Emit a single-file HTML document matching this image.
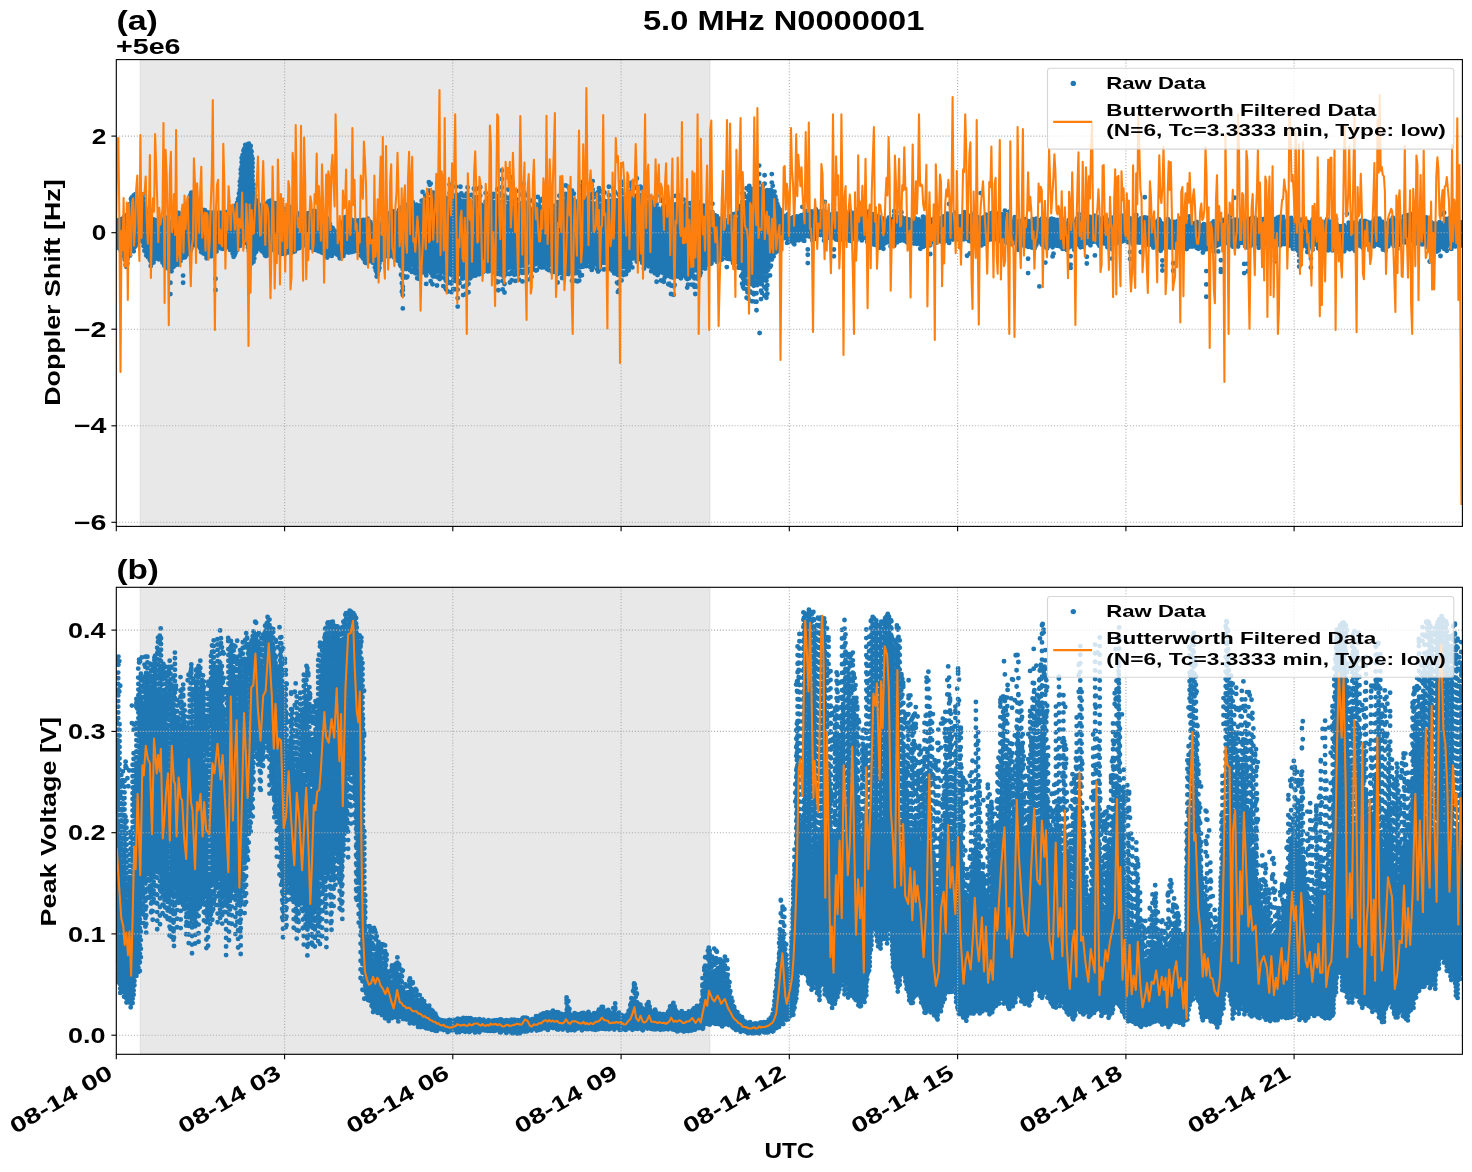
<!DOCTYPE html><html><head><meta charset="utf-8"><title>5.0 MHz N0000001</title><style>html,body{margin:0;padding:0;background:#fff}html,body{overflow:hidden}svg{display:block;will-change:transform}</style></head><body><svg width="1472" height="1172" viewBox="0 0 1472 1172" font-family="'Liberation Sans', sans-serif" font-weight="bold" fill="#000"><rect width="1472" height="1172" fill="#fff"/><clipPath id="c1"><rect x="116.3" y="59.6" width="1346.1" height="466.8"/></clipPath><clipPath id="c2"><rect x="116.3" y="587.3" width="1346.1" height="467"/></clipPath><rect x="140.3" y="59.6" width="569.5" height="466.8" fill="#e8e8e8" stroke="#dcdcdc" stroke-width="1"/><g clip-path="url(#c1)"><path d="M401 266.2V277.6M401.9 266.2V297M402.8 269.6V295.5M403.7 267.5V283.7M406.4 269V280.4M407.3 268.2V280.6M409.1 268.1V272.9M410 270.2V272.9M410.9 269.9V272.5M411.8 271.9V278.7M412.7 270.4V274.4M415.4 273.2V275.3M416.3 269V276.1M417.2 269.8V279.1M418.1 273.7V280.2M419 270.4V283M419.9 269.6V274.5M420.8 272.7V275.5M421.7 200.8V204.1M422.6 192V203.6M422.6 271.7V275.9M425.3 195.6V202M426.2 196.8V201.4M426.2 275.4V284.8M428 192.7V200.4M428.9 182.3V199.8M429.8 184.8V199.3M430.7 183.6V198.7M430.7 272.7V288.9M431.6 192.7V199.1M432.5 275.8V284.9M433.4 192.7V199.8M433.4 276.5V283.4M435.2 197.8V200.5M437 277V289.1M437.9 186.5V201.6M437.9 276.4V281.3M438.8 201V202M439.7 279V281.7M443.3 277.6V289.9M444.2 196V202.8M445.1 278.8V289.5M446 280.8V295.2M446.9 200.7V202.8M446.9 278.8V285.2M447.8 283V295M448.7 197.9V202.8M449.6 184.6V202.8M449.6 282.1V288.2M450.5 186.9V202.8M451.4 283.6V296.6M453.2 280.7V290.5M455 280.7V296M455.9 186.7V202.8M455.9 281.1V284.8M456.8 194.6V202.8M457.7 196.4V202.8M457.7 281.1V308.3M458.6 281.1V284.5M459.5 199.2V202.8M459.5 283V290.4M460.4 186.7V202.8M461.3 193.5V202.8M463.1 278.1V298.6M464 196V203.1M464.9 277.7V288.7M465.8 277V296.3M466.7 193.8V203.3M466.7 276.7V290.9M467.6 187.4V203.4M468.5 275.2V292.4M470.3 278.3V279.1M471.2 194.9V203.8M471.2 275.9V278.8M473.9 188.7V204.1M473.9 275.1V281M475.7 189.3V204.2M476.6 188.8V204.3M476.6 271.7V278.7M479.3 274.3V276.5M480.2 187.2V204.7M482.9 272V278.5M484.7 270.9V274.7M485.6 193.1V204.5M487.4 199.1V204.3M489.2 197.6V204.1M490.1 195.8V204M492.8 197.2V203.8M493.7 193.9V203.7M496.4 201.7V203.4M496.4 272.7V282.1M497.3 189.2V203.3M497.3 273.7V282.5M498.2 196.2V203.2M498.2 273.3V291.1M500 193.9V203.1M500.9 193.7V203M501.8 170.4V202.9M502.7 196.3V202.9M502.7 272.4V290.4M503.6 195.7V203.1M503.6 276.3V282.1M504.5 201.4V203.2M504.5 275.5V294.5M505.4 196.5V203.4M508.1 189.5V204M508.1 273.7V281M509.9 274V286.7M510.8 196.7V204.5M511.7 177.5V204.7M511.7 271.8V280.4M512.6 182.9V204.9M512.6 273.6V275.2M514.4 274.8V279M515.3 272.4V281.2M516.2 190.9V205.6M517.1 205.5V205.8M517.1 271.1V278.6M518 274.4V280.8M518.9 271.1V280.2M519.8 270.9V277.9M521.6 194.7V206.7M522.5 272.9V281.5M523.4 183.9V207M523.4 270.9V278.4M524.3 193V207.1M524.3 272.6V276.9M526.1 195.3V207.2M526.1 272.6V279.7M527 272.9V274.3M527.9 271.1V280.6M528.8 269.1V274.8M529.7 201.2V207.6M529.7 268.7V275.5M530.6 270.8V275.8M531.5 200.6V207.8M531.5 268.2V276.8M533.3 269.3V276.9M536 270.6V272.5M536.9 270.1V271.8M537.8 197V208.4M539.6 266.9V271.8M540.5 200.7V208.7M541.4 200.1V208.8M541.4 267.3V270.9M542.3 198.9V208.9M545 202.2V209.5M545.9 204.7V209.8M546.8 268.8V273.4M547.7 268.8V273.1M548.6 207.2V210.7M548.6 270.1V272.3M549.5 209.2V211M551.3 270.8V275.9M552.2 205.5V211.9M552.2 272V277.7M553.1 271.6V274.4M554 205.9V212.5M554 268.9V277.1M554.9 271.7V279M556.7 273.1V279.1M557.6 202.2V210.6M557.6 274V283.2M558.5 206.4V209.5M559.4 195.7V208.3M561.2 273.1V280M562.1 269.5V279.5M563 195.3V203.8M563 273.6V276.9M564.8 201.4V202.8M564.8 273.9V277.9M565.7 185.5V202.8M565.7 271.6V276.7M567.5 196.9V202.8M568.4 187V202.8M568.4 274.1V278.1M569.3 188.4V202.8M570.2 195.9V202.8M571.1 195.4V202.8M572 190.6V202.8M572 272.3V287.5M572.9 200.3V202.8M572.9 270.8V274.6M573.8 193.7V202.8M574.7 273.4V274.6M575.6 272.2V287M577.4 272.9V285.3M578.3 272.5V272.7M579.2 272.1V283.3M580.1 267.2V278.1M581 186.2V202.7M581.9 266.7V276.7M582.8 181.9V202.4M582.8 266.6V270.6M584.6 263.6V268.4M590 266.7V271.1M590.9 188.4V201M591.8 185.7V200.9M591.8 269.9V272.2M592.7 181.1V200.8M594.5 193.7V201.4M597.2 197.4V202.3M598.1 192.2V202.6M598.1 271.6V277M599 188.2V202.9M600.8 191.3V203.5M602.6 201.4V204.1M603.5 193.6V204.4M603.5 269.4V270.9M604.4 192.5V204.7M604.4 269.3V272.2M608.9 186.8V204.4M610.7 269.3V272M612.5 270.8V274.9M613.4 188.8V203.9M614.3 191.3V203.8M614.3 273.4V276.2M615.2 192.5V203.7M617 274.1V286.1M617.9 274.9V296.3M618.8 194.7V203.3M618.8 273.4V295.6M620.6 272.1V278.2M621.5 181.7V203M621.5 271.9V283.1M622.4 184.7V202.9M622.4 272.8V278.2M623.3 275.1V280.4M624.2 273.6V275.6M625.1 202V202.3M625.1 272.5V277.3M626 274.2V282.7M626.9 271.2V276.4M627.8 194.1V201.5M630.5 185.8V200.7M631.4 182.6V200.5M632.3 187.8V200.2M632.3 267.4V271M633.2 196.9V200M634.1 188.3V199.7M636.8 178.5V198.9M638.6 189.7V199.2M640.4 186.7V200M641.3 187.8V200.4M644 197.7V201.6M644.9 188.9V202M648.5 196.4V203.6M649.4 201.7V204M651.2 271.3V273.5M653 201.3V205.6M654.8 204.8V206.4M655.7 270.4V275.1M656.6 195.8V207.2M656.6 273.3V283.7M657.5 275.1V277.1M658.4 273V275.9M661.1 272V282.8M662 200.8V209.3M662.9 199.5V209.7M663.8 205.8V210M663.8 273.2V283.5M664.7 277.6V283M665.6 274.4V282.4M668.3 275.7V290M669.2 275.3V290.9M671 277V294.6M671.9 205V210.4M672.8 277.2V294.2M673.7 277.8V301.2M674.6 208.7V210.2M674.6 276.4V293.3M675.5 195.9V210.1M677.3 209.5V209.9M677.3 276.2V284.5M678.2 195.5V209.8M678.2 275.5V281.5M679.1 200.1V209.7M681.8 206.9V209.4M683.6 199.6V209.3M686.3 203.7V209M686.3 277.9V282.6M687.2 279.1V288.8M688.1 276.1V289.7M689 278.3V284.8M689.9 203.3V208.5M691.7 276.1V287.3M693.5 276.1V287.8M694.4 278.3V291.2M695.3 277V294.4M696.2 278.2V287.8M697.1 276.8V281.5M698 278.9V283M698.9 202.6V207.1M699.8 275.6V280.3M705.2 206.4V210.3M711.5 263.3V266.1M712.4 203.7V214.7M715.1 259.5V265.5M716.9 261.8V269M721.4 259.8V264.5M722.3 259.3V267.8M723.2 214.5V219.5M726.8 258.6V268.9M728.6 258.9V265.5M729.5 216.5V220.3M731.3 259.5V265.7M733.1 214.1V220.7M733.1 263V263.8M734 215V220.9M734.9 260.2V264.7M736.7 212.8V221.2M737.6 262V265.9M738.5 212.1V217.7M738.5 267.8V275.7M739.4 206V215.5M740.3 208.9V213.2M741.2 276.1V281.4M742.1 193.2V209.6M742.1 275.2V289M743 278.3V294.1M743.9 193.6V206.7M743.9 280.1V295.8M744.8 196.5V205.2M745.7 283.1V290.8M746.6 188.3V202.4M746.6 280.7V299M747.5 283.8V298.3M748.4 190.1V199.5M748.4 281.7V306.2M749.3 186V198M750.2 190.2V196.6M750.2 283V293.2M751.1 189V195.2M752 284.2V309.5M752.9 282V289.3M753.8 285.8V298.6M754.7 284.6V304.9M755.6 190V193M755.6 282.8V290.1M756.5 192.4V192.6M756.5 284.7V318.7M757.4 186.3V192.2M759.2 165.6V191.5M759.2 283.4V291.9M761 188.9V190.8M761 282.1V304.9M761.9 284.3V293.1M762.8 186V190.8M764.6 175.2V191.1M764.6 278.8V301.9M766.4 272.3V300.1M767.3 268.2V295M768.2 269.7V271.7M769.1 267.4V272.9M770 266.9V278.5M770.9 265.8V268.7M771.8 174.1V192.6M772.7 185.8V193.4" stroke="#1f77b4" stroke-width="4.9" stroke-linecap="round" stroke-dasharray="0 8.5" fill="none"/><path d="M116.6 222.1V248.6M117.5 220.8V247.6M118.4 220.2V249.2M119.3 220.8V249.3M120.2 219.5V249.7M121.1 221.2V250M122 218.9V250.5M122.9 219.6V253.6M123.8 217.5V257.7M124.7 220.9V262.6M125.6 217.6V266.6M126.5 215.3V269.3M127.4 216.1V266.6M128.3 213.3V259.4M129.2 208.5V259M130.1 203.9V257.9M131 199V254.6M131.9 197.5V252.3M132.8 198.3V252.4M133.7 195.4V252.5M134.6 195.5V249.2M135.5 194.3V250M136.4 200.3V247M137.3 199.9V246.8M138.2 202.8V243.3M139.1 203.3V237.7M140 201.3V241.2M140.9 199V239.1M141.8 199.7V242.3M142.7 194.5V242.3M143.6 198.7V248.6M144.5 203.5V251.2M145.4 208.4V254.4M146.3 212.5V257M147.2 213V255.4M148.1 214.3V261M149 217.6V257.9M149.9 217.1V262.2M150.8 218.6V267.1M151.7 219.7V266.3M152.6 219.2V264.9M153.5 219.5V263.9M154.4 219.7V261.7M155.3 220V261.5M156.2 221.2V259.5M157.1 221.3V256.9M158 225.7V258.2M158.9 220.7V260.9M159.8 223.2V257.9M160.7 219.8V260.4M161.6 219.6V261.1M162.5 219.6V263.6M163.4 219.9V265.9M164.3 218.5V267.2M165.2 217.8V268.3M166.1 217.7V266.3M167 220.6V269.6M167.9 220.9V271M168.8 221.5V272.5M169.7 222.4V272.9M170.6 222.4V271.4M171.5 224V271.7M172.4 222.9V269.7M173.3 219.8V267.2M174.2 218.4V269.2M175.1 217.9V267.9M176 216.7V268.2M176.9 216.1V264.3M177.8 212.7V264.6M178.7 212.9V264.8M179.6 214.2V263.1M180.5 218V262.4M181.4 218.3V261.2M182.3 215.8V258.8M183.2 214.5V259M184.1 214.2V259M185 214.2V258.9M185.9 212.5V257.8M186.8 211.5V254.7M187.7 211.4V253.5M188.6 207V253.7M189.5 200.7V250.2M190.4 195.1V251.3M191.3 192.7V249.7M192.2 192.7V243.4M193.1 192.8V247.2M194 193.5V248.4M194.9 204V245.6M195.8 211V248.5M196.7 212.7V246.9M197.6 211.5V243M198.5 210.9V248.8M199.4 212.3V250.2M200.3 209.8V249.8M201.2 209.1V252.3M202.1 209.6V253.3M203 210V254.8M203.9 210.6V254.9M204.8 210.3V257M205.7 211.7V255.4M206.6 215.2V258.2M207.5 213V256.7M208.4 212.6V256.2M209.3 212.7V257M210.2 214.9V256.6M211.1 213.3V257.1M212 212.6V256.3M212.9 213.7V255.8M213.8 212.6V255.7M214.7 212.6V253.3M215.6 212.6V254.4M216.5 212.8V253.3M217.4 213.1V248M218.3 212.6V248.7M219.2 217.4V250.2M220.1 212.7V249.6M221 214V250.4M221.9 213.1V243.1M222.8 214.5V249.3M223.7 215.2V249.1M224.6 212.6V247.9M225.5 213.7V245.4M226.4 212.8V247.7M227.3 211.9V247.2M228.2 211.8V246.5M229.1 211.8V247.4M230 211.2V250M230.9 211.3V251.8M231.8 211.6V251.9M232.7 210.6V257.6M233.6 209.4V259.5M234.5 207.9V258.4M235.4 205.7V253.2M236.3 205.6V252M237.2 202.8V250.1M238.1 199.1V250.7M239 193.4V247.8M239.9 181.4V246M240.8 169.5V245.9M241.7 157.9V243.4M242.6 155.1V243.8M243.5 150.8V242.6M244.4 148.8V241M245.3 145V240M246.2 147.4V243.3M247.1 144.7V246.5M248 144.2V251.2M248.9 143.7V254.1M249.8 146V258.8M250.7 145.9V262.6M251.6 151.6V266.2M252.5 158.7V264.4M253.4 184.3V261.7M254.3 194V260.9M255.2 195.7V254.7M256.1 200.2V252M257 201.2V250.1M257.9 203.2V248.8M258.8 204.8V245.3M259.7 205.9V250.8M260.6 210.6V251.1M261.5 212V252.1M262.4 208.6V253.6M263.3 208.8V254M264.2 205.9V254.9M265.1 208.1V257.1M266 204.5V256.1M266.9 203.9V257.3M267.8 202.4V256.3M268.7 201.4V255.9M269.6 201.8V254.3M270.5 200.7V246.9M271.4 201.3V250.9M272.3 202.4V250.4M273.2 203.3V249.5M274.1 206.4V248.8M275 203.1V248.6M275.9 203.4V247.9M276.8 203.4V252.1M277.7 203.9V253.1M278.6 205.1V253.3M279.5 204.2V254.3M280.4 205.1V254.7M281.3 206.5V254.7M282.2 207.8V249.7M283.1 207.6V250.5M284 208.6V252.7M284.9 211.3V254.7M285.8 210.2V253.1M286.7 212.9V254.5M287.6 209.3V252.6M288.5 209.4V252.9M289.4 207.9V254.2M290.3 207.2V252.3M291.2 209.9V254M292.1 211.7V251.1M293 213.1V253.7M293.9 214.8V253M294.8 212.7V251.5M295.7 214V251M296.6 213.3V251.8M297.5 214.1V251.2M298.4 216.6V248M299.3 213.6V250.4M300.2 216.4V249.9M301.1 214.8V247.4M302 214.5V248.5M302.9 214.5V247.5M303.8 215V248.3M304.7 214.9V248.4M305.6 214.5V248.3M306.5 215.5V249.3M307.4 214V248.4M308.3 213.3V248.7M309.2 213.2V249.6M310.1 212.7V249.7M311 213V249.4M311.9 213V248.2M312.8 211.4V244M313.7 210.9V250.5M314.6 210.9V249.9M315.5 212.9V248.9M316.4 211.4V251.4M317.3 213.5V252.1M318.2 212.4V252.9M319.1 212.4V253.6M320 212.8V251.7M320.9 213V251.1M321.8 213.8V255.6M322.7 214V254.6M323.6 214.7V252.9M324.5 214.8V255.9M325.4 215.5V257.7M326.3 216.9V254.5M327.2 218.8V257.6M328.1 220.8V257.2M329 224.3V256.8M329.9 224V254.7M330.8 227V256.5M331.7 230.1V256.8M332.6 227.9V256.5M333.5 229.8V252.9M334.4 231.5V255.2M335.3 231.7V256.7M336.2 235.9V255.6M337.1 232.9V257.9M338 233.4V257M338.9 230V258.4M339.8 228.2V259.5M340.7 225.5V259.5M341.6 223.4V256.5M342.5 223.6V257.5M343.4 221.7V256.7M344.3 218.6V255.9M345.2 217.1V253M346.1 217V254M347 217.3V250.6M347.9 217.9V252.7M348.8 218.1V252.6M349.7 220.5V252.3M350.6 218.9V251.8M351.5 221.9V252.5M352.4 221.6V252.4M353.3 220.7V252.7M354.2 221.1V252.1M355.1 220.5V251.6M356 222.8V251.1M356.9 220.7V252.1M357.8 222.9V249.6M358.7 222.6V252.1M359.6 220.1V252.7M360.5 221V256.6M361.4 221.7V255.8M362.3 222.6V258.1M363.2 219.9V260.5M364.1 220.5V261.8M365 223.5V262.3M365.9 219.9V264M366.8 219.9V265.6M367.7 218.8V264M368.6 220.6V257.9M369.5 224V260.3M370.4 222.3V261.1M371.3 225.7V260M372.2 225.1V256.9M373.1 228.3V262.7M374 231.8V265.8M374.9 233.2V269.5M375.8 236.2V273.1M376.7 237.8V276.7M377.6 235.8V277.8M378.5 236.3V272.4M379.4 229.2V270M380.3 229.1V261.1M381.2 225.5V263.5M382.1 223.3V259.8M383 221.3V258.7M383.9 220.2V258.3M384.8 221.9V257.3M385.7 215.7V254.2M386.6 215.1V253.6M387.5 217.6V256.8M388.4 215.3V257M389.3 213.4V257M390.2 213.1V253.8M391.1 211.7V255.2M392 212.5V255.8M392.9 211.2V252.3M393.8 214.2V258.2M394.7 215.3V256.3M395.6 218.8V256.6M396.5 218.6V261.3M397.4 217.5V262M398.3 212.3V260.8M399.2 209.9V263.5M400.1 213V267.6M401 207.8V263.2M401.9 209.1V263.4M402.8 207.2V263.6M403.7 211.7V263.8M404.6 212.8V268.4M405.5 211.3V267.7M406.4 206.8V264.3M407.3 209.5V264.5M408.2 204.4V266.9M409.1 204.3V264.8M410 204.3V265M410.9 208.8V265.2M411.8 207.4V265.4M412.7 202.1V265.5M413.6 210V268.5M414.5 205.6V271.9M415.4 208.5V266.1M416.3 204.7V266.3M417.2 206.3V266.4M418.1 208.3V266.6M419 207.1V266.8M419.9 205.4V267M420.8 208.6V267.2M421.7 206.6V264.5M422.6 206V267.6M423.5 201.9V273.4M424.4 207.7V272.5M425.3 204.4V275M426.2 203.9V268.5M427.1 201.1V267.8M428 202.8V270.8M428.9 202.3V274.2M429.8 201.7V272.1M430.7 201.2V269.6M431.6 201.5V271.3M432.5 197V270.1M433.4 202.2V270.3M434.3 204.1V274.3M435.2 203V273.1M436.1 198.8V274.4M437 199V271.2M437.9 204V271.6M438.8 204.4V271M439.7 202.8V272.4M440.6 199.8V279.7M441.5 201.9V273.1M442.4 203.7V271.6M443.3 205.1V273.9M444.2 205.3V273.3M445.1 204.8V274.7M446 199.3V275.1M446.9 205.3V275.5M447.8 201.7V275.9M448.7 205.3V276.2M449.6 205.3V276.6M450.5 205.3V277.2M451.4 200.5V277.3M452.3 206.6V277.4M453.2 205.4V276.9M454.1 201.3V281.4M455 199.4V276.6M455.9 205.3V276.4M456.8 205.3V279.2M457.7 205.3V276M458.6 200.1V275.8M459.5 205.3V275.7M460.4 205.3V275.6M461.3 205.3V275.7M462.2 201.1V280.1M463.1 201V274.6M464 205.5V277M464.9 203.9V273.9M465.8 200.9V273.5M466.7 205.8V273.2M467.6 205.9V279.2M468.5 199.5V272.5M469.4 202.2V277.6M470.3 202V271.7M471.2 206.2V271.4M472.1 206.9V269.8M473 207.3V277.1M473.9 206.5V270.3M474.8 200.7V272.8M475.7 206.7V276M476.6 206.8V269.2M477.5 207V275.6M478.4 200.4V267.1M479.3 207.6V268.1M480.2 207.1V267.9M481.1 204.9V270.2M482 208V273M482.9 209.6V267.2M483.8 205.8V270.5M484.7 207.3V267.4M485.6 206.9V267.4M486.5 204.3V266.5M487.4 206.8V273.9M488.3 200.9V272.7M489.2 206.6V273.7M490.1 206.5V269.4M491 200.5V268.6M491.9 205.5V270.5M492.8 206.2V267.2M493.7 206.1V271.9M494.6 202.7V273.3M495.5 204.2V273.8M496.4 205.9V268.5M497.3 205.8V268.6M498.2 205.7V268.7M499.1 207V271.5M500 205.5V274.6M500.9 205.4V275.8M501.8 205.3V270M502.7 205.3V269.1M503.6 205.5V269M504.5 205.7V268.9M505.4 205.9V271.5M506.3 208.7V273M507.2 208.4V269.5M508.1 206.4V268.6M509 202.7V268.4M509.9 202.9V268.4M510.8 206.9V267.5M511.7 207.1V268.2M512.6 207.3V268.1M513.5 207.9V269.3M514.4 207.8V267.9M515.3 202.5V267.8M516.2 208V268.3M517.1 208.2V267.7M518 204.8V267.6M518.9 205V267.5M519.8 208V267.4M520.7 206.1V267.6M521.6 209.1V268.2M522.5 207.6V267.1M523.4 209.4V267M524.3 209.5V266.7M525.2 206.1V267M526.1 209.7V266.3M527 207.5V266.1M527.9 210.7V265.8M528.8 206.2V265.6M529.7 210V265.4M530.6 210.5V265.2M531.5 210.2V264.9M532.4 210.1V270.1M533.3 208.6V264.5M534.2 211.7V263.6M535.1 204.2V266.8M536 207.9V263.8M536.9 207.3V263.6M537.8 210.9V265.9M538.7 204.7V264.8M539.6 207.2V263.1M540.5 211.1V262.9M541.4 211.2V263.4M542.3 211.3V267.3M543.2 211.5V264.9M544.1 211.2V267.7M545 212V265.1M545.9 212.3V265.6M546.8 207V264.5M547.7 211.2V264.7M548.6 213.2V264.9M549.5 213.5V266.5M550.4 212.9V264.7M551.3 213.3V265.4M552.2 214.4V265.6M553.1 213.7V265.8M554 215V265.9M554.9 210.4V266.1M555.8 208.8V272.1M556.7 213.6V266.5M557.6 213V266.7M558.5 211.9V266.2M559.4 210.8V271.6M560.3 210.7V272.9M561.2 207V267.1M562.1 209V267.1M563 206.3V267.1M563.9 201.1V266.1M564.8 205.3V267.1M565.7 205.3V267.1M566.6 198.6V273.4M567.5 205.3V271.6M568.4 205.3V267.1M569.3 205.3V271.5M570.2 205.3V270.3M571.1 205.3V274M572 205.3V267.1M572.9 205.3V267.1M573.8 205.3V271M574.7 201.6V267.1M575.6 205.6V267.1M576.5 205.2V273.1M577.4 201.5V266.1M578.3 205.4V265.4M579.2 201.6V264.8M580.1 204.6V264.1M581 205.1V265.4M581.9 202.2V262.7M582.8 204.8V262.1M583.7 206V267.8M584.6 204V261.1M585.5 199.9V264M586.4 201.5V268.1M587.3 197.6V264.8M588.2 199.7V263.5M589.1 199.7V264M590 204.1V263.4M590.9 203.5V266.9M591.8 203.3V264.2M592.7 203.3V269.5M593.6 203.4V262.4M594.5 203.9V265.7M595.4 203.9V264.2M596.3 204.4V267.7M597.2 204.8V270M598.1 205.1V266.9M599 205.4V273.3M599.9 205.8V269.7M600.8 206V266.1M601.7 205.3V263.4M602.6 206.6V264.4M603.5 206.9V263.4M604.4 207.2V262.8M605.3 206.9V264.1M606.2 204.7V261.6M607.1 201.5V262.4M608 204.4V265.4M608.9 206.9V265.7M609.8 203.9V269M610.7 201V264.8M611.6 202.7V267.8M612.5 202.9V266.6M613.4 206.4V267.9M614.3 206.3V268.4M615.2 206.2V267.3M616.1 205.6V274.4M617 200.5V271.1M617.9 205.9V270.8M618.8 205.8V270.3M619.7 202.2V275M620.6 202.4V269.4M621.5 205.5V269M622.4 205.4V268.5M623.3 202.5V268.1M624.2 198.3V267.6M625.1 204.7V267.2M626 200.1V266.7M626.9 204.2V266.3M627.8 204V268.7M628.7 201.5V271.9M629.6 196.6V268.5M630.5 203.2V264.7M631.4 202.9V262.9M632.3 202.7V262.1M633.2 202.4V260.3M634.1 202.2V261.1M635 196.4V260M635.9 196.8V260.4M636.8 201.4V262.1M637.7 199.5V262.8M638.6 201.6V261.6M639.5 198.7V262.4M640.4 202.4V261.8M641.3 202.8V262.8M642.2 202.5V264.9M643.1 202.4V265M644 204V268.8M644.9 204.4V264.1M645.8 204.6V265.3M646.7 202.6V264.1M647.6 205.7V264.7M648.5 206V266.8M649.4 206.4V266.1M650.3 206.2V268.6M651.2 208.6V265.9M652.1 204.3V270M653 208V268M653.9 202.7V271.4M654.8 208.8V273.6M655.7 203.9V267.7M656.6 209.6V268M657.5 210.8V268.3M658.4 208.7V268.6M659.3 210.7V274M660.2 211.9V270.4M661.1 211.6V269.5M662 211.8V270.8M662.9 212.1V276.3M663.8 212.5V270.4M664.7 206.1V270.7M665.6 213.3V271M666.5 214V269.9M667.4 212.9V277.3M668.3 208.1V271.4M669.2 206.2V271.5M670.1 211.4V274.1M671 209.1V271.7M671.9 212.9V274.9M672.8 209.2V271.8M673.7 209.3V271.9M674.6 212.6V272M675.5 212.5V272.7M676.4 213.8V275M677.3 212.3V272.3M678.2 212.3V272.4M679.1 212.2V278.8M680 207.4V271.6M680.9 205.1V278.5M681.8 211.9V276.3M682.7 213.1V275.4M683.6 211.7V276.1M684.5 211.2V279.8M685.4 205.1V270.6M686.3 211.4V273.2M687.2 207.6V273.2M688.1 209.8V273M689 209.1V272.9M689.9 210.9V275M690.8 210.4V278.5M691.7 204.4V272.5M692.6 211.6V273.9M693.5 210.6V272.2M694.4 208.9V272M695.3 207.7V271.9M696.2 204.3V271.8M697.1 210.4V271.6M698 205.2V271.5M698.9 209.5V275.9M699.8 210.6V271.2M700.7 208.3V273.8M701.6 207.9V271M702.5 206.4V269.4M703.4 205.8V266.7M704.3 212.3V269M705.2 212.7V268.7M706.1 212.1V264.5M707 213.2V268.1M707.9 214.6V262.3M708.8 213.8V258.5M709.7 215.4V264.3M710.6 216.5V265.4M711.5 211.9V258.2M712.4 217.1V257.1M713.3 218.5V261.1M714.2 216.8V261.1M715.1 215.5V256.8M716 219.1V256M716.9 216.3V256.2M717.8 218.2V257.8M718.7 220.1V258.8M719.6 221V260.5M720.5 222.1V260M721.4 218.6V254.9M722.3 222V255M723.2 222V256.2M724.1 215.9V258.6M725 219.9V257.3M725.9 221.1V255.9M726.8 221.7V255.6M727.7 221.5V257.2M728.6 221.5V255.8M729.5 222.7V260.8M730.4 223.2V261.4M731.3 217.2V256.1M732.2 223.2V260.1M733.1 223.2V256.3M734 223.3V259.5M734.9 219.1V256.6M735.8 225.3V261.6M736.7 223.6V261.4M737.6 222.7V258.4M738.5 220.2V261.1M739.4 217.9V267.2M740.3 215.7V269.7M741.2 212.2V269.2M742.1 212V271.9M743 213V274.6M743.9 209.1V275.6M744.8 207.7V276.8M745.7 205.4V276.5M746.6 204.8V277M747.5 201.7V277.4M748.4 201.9V277.9M749.3 200.5V277.2M750.2 199V278.8M751.1 197.6V284.2M752 196.2V279.4M752.9 192.7V279.4M753.8 194.4V279.4M754.7 195V279.4M755.6 195.4V279.4M756.5 195V279.4M757.4 194.7V286.4M758.3 189.6V280M759.2 194V279.4M760.1 191.7V285.6M761 193.2V279.4M761.9 192.8V278.8M762.8 193.2V279.9M763.7 194.3V280.6M764.6 193.6V271.6M765.5 190.9V268.4M766.4 195.3V266.8M767.3 190.2V264.4M768.2 193.6V262.6M769.1 190.9V261.7M770 193.8V260.8M770.9 189.9V259.9M771.8 195V260.4M772.7 195.8V256.6M773.6 196.4V256.9M774.5 191.7V255.4M775.4 196.7V253.6M776.3 200.1V254M777.2 203.6V252.6M778.1 206.5V251.1M779 208.8V246.6M779.9 210V245.1M780.8 211.9V242.6M781.7 216.6V241.5M782.6 216.8V239M783.5 218.3V239.8M784.4 220.8V239M785.3 216V240.1M786.2 220.2V240.9M787.1 217.1V247.1M788 214.3V242.1M788.9 220.2V244.3M789.8 218.3V242.3M790.7 219.3V240M791.6 218.9V244.3M792.5 219.6V244.9M793.4 217.2V246.4M794.3 218.5V246.2M795.2 219.3V244.7M796.1 218.1V239.3M797 216.5V241.4M797.9 219V239.2M798.8 218.7V243.3M799.7 216.5V239.4M800.6 215.6V240.5M801.5 215.3V238.1M802.4 216.7V238.4M803.3 214.8V242.5M804.2 215.1V241.6M805.1 215.3V236.2M806 214.8V237M806.9 211.2V236.5M807.8 212.4V237.2M808.7 214.1V237.6M809.6 215V237.6M810.5 212.2V236.5M811.4 211.5V236.4M812.3 214.5V240.6M813.2 214.7V237.8M814.1 213.2V235.7M815 213.1V242.3M815.9 209.4V238.6M816.8 213.6V238.2M817.7 213.9V235.1M818.6 211.9V235.7M819.5 211.8V235.4M820.4 213.5V236M821.3 215.8V236.7M822.2 213.1V235.2M823.1 211V236.1M824 214.7V240.6M824.9 214.8V239.5M825.8 212.1V236.3M826.7 213.1V237.2M827.6 216.9V236.3M828.5 215.5V240.6M829.4 216.4V241.2M830.3 215.3V239.4M831.2 214.5V238.1M832.1 215.9V237.9M833 214.3V237.4M833.9 205V239.2M834.8 215.4V238.2M835.7 213.4V240.6M836.6 215V239.3M837.5 213.9V242M838.4 216.5V238.4M839.3 216.4V238.4M840.2 218.2V242M841.1 216.6V238.6M842 212.6V242.3M842.9 217.6V241M843.8 216.2V238.3M844.7 216.8V237.7M845.6 214.7V239.1M846.5 217.3V241.4M847.4 213.4V241.2M848.3 214.3V238.3M849.2 216.6V240.4M850.1 210.8V242.9M851 215.4V239.4M851.9 213.1V238.1M852.8 214.6V238.7M853.7 213.3V238.8M854.6 213.2V239.8M855.5 215.5V240.1M856.4 210.1V240.4M857.3 214.4V240.1M858.2 214.7V237.7M859.1 215.7V236.8M860 214.9V238.4M860.9 217.1V241.1M861.8 214.6V241.9M862.7 217V237.5M863.6 216.6V240.8M864.5 217.3V238.2M865.4 215.5V240.6M866.3 216.2V237.8M867.2 211.7V244M868.1 217.9V240.7M869 217.7V238.6M869.9 214.8V242.9M870.8 215.3V240.3M871.7 218.7V242.8M872.6 217.9V241.8M873.5 214.3V246.6M874.4 217.9V244.4M875.3 214.8V245M876.2 217.3V244.5M877.1 220.9V241.8M878 220.5V243.6M878.9 216.6V242.7M879.8 221.9V249.5M880.7 222V243M881.6 220.2V246.7M882.5 220.9V243.2M883.4 218.7V250.4M884.3 221.9V243.5M885.2 222.8V243.9M886.1 222.5V242.9M887 220.8V244.4M887.9 223.2V244.6M888.8 217.7V243.4M889.7 220.3V242.6M890.6 220.4V247.8M891.5 219.1V242.1M892.4 220.4V245.7M893.3 221.9V242.6M894.2 211.3V246.2M895.1 220.4V243.4M896 218.2V242.7M896.9 216.6V242.7M897.8 217.3V241.7M898.7 221.5V242.7M899.6 219.3V244.8M900.5 219.1V241.3M901.4 212.3V241.5M902.3 217.8V243M903.2 220.7V241.9M904.1 219V241.5M905 218.7V242.9M905.9 218.5V243M906.8 220.8V243.5M907.7 221V240.6M908.6 219.5V241.6M909.5 220.5V247.2M910.4 220.4V241.1M911.3 220.2V241.7M912.2 220.5V241.3M913.1 221.2V242.2M914 222V244.3M914.9 218.1V242.1M915.8 222V241.6M916.7 222.3V244.2M917.6 220.5V245.1M918.5 219.4V245.1M919.4 220.8V243.3M920.3 222.9V249.3M921.2 221.1V244M922.1 220.6V247.6M923 216.8V250.1M923.9 223.2V244.6M924.8 220V246.9M925.7 217.8V243.3M926.6 220.8V243.8M927.5 218.5V243.4M928.4 223.4V245M929.3 219.7V244.1M930.2 219.4V245.5M931.1 220.3V243M932 220V242.4M932.9 220.3V243.3M933.8 219.7V244.1M934.7 221.1V246.5M935.6 217.1V241.8M936.5 221.1V244.7M937.4 220.4V241.7M938.3 220.7V240.8M939.2 219.9V241.3M940.1 219.7V245.2M941 218.2V240.4M941.9 219.7V242.3M942.8 219.3V244.5M943.7 216.4V244.5M944.6 218.5V239.1M945.5 219.3V243.6M946.4 216.5V242M947.3 213.6V240.4M948.2 216.2V240.7M949.1 217.1V245.2M950 217.9V240.7M950.9 216.6V241.6M951.8 214.6V239M952.7 218V242.2M953.6 215.1V238.3M954.5 216.7V237.7M955.4 212.6V240M956.3 216.5V240.6M957.2 216.6V238.4M958.1 218.1V243.5M959 216.4V239.8M959.9 217.8V242.3M960.8 217.2V238.8M961.7 216.3V241.2M962.6 216.4V239.6M963.5 217.9V242.7M964.4 212.1V240.6M965.3 215.2V240.7M966.2 217.1V239.6M967.1 218.2V239.4M968 215.7V241.3M968.9 219.3V240.9M969.8 216V239.7M970.7 219.4V239.8M971.6 216.1V243.1M972.5 217.5V242.3M973.4 217.7V240.7M974.3 213.5V241.5M975.2 217.5V241.9M976.1 218.7V242M977 217V243.4M977.9 218.3V242.7M978.8 220.1V241.4M979.7 218.7V239.6M980.6 218.1V242.1M981.5 219.6V245.7M982.4 218.9V239.6M983.3 217.5V240.4M984.2 217.7V239.7M985.1 218.1V245.2M986 214.8V242.7M986.9 216.3V242.7M987.8 216.4V241.4M988.7 217.6V242.1M989.6 217.8V241.7M990.5 213.5V242.9M991.4 217.6V238.3M992.3 217.8V241.6M993.2 212.3V238.5M994.1 218V240.5M995 216.6V238.5M995.9 218.3V238.3M996.8 213.8V239.5M997.7 216.8V238.8M998.6 218.2V238.5M999.5 216.6V239.4M1000.4 219.2V244M1001.3 214.3V242.8M1002.2 217.1V239.4M1003.1 219.3V242.2M1004 220.3V241.3M1004.9 210.7V240.7M1005.8 220.4V242.8M1006.7 216.8V245.8M1007.6 221.2V246.6M1008.5 221.7V242.5M1009.4 211.8V242.4M1010.3 219.4V242.7M1011.2 222.4V245.1M1012.1 221.4V246.4M1013 222V245.1M1013.9 222.4V242.7M1014.8 217.2V244.8M1015.7 221.7V246.1M1016.6 223.7V244.8M1017.5 221.1V247.1M1018.4 224V251.2M1019.3 224V246.7M1020.2 222.8V244.5M1021.1 220.9V244.8M1022 224.9V245.4M1022.9 221.5V246.6M1023.8 219.7V248.3M1024.7 220.3V246.5M1025.6 219.2V247.7M1026.5 224.2V244.7M1027.4 223.7V245.6M1028.3 221.1V248.5M1029.2 223.9V247.8M1030.1 224.5V244.6M1031 223V245.5M1031.9 221.7V248.8M1032.8 219.3V247.9M1033.7 220.6V244.3M1034.6 222.5V251.5M1035.5 220.3V246.5M1036.4 218.6V244.8M1037.3 223.2V244.2M1038.2 220.1V243.5M1039.1 223.7V244.2M1040 223V243.9M1040.9 220.8V244.5M1041.8 218.8V244.7M1042.7 221.2V245.6M1043.6 221.2V245.2M1044.5 223.8V244.4M1045.4 219.3V248.9M1046.3 221.6V249.8M1047.2 222.4V248.9M1048.1 221.5V244.2M1049 224.3V248.3M1049.9 221.1V245.7M1050.8 219.1V244.6M1051.7 218.6V244.1M1052.6 221.5V247.3M1053.5 219.2V246.6M1054.4 219.7V249.4M1055.3 221.8V246.7M1056.2 221.8V247.1M1057.1 219.9V248.3M1058 225.3V246.4M1058.9 224.2V247.5M1059.8 224.7V248.1M1060.7 225.9V247.2M1061.6 219.2V247.3M1062.5 223V250.6M1063.4 225.6V247M1064.3 222.7V248.5M1065.2 225.1V248.2M1066.1 223.8V247.6M1067 224.2V251M1067.9 225.1V247.4M1068.8 220.1V247.7M1069.7 225.6V249.7M1070.6 224.3V246.9M1071.5 224.2V249.7M1072.4 221.7V245M1073.3 224V245M1074.2 223.9V251.1M1075.1 222.3V244M1076 221.7V246.4M1076.9 218.7V246.5M1077.8 220.5V243.2M1078.7 214.3V244.8M1079.6 217.9V244.4M1080.5 221.5V247.7M1081.4 223V245M1082.3 222.7V248M1083.2 220.9V250.1M1084.1 221.2V242.5M1085 212.4V242M1085.9 221.3V242.2M1086.8 221.6V243.5M1087.7 220.3V244.6M1088.6 218.5V241.8M1089.5 216.6V240.9M1090.4 219.4V245.3M1091.3 220.7V242.2M1092.2 220.4V242.2M1093.1 218.8V240.8M1094 215.8V243.1M1094.9 215.9V241.4M1095.8 216.9V242.5M1096.7 220.3V244.4M1097.6 217V245.6M1098.5 218.2V245.3M1099.4 219.9V248.2M1100.3 221.1V245M1101.2 219.1V241.6M1102.1 218.9V242.6M1103 219.4V243.1M1103.9 217.6V246M1104.8 221.8V241.9M1105.7 220.3V242.9M1106.6 222.9V244.7M1107.5 221.4V248.7M1108.4 220.1V243.1M1109.3 221.5V245.5M1110.2 222.5V244.3M1111.1 222.2V244.2M1112 223.2V249M1112.9 217.7V243.6M1113.8 221.6V243.6M1114.7 222V247M1115.6 222V244.2M1116.5 221.7V244.8M1117.4 220.4V245.3M1118.3 220.3V244.6M1119.2 222.4V242.1M1120.1 222.4V242.3M1121 222.2V242.2M1121.9 215.8V242.2M1122.8 221.2V241.5M1123.7 216.5V242.1M1124.6 217.9V243.3M1125.5 214.9V240.9M1126.4 219.3V241.5M1127.3 218.9V241.8M1128.2 220.7V245.2M1129.1 219.8V243.3M1130 218.5V242.6M1130.9 219.4V240M1131.8 219.3V241.2M1132.7 218.7V244.7M1133.6 219.2V240M1134.5 215.4V240.3M1135.4 217.5V241.6M1136.3 215V240.6M1137.2 220.7V242.7M1138.1 220.7V243.1M1139 219.4V241.7M1139.9 221V242.7M1140.8 218.4V243.9M1141.7 218.9V242.2M1142.6 220.1V241.7M1143.5 220.4V244.5M1144.4 217.5V243M1145.3 217.9V243M1146.2 217.7V244.8M1147.1 218.2V245.3M1148 220.2V243.9M1148.9 223.6V247.5M1149.8 222.1V245M1150.7 222.3V245.1M1151.6 222.9V245.1M1152.5 219V248M1153.4 221.7V248.7M1154.3 223.3V245.6M1155.2 224.2V246.4M1156.1 221.9V246.6M1157 225.7V246.2M1157.9 224.2V245.6M1158.8 219.1V251.5M1159.7 220.4V246.9M1160.6 224.9V250.7M1161.5 223.3V253.1M1162.4 224V247.1M1163.3 224.3V245.9M1164.2 225V249.3M1165.1 223.9V246.3M1166 222.8V251.2M1166.9 225.9V249.4M1167.8 219.2V246.1M1168.7 224.8V248.7M1169.6 221.5V246.4M1170.5 221.8V251.2M1171.4 224.6V245.1M1172.3 221.7V245M1173.2 224.2V248.3M1174.1 224.6V245.8M1175 222V250M1175.9 224.3V245.3M1176.8 225V246.2M1177.7 221.3V246M1178.6 224.4V245.3M1179.5 218.6V244.6M1180.4 224.3V250.5M1181.3 222.6V245M1182.2 220.1V245.7M1183.1 222.5V245.4M1184 225.2V244.9M1184.9 224.1V248.5M1185.8 223.7V245.3M1186.7 223.2V250.4M1187.6 225.1V245.8M1188.5 221.6V247M1189.4 216.5V246.6M1190.3 220.2V245.9M1191.2 224.8V247.7M1192.1 225.1V249.5M1193 224.7V249.5M1193.9 223.7V246.6M1194.8 223.2V248.1M1195.7 227.3V246.9M1196.6 221.9V250.2M1197.5 226.8V247.1M1198.4 222.9V248.7M1199.3 226.7V251.9M1200.2 227.9V248M1201.1 225.8V248.9M1202 226.1V248.1M1202.9 226.7V252.8M1203.8 224.3V250.2M1204.7 224.5V247.6M1205.6 224.6V248M1206.5 227.6V250.5M1207.4 227V251.8M1208.3 227.3V252.8M1209.2 227.5V250.7M1210.1 227.3V247.2M1211 224V247.8M1211.9 223.5V246.9M1212.8 224.9V249M1213.7 221.5V252.5M1214.6 224.2V246M1215.5 224.7V245.6M1216.4 224.4V247M1217.3 222.3V246.9M1218.2 222.1V245.1M1219.1 223.1V244.7M1220 222.4V245.6M1220.9 220.1V245.4M1221.8 221.2V246.1M1222.7 220V243.5M1223.6 223.3V249.5M1224.5 221.7V243M1225.4 222.5V243.4M1226.3 221.3V245.5M1227.2 219.4V244.7M1228.1 219.2V243.7M1229 223V245.6M1229.9 216V244.2M1230.8 221.4V243M1231.7 221.5V246.7M1232.6 220.7V247M1233.5 222.6V243.3M1234.4 221.7V243M1235.3 219.7V246.3M1236.2 222V242.9M1237.1 221.2V245.5M1238 220.8V247.1M1238.9 220.1V244M1239.8 222.5V244M1240.7 221.4V244.2M1241.6 223.9V243.6M1242.5 221.3V244M1243.4 223.6V243.9M1244.3 216.5V243.6M1245.2 220.4V246.6M1246.1 221.3V244.6M1247 223.4V247M1247.9 221.8V249.4M1248.8 219.3V243.8M1249.7 221.5V244.6M1250.6 219.9V247.5M1251.5 218.3V247.6M1252.4 220.7V244.2M1253.3 221.4V243.6M1254.2 223V246.7M1255.1 218V243.6M1256 221.1V244.2M1256.9 222.3V246.5M1257.8 220.3V244.7M1258.7 221.9V248.4M1259.6 219.2V245.1M1260.5 221.9V241.8M1261.4 221.6V242M1262.3 221.9V242.4M1263.2 219.2V242.6M1264.1 219.4V242M1265 220.3V242.3M1265.9 218.1V246.4M1266.8 220.7V244.8M1267.7 217.8V249.1M1268.6 220.5V243.5M1269.5 217V240.3M1270.4 220.1V240.8M1271.3 218.3V243.3M1272.2 220.1V240.3M1273.1 221V242.5M1274 219.5V240.4M1274.9 219.1V242.3M1275.8 221.1V244.6M1276.7 221.4V245.7M1277.6 217.8V242.8M1278.5 220.7V242.3M1279.4 217V242.6M1280.3 219.6V247.2M1281.2 221.4V241.8M1282.1 221.6V244.5M1283 217V242.8M1283.9 222.6V245.3M1284.8 222V245.9M1285.7 222.4V244.5M1286.6 220.6V244.4M1287.5 222.8V243.5M1288.4 221.3V246M1289.3 224.1V246.1M1290.2 223.3V244.2M1291.1 218V247M1292 220.3V250.1M1292.9 222.9V250M1293.8 225.1V245.8M1294.7 223.3V249.9M1295.6 221.6V245.5M1296.5 221.5V250.3M1297.4 225.4V246.9M1298.3 225.1V252.1M1299.2 225.6V247.8M1300.1 221.1V246.3M1301 219.6V250.5M1301.9 225.3V247.2M1302.8 225.6V246.8M1303.7 224V247.5M1304.6 223.2V245.2M1305.5 223.6V246.4M1306.4 224.2V247.2M1307.3 221.9V252.6M1308.2 224.1V249.8M1309.1 222.8V248.1M1310 223.7V245.7M1310.9 222.4V245.2M1311.8 225.2V247.4M1312.7 219.5V250.1M1313.6 220.3V244.6M1314.5 225V245.1M1315.4 221.9V247.3M1316.3 223V245.3M1317.2 222V246.5M1318.1 222.4V248.8M1319 220.2V244.7M1319.9 219.6V244.7M1320.8 221.1V251.7M1321.7 222.5V247.9M1322.6 222.8V249.8M1323.5 225.7V246.1M1324.4 224V247.4M1325.3 224.9V250M1326.2 221.6V247.8M1327.1 219.5V246.8M1328 224.6V253.4M1328.9 222.5V248.4M1329.8 221.9V249M1330.7 225.5V247.8M1331.6 221.5V249.3M1332.5 224.6V251.5M1333.4 225.4V249.1M1334.3 225.1V248.9M1335.2 222.1V251.3M1336.1 219.1V251.9M1337 227.9V249.2M1337.9 228.8V253.3M1338.8 226.3V253.1M1339.7 228V249.4M1340.6 227.7V250.7M1341.5 226.1V250.6M1342.4 227.6V249.1M1343.3 228.8V250.3M1344.2 225.4V251.2M1345.1 227.1V251.2M1346 228.3V249.8M1346.9 227.8V248.9M1347.8 226.6V252.1M1348.7 222.8V250.8M1349.6 227.7V250.6M1350.5 227.6V248.8M1351.4 225.1V249.9M1352.3 223.3V247.4M1353.2 222.7V248.9M1354.1 223V249.5M1355 224.9V251M1355.9 223.2V246.4M1356.8 224.1V249.2M1357.7 224V247.5M1358.6 224.9V245.1M1359.5 224.8V245M1360.4 222.9V245.6M1361.3 220.8V246.9M1362.2 222.6V244.2M1363.1 222.2V249.4M1364 222.8V244.3M1364.9 221V246.1M1365.8 223.4V244.2M1366.7 221.8V243.8M1367.6 223.4V249.1M1368.5 223.1V248.9M1369.4 222.6V248M1370.3 223.6V244.9M1371.2 223.9V246.1M1372.1 223.2V243.9M1373 222.1V245.3M1373.9 220.4V247.8M1374.8 220.3V244.4M1375.7 218V245.2M1376.6 224.5V244.1M1377.5 222.1V245.2M1378.4 223.4V248.9M1379.3 218.6V246.6M1380.2 223.4V246.8M1381.1 224.5V250.1M1382 221.6V245.3M1382.9 223.8V250.5M1383.8 224.5V246.4M1384.7 224.6V246.5M1385.6 224.7V252M1386.5 223.4V247.2M1387.4 223.6V246M1388.3 224.8V249.3M1389.2 222.3V245.1M1390.1 224.6V245.6M1391 220.4V245.9M1391.9 223.7V244.6M1392.8 217.8V244.4M1393.7 220V248.2M1394.6 221.6V244.8M1395.5 223.2V244.8M1396.4 221.7V244.2M1397.3 223.3V249.6M1398.2 219.5V246.4M1399.1 219.9V242.6M1400 222.5V244.9M1400.9 221.8V241.7M1401.8 222V243.2M1402.7 220.6V245.4M1403.6 216.5V241.6M1404.5 217.6V242M1405.4 220.9V242.7M1406.3 217.7V242.6M1407.2 215.2V244.1M1408.1 219.3V243.8M1409 219.9V246.5M1409.9 220.6V241.2M1410.8 214V240.5M1411.7 219.3V240.8M1412.6 219.4V242.2M1413.5 217.6V241.8M1414.4 219.6V243.6M1415.3 218.6V241.1M1416.2 220.1V241.3M1417.1 221V241.5M1418 222V245M1418.9 221V243.3M1419.8 222.4V246.1M1420.7 220V245M1421.6 218.6V243.6M1422.5 222.9V245.8M1423.4 223.1V244.2M1424.3 219.2V244.9M1425.2 223.9V243.4M1426.1 217.4V245.7M1427 223.6V244.4M1427.9 221.4V247.2M1428.8 219.3V248.2M1429.7 223.7V249.5M1430.6 222.7V245.4M1431.5 222.5V245.6M1432.4 225.1V246.8M1433.3 225.2V249.3M1434.2 224.8V250M1435.1 223.7V247.5M1436 223.7V247.7M1436.9 225.7V253.6M1437.8 225.8V245.8M1438.7 224.6V252.9M1439.6 222.3V245.2M1440.5 225.7V248.4M1441.4 223.7V246.3M1442.3 225.2V246.6M1443.2 225.1V245.3M1444.1 222.9V250M1445 224.8V248.3M1445.9 218.9V245.2M1446.8 224.9V251.4M1447.7 221.2V245.8M1448.6 220.5V244.9M1449.5 218.2V245.2M1450.4 222.8V246.8M1451.3 223.1V249.7M1452.2 223V246.1M1453.1 224.2V245.7M1454 222.8V245.1M1454.9 224.8V249M1455.8 224.7V247.6M1456.7 219.2V248.4M1457.6 221.4V245M1458.5 223.4V244.7M1459.4 224V246.1M1460.3 224.3V246.6M1461.2 222.5V245.2M1462.1 223.6V246.4" stroke="#1f77b4" stroke-width="4.9" stroke-linecap="round" stroke-dasharray="0 4.3" fill="none"/><path d="M802.4 206.9h0M807.8 249.4h0M807.8 254.7h0M807.8 263.1h0M824.9 201.9h0M833.9 249.5h0M833.9 256.3h0M900.5 212h0M930.2 254h0M949.1 204h0M967.1 255.8h0M969.8 253.4h0M980.6 193.1h0M1045.4 262.6h0M1052.6 256.4h0M1053.5 253.7h0M1070.6 256.2h0M1070.6 264.6h0M1070.6 267.9h0M1086.8 256.8h0M1086.8 263.5h0M1094.9 255.4h0M1112 258.6h0M1130 252.1h0M1130 259.1h0M1140.8 252h0M1162.4 260.5h0M1162.4 265.6h0M1162.4 270.5h0M1173.2 263.3h0M1173.2 270.8h0M1218.2 251.4h0M1220.9 260.3h0M1220.9 269.2h0M1220.9 271.9h0M1234.4 197.7h0M1247.9 263.7h0M1247.9 271.3h0M1274.9 256.3h0M1274.9 261.4h0M1299.2 255.2h0M1299.2 261.1h0M1299.2 266.6h0M1310.9 258.6h0M1310.9 267.4h0M1346.9 213.8h0M1429.7 261.5h0M1440.5 256h0M1441.4 214.4h0M1444.1 212.8h0M170.4 282.8h0M170.4 294.1h0M215.5 278.7h0M215.5 290h0M402.8 290h0M402.8 308.4h0M183.1 282.8h0M183.1 275.6h0M759.6 333h0M1039.4 286.4h0M1028.1 273.1h0M1028.1 258.8h0M1206.3 271.1h0M1206.3 284.4h0M1206.3 296.7h0M1244.2 263.9h0M1244.2 273.1h0M1144.8 197.3h0M1058.8 211.7h0" stroke="#1f77b4" stroke-width="4.9" stroke-linecap="round" fill="none"/></g><g stroke="#b0b0b0" stroke-width="1.1" stroke-dasharray="1.1 1.83" fill="none"><path d="M284.6 59.6V526.4"/><path d="M452.8 59.6V526.4"/><path d="M621.1 59.6V526.4"/><path d="M789.3 59.6V526.4"/><path d="M957.6 59.6V526.4"/><path d="M1125.9 59.6V526.4"/><path d="M1294.1 59.6V526.4"/><path d="M116.3 136.1H1462.4"/><path d="M116.3 232.7H1462.4"/><path d="M116.3 329.2H1462.4"/><path d="M116.3 425.8H1462.4"/><path d="M116.3 522.3H1462.4"/></g><polyline clip-path="url(#c1)" points="116.3,218.2 117.3,138.5 118.4,138 119.4,222.6 120.5,372 121.5,230.7 122.6,250.5 123.6,198.1 124.7,266.7 125.7,265.9 126.8,202.5 127.8,300 128.9,203.4 129.9,227.3 131,255.7 132,202.3 133.1,198.4 134.1,245.7 135.2,225.6 136.2,189 137.3,175.6 138.3,220.2 139.4,261 140.4,135 141.5,238.1 142.5,193.3 143.6,194.2 144.6,192.8 145.7,176.6 146.7,218.4 147.8,243.8 148.8,214.9 149.9,155.1 150.9,277.9 152,216.9 153,198.2 154.1,211.8 155.1,134 156.2,167 157.2,200.5 158.3,242.2 159.3,207.8 160.4,224.6 161.4,218.6 162.5,209.1 163.5,123 164.6,303 165.6,149.7 166.7,174.8 167.7,218.2 168.8,325.2 169.8,175.5 170.9,151.7 171.9,232 173,226 174,194 175.1,234.9 176.1,130 177.2,261 178.2,251.5 179.3,216.9 180.3,266.4 181.4,213.5 182.4,204.6 183.5,252.7 184.5,195.6 185.6,229.3 186.6,203.6 187.7,196.3 188.7,238.2 189.8,256.7 190.8,286.2 191.8,247.4 192.9,239 193.9,158.4 195,183.2 196,263 197.1,183.4 198.1,202.1 199.2,232.9 200.2,190.9 201.3,166.8 202.3,237.7 203.4,224.4 204.4,212.6 205.5,250.7 206.5,212.8 207.6,215.2 208.6,259.7 209.7,242.8 210.7,206.1 211.8,175 212.8,100 213.9,240.9 214.9,330 216,208.4 217,184.9 218.1,179.7 219.1,243.3 220.2,229.5 221.2,244.1 222.3,246.4 223.3,143.8 224.4,186.3 225.4,268.8 226.5,213 227.5,229.9 228.6,186.2 229.6,201.7 230.7,230.3 231.7,205.3 232.8,204.6 233.8,212.6 234.9,229.7 235.9,215.3 237,203.4 238,250.4 239.1,218.9 240.1,221.6 241.2,227.9 242.2,192.5 243.3,250.7 244.3,241.1 245.4,241.5 246.4,203.8 247.5,229.6 248.5,346 249.6,204.6 250.6,292.6 251.7,210 252.7,234 253.8,233.2 254.8,212.7 255.9,194.9 256.9,179.5 258,156.5 259,205.3 260.1,235.6 261.1,234.7 262.2,193.9 263.2,161 264.3,204.4 265.3,244.9 266.3,204.4 267.4,206.5 268.4,212.8 269.5,248.3 270.5,298.3 271.6,241.7 272.6,166.5 273.7,220.4 274.7,288.5 275.8,234.7 276.8,263.1 277.9,159.5 278.9,202.7 280,284.5 281,194 282.1,241 283.1,198.6 284.2,218.8 285.2,271.8 286.3,203.8 287.3,248 288.4,181.1 289.4,187.8 290.5,289.4 291.5,277.2 292.6,152.9 293.6,166.2 294.7,251.1 295.7,125 296.8,203.1 297.8,227.3 298.9,218.4 299.9,232.2 301,125.8 302,215.3 303.1,280.8 304.1,137.6 305.2,180.3 306.2,279.3 307.3,233.6 308.3,260.2 309.4,217.8 310.4,196.3 311.5,203.6 312.5,252.6 313.6,244.9 314.6,194 315.7,203.7 316.7,153.5 317.8,230.3 318.8,186 319.9,210.5 320.9,240.7 322,164.4 323,198.9 324.1,282.8 325.1,219.6 326.2,174.6 327.2,248.2 328.3,171.3 329.3,177.4 330.4,230 331.4,167.6 332.5,154.7 333.5,182.3 334.6,206.5 335.6,114.4 336.7,164.9 337.7,243.4 338.8,237.2 339.8,216.1 340.8,244.3 341.9,260.2 342.9,190.5 344,208.4 345,207.3 346.1,169.6 347.1,240.1 348.2,222 349.2,201 350.3,234.9 351.3,214.7 352.4,128 353.4,205.1 354.5,179.8 355.5,229.8 356.6,223.7 357.6,259.1 358.7,232.9 359.7,242.5 360.8,175.6 361.8,186.6 362.9,198.8 363.9,141.6 365,160.3 366,184.2 367.1,241 368.1,267.7 369.2,218.2 370.2,242.8 371.3,243.5 372.3,239.8 373.4,262.3 374.4,175.6 375.5,256.7 376.5,244.4 377.6,199.3 378.6,282.6 379.7,190 380.7,156.5 381.8,235 382.8,137 383.9,263.4 384.9,278.6 386,146 387,205.7 388.1,269.6 389.1,247.5 390.2,181 391.2,164.2 392.3,248 393.3,251.8 394.4,266.1 395.4,207.6 396.5,192 397.5,152.7 398.6,195.5 399.6,246.5 400.7,230.1 401.7,188.4 402.8,297.6 403.8,201.9 404.9,185.4 405.9,242.5 407,252.7 408,179 409.1,151.9 410.1,234.3 411.2,179.4 412.2,156.7 413.3,241.4 414.3,238.8 415.3,251.6 416.4,233.7 417.4,216.5 418.5,230.9 419.5,248.5 420.6,310.8 421.6,267.3 422.7,246.6 423.7,197.3 424.8,231.5 425.8,249.2 426.9,188.5 427.9,193.5 429,242.3 430,240.4 431.1,188.7 432.1,199.6 433.2,239.6 434.2,216.5 435.3,205.5 436.3,173.9 437.4,242.2 438.4,165.8 439.5,90 440.5,255.1 441.6,171.4 442.6,178.6 443.7,250.5 444.7,118.1 445.8,244.6 446.8,293.6 447.9,221.7 448.9,177.9 450,195.8 451,215.4 452.1,163.4 453.1,198.3 454.2,169.2 455.2,114.4 456.3,213.4 457.3,303.3 458.4,239.8 459.4,247.3 460.5,217.2 461.5,210.6 462.6,257.9 463.6,261.6 464.7,217.7 465.7,245.6 466.8,334 467.8,173.4 468.9,207.1 469.9,219.7 471,199.2 472,261.7 473.1,220.4 474.1,173.8 475.2,151.3 476.2,185.2 477.3,242.6 478.3,241.3 479.4,176.9 480.4,183.4 481.5,242.1 482.5,281 483.6,260.9 484.6,272 485.7,183.9 486.7,198.7 487.8,262.1 488.8,221.6 489.9,125.6 490.9,145.5 491.9,285.4 493,232.1 494,256.7 495.1,306.1 496.1,205.9 497.2,114.4 498.2,116.5 499.3,214.2 500.3,239.3 501.4,201.7 502.4,167.8 503.5,276.9 504.5,283.1 505.6,161.8 506.6,178.4 507.7,167.8 508.7,187 509.8,161.7 510.8,227.4 511.9,206.4 512.9,152.9 514,185.4 515,231.9 516.1,188.4 517.1,238.8 518.2,281.7 519.2,200.1 520.3,116.1 521.3,174.7 522.4,254.7 523.4,190.2 524.5,162.6 525.5,271.3 526.6,319.9 527.6,188.6 528.7,174 529.7,201.2 530.8,293.6 531.8,287.3 532.9,181 533.9,159.7 535,200.9 536,219.1 537.1,208.1 538.1,228.8 539.2,241.4 540.2,241.2 541.3,210.2 542.3,228.7 543.4,178.4 544.4,188.1 545.5,233.6 546.5,115.8 547.6,244 548.6,216.6 549.7,159.3 550.7,186.7 551.8,278.8 552.8,184.5 553.9,147.5 554.9,113 556,296.9 557,273.1 558.1,222.7 559.1,226.9 560.2,176.3 561.2,232.1 562.3,175.7 563.3,190.7 564.4,290.2 565.4,272.7 566.4,245.9 567.5,208 568.5,185.9 569.6,215.5 570.6,176.7 571.7,297.9 572.7,334 573.8,231.1 574.8,197.1 575.9,230.8 576.9,255.7 578,196.8 579,130.6 580.1,210.5 581.1,262.4 582.2,247.4 583.2,144.3 584.3,198.8 585.3,196.4 586.4,88 587.4,177.3 588.5,245.3 589.5,184.3 590.6,170.2 591.6,191.3 592.7,182.9 593.7,231.9 594.8,230.5 595.8,224.3 596.9,193.2 597.9,229.3 599,210 600,268.5 601.1,227.5 602.1,225.9 603.2,115 604.2,215.2 605.3,213.3 606.3,242.6 607.4,328.5 608.4,191.1 609.5,224.1 610.5,246.3 611.6,236.4 612.6,172.5 613.7,238.6 614.7,206.9 615.8,138.1 616.8,162.2 617.9,156.1 618.9,189.7 620,363 621,162.9 622.1,166.6 623.1,162.3 624.2,181.4 625.2,213.9 626.3,235.8 627.3,172.4 628.4,176.1 629.4,249.2 630.5,191.8 631.5,195.7 632.6,179.6 633.6,197 634.7,181.1 635.7,144.1 636.8,178.9 637.8,272.7 638.9,186.3 639.9,214.4 640.9,253.4 642,190.5 643,278.7 644.1,178.3 645.1,114.4 646.2,228.1 647.2,177.5 648.3,164.5 649.3,204.4 650.4,252.1 651.4,194.5 652.5,198.8 653.5,196.5 654.6,206.1 655.6,159.3 656.7,202.5 657.7,186.4 658.8,164.6 659.8,202.1 660.9,183.8 661.9,187.5 663,202.6 664,230 665.1,182.4 666.1,163.3 667.2,216.9 668.2,185.5 669.3,200.1 670.3,255.2 671.4,198 672.4,158.6 673.5,240.2 674.5,295.6 675.6,221 676.6,223.6 677.7,157.6 678.7,193 679.8,225.7 680.8,236 681.9,122 682.9,243 684,243.2 685,228.4 686.1,242.5 687.1,179.1 688.2,275.6 689.2,219.8 690.3,246.2 691.3,267.2 692.4,171.4 693.4,266.7 694.5,173.3 695.5,257.5 696.6,215 697.6,114.4 698.7,334 699.7,274.5 700.8,138.9 701.8,205.3 702.9,234.5 703.9,216.5 705,250.8 706,207.3 707.1,165.5 708.1,222.1 709.2,330 710.2,130.6 711.3,120.5 712.3,226.4 713.4,211.6 714.4,229.1 715.4,242.3 716.5,227.4 717.5,245.3 718.6,326.1 719.6,284.6 720.7,245.4 721.7,200.5 722.8,171 723.8,230.2 724.9,227.3 725.9,190.1 727,120 728,223.7 729.1,204.1 730.1,123.6 731.2,212.6 732.2,253.8 733.3,269.2 734.3,215.6 735.4,297 736.4,149.8 737.5,210.1 738.5,197 739.6,155.6 740.6,118 741.7,262.1 742.7,172.1 743.8,199.5 744.8,224.7 745.9,229.4 746.9,229.4 748,240.7 749,313.8 750.1,203.1 751.1,204.9 752.2,273.9 753.2,213 754.3,117.4 755.3,202.9 756.4,225.2 757.4,108 758.5,237.9 759.5,228.6 760.6,229.8 761.6,230 762.7,183.2 763.7,188.4 764.8,239.2 765.8,220.7 766.9,211.8 767.9,233.5 769,216.5 770,252.5 771.1,246.8 772.1,218.7 773.2,252.8 774.2,199 775.3,219.7 776.3,249.5 777.4,236.8 778.4,232.4 779.5,224.8 780.5,360 781.6,236.1 782.6,250.4 783.7,167.3 784.7,166 785.8,209.6 786.8,183.7 787.9,192.9 788.9,236.3 789.9,199.9 791,128 792,169.7 793.1,184.8 794.1,225.6 795.2,191.9 796.2,134.2 797.3,196.2 798.3,154.8 799.4,171.6 800.4,186.2 801.5,167.3 802.5,192.9 803.6,209.6 804.6,223.5 805.7,132 806.7,197.3 807.8,211.7 808.8,122.5 809.9,228.9 810.9,228.3 812,247.9 813,332 814.1,224.1 815.1,199.3 816.2,216 817.2,249 818.3,223.6 819.3,224.7 820.4,228.4 821.4,164.1 822.5,173.7 823.5,220.1 824.6,259.3 825.6,201.6 826.7,250.6 827.7,215.6 828.8,204.4 829.8,240.2 830.9,273.3 831.9,232.5 833,114.4 834,218.9 835.1,228.5 836.1,156.2 837.2,195 838.2,175.2 839.3,268.4 840.3,244.7 841.4,114.4 842.4,191 843.5,355 844.5,197.3 845.6,186 846.6,247.1 847.7,213 848.7,208.9 849.8,194.5 850.8,208.1 851.9,238.9 852.9,272.2 854,334 855,192.4 856.1,260.6 857.1,237.3 858.2,155.2 859.2,221.7 860.3,201.7 861.3,215.6 862.4,185.7 863.4,213.4 864.4,234.9 865.5,158.7 866.5,220.5 867.6,308.2 868.6,220.3 869.7,204.5 870.7,268.2 871.8,190.3 872.8,159.2 873.9,127.1 874.9,221.6 876,207.4 877,268.8 878.1,240.4 879.1,204.4 880.2,205 881.2,212.3 882.3,220.6 883.3,235.5 884.4,231.5 885.4,199 886.5,177.7 887.5,195.5 888.6,137 889.6,175.7 890.7,290.7 891.7,243.8 892.8,220.2 893.8,247.7 894.9,155.6 895.9,181.8 897,222.7 898,199.3 899.1,158.8 900.1,226.4 901.2,225.1 902.2,185.3 903.3,190.4 904.3,147.2 905.4,189.7 906.4,187.8 907.5,250.7 908.5,246.8 909.6,231.1 910.6,297.5 911.7,211 912.7,144.5 913.8,220 914.8,217.2 915.9,181.4 916.9,213.7 918,179.6 919,114.4 920.1,186.1 921.1,184.2 922.2,185.5 923.2,204.2 924.3,210.3 925.3,200.7 926.4,164.9 927.4,306.4 928.5,227.4 929.5,192.4 930.6,245.7 931.6,225.1 932.7,240.5 933.7,204.2 934.8,340 935.8,164.2 936.9,199.7 937.9,243.8 938.9,215.6 940,174.6 941,181.6 942.1,286.3 943.1,228 944.2,263.4 945.2,204 946.3,189.6 947.3,196.5 948.4,179.9 949.4,197.2 950.5,238 951.5,197.1 952.6,97 953.6,210.4 954.7,224.7 955.7,253.1 956.8,171.1 957.8,228.3 958.9,248.2 959.9,228.2 961,264.6 962,222 963.1,169.5 964.1,172.2 965.2,114.4 966.2,149.3 967.3,239.1 968.3,198.4 969.4,153.3 970.4,142.4 971.5,275.7 972.5,309 973.6,191.6 974.6,235.6 975.7,258 976.7,120 977.8,251.5 978.8,324.6 979.9,220.8 980.9,203.7 982,192.6 983,181.2 984.1,204.3 985.1,223 986.2,239.3 987.2,273.7 988.3,228.9 989.3,182.1 990.4,187.3 991.4,146.6 992.5,219.2 993.5,277.5 994.6,184 995.6,177.9 996.7,256.2 997.7,273.7 998.8,200.7 999.8,140 1000.9,279.5 1001.9,242.1 1003,239 1004,266.1 1005.1,261.5 1006.1,221.3 1007.2,213.4 1008.2,257.7 1009.3,334 1010.3,141.3 1011.4,235.4 1012.4,246.3 1013.4,241.6 1014.5,337 1015.5,255.1 1016.6,231.8 1017.6,127 1018.7,196.5 1019.7,243.1 1020.8,268.1 1021.8,206.8 1022.9,129 1023.9,255.6 1025,220.8 1026,227 1027.1,211.8 1028.1,172.4 1029.2,210.8 1030.2,196.9 1031.3,210.7 1032.3,238.6 1033.4,231.4 1034.4,268.7 1035.5,240.7 1036.5,238.4 1037.6,228.6 1038.6,183.6 1039.7,201.9 1040.7,186.7 1041.8,190.2 1042.8,287.2 1043.9,215.7 1044.9,200.9 1046,242.6 1047,257.2 1048.1,197.7 1049.1,148.9 1050.2,182.2 1051.2,213.4 1052.3,196.2 1053.3,179.5 1054.4,154.3 1055.4,171.6 1056.5,210.4 1057.5,214.4 1058.6,206 1059.6,212.4 1060.7,239 1061.7,191.2 1062.8,238.8 1063.8,248.8 1064.9,207.4 1065.9,234 1067,236.9 1068,278.2 1069.1,191.8 1070.1,204.9 1071.2,230.3 1072.2,172.4 1073.3,218.6 1074.3,229.5 1075.4,325 1076.4,229.5 1077.5,184.4 1078.5,152.4 1079.6,235.9 1080.6,222.5 1081.7,239.2 1082.7,161.7 1083.8,225.2 1084.8,256.4 1085.9,167.2 1086.9,187.2 1087.9,238.3 1089,176.2 1090,198.5 1091.1,148 1092.1,122.6 1093.2,240.5 1094.2,236.7 1095.3,241.5 1096.3,216.3 1097.4,209 1098.4,189.3 1099.5,209.3 1100.5,272 1101.6,264.6 1102.6,165.9 1103.7,165 1104.7,220.1 1105.8,235 1106.8,213.5 1107.9,233.8 1108.9,269.9 1110,196.9 1111,222.9 1112.1,229.6 1113.1,297.1 1114.2,199.3 1115.2,169.3 1116.3,294.5 1117.3,177.1 1118.4,175.8 1119.4,254.5 1120.5,286.3 1121.5,171.2 1122.6,200.1 1123.6,188.3 1124.7,231.4 1125.7,236.3 1126.8,193.2 1127.8,238.9 1128.9,200.5 1129.9,269.6 1131,291.4 1132,274.1 1133.1,165.3 1134.1,268.2 1135.2,288 1136.2,173.2 1137.3,204.2 1138.3,114.4 1139.4,151.8 1140.4,189.6 1141.5,197.4 1142.5,272.3 1143.6,254.9 1144.6,221 1145.7,240.1 1146.7,263.7 1147.8,293 1148.8,242.4 1149.9,181.2 1150.9,196.1 1152,232.5 1153,222.9 1154.1,211.3 1155.1,235 1156.2,247.1 1157.2,282.4 1158.3,198.2 1159.3,155.3 1160.4,197 1161.4,203 1162.5,187 1163.5,146.5 1164.5,196.5 1165.6,294.2 1166.6,275.7 1167.7,192.8 1168.7,161.2 1169.8,190 1170.8,162.1 1171.9,215 1172.9,290.2 1174,282.3 1175,276.8 1176.1,242.7 1177.1,267.2 1178.2,214.1 1179.2,223.3 1180.3,322.5 1181.3,191.5 1182.4,187.1 1183.4,296.3 1184.5,211 1185.5,193.3 1186.6,222.9 1187.6,183.3 1188.7,202.7 1189.7,172.8 1190.8,205.6 1191.8,224.1 1192.9,196.9 1193.9,189.2 1195,205.6 1196,235.4 1197.1,243.5 1198.1,243.9 1199.2,235.1 1200.2,211 1201.3,203.6 1202.3,219.9 1203.4,217.9 1204.4,209.5 1205.5,147.2 1206.5,175.9 1207.6,245.1 1208.6,207.2 1209.7,348 1210.7,223.3 1211.8,227.9 1212.8,243.2 1213.9,290.7 1214.9,303.3 1216,199.5 1217,175.3 1218.1,240.4 1219.1,206 1220.2,221.1 1221.2,212.7 1222.3,251.7 1223.3,223.8 1224.4,382 1225.4,135 1226.5,208.4 1227.5,228.8 1228.6,334 1229.6,202.5 1230.7,209.8 1231.7,215.1 1232.8,189.9 1233.8,242.5 1234.9,254.6 1235.9,238.2 1237,231.1 1238,114.4 1239,149.3 1240.1,239.9 1241.1,240.1 1242.2,193 1243.2,195 1244.3,245.6 1245.3,249.2 1246.4,151 1247.4,161.3 1248.5,273.9 1249.5,328.8 1250.6,246.3 1251.6,207.7 1252.7,194.1 1253.7,239.4 1254.8,275.1 1255.8,213.4 1256.9,191.6 1257.9,150 1259,233.2 1260,182.5 1261.1,227.6 1262.1,267.3 1263.2,222.6 1264.2,280.5 1265.3,176.6 1266.3,181.8 1267.4,317 1268.4,204.2 1269.5,176.6 1270.5,295.3 1271.6,220.2 1272.6,166.3 1273.7,297 1274.7,240 1275.8,260.7 1276.8,233.3 1277.9,334 1278.9,310.1 1280,232.9 1281,213 1282.1,199.9 1283.1,199.2 1284.2,179.5 1285.2,188.4 1286.3,193 1287.3,268.6 1288.4,222.6 1289.4,114.4 1290.5,128.6 1291.5,181.2 1292.6,175 1293.6,190.5 1294.7,222.4 1295.7,131.9 1296.8,232.7 1297.8,212.1 1298.9,144.4 1299.9,274.1 1301,223.6 1302,265.4 1303.1,142 1304.1,219.2 1305.2,228.6 1306.2,217.2 1307.3,242.5 1308.3,234.2 1309.4,256.2 1310.4,255.3 1311.5,285.6 1312.5,206.1 1313.5,249.7 1314.6,203.8 1315.6,229.3 1316.7,241.7 1317.7,157.3 1318.8,225 1319.8,316.2 1320.9,217.6 1321.9,305.1 1323,220.4 1324,236.2 1325.1,281.4 1326.1,225.5 1327.2,214.2 1328.2,159.7 1329.3,218.4 1330.3,158.2 1331.4,157.5 1332.4,250.8 1333.5,240.9 1334.5,150 1335.6,330 1336.6,214.5 1337.7,225.7 1338.7,261.4 1339.8,232.8 1340.8,260.2 1341.9,277.4 1342.9,236.1 1344,149.3 1345,124.8 1346.1,216.5 1347.1,215.5 1348.2,193.8 1349.2,146.2 1350.3,203.4 1351.3,235.1 1352.4,232.7 1353.4,171.2 1354.5,114.4 1355.5,243.2 1356.6,332.2 1357.6,187 1358.7,216.3 1359.7,212.7 1360.8,173.7 1361.8,208.8 1362.9,273.3 1363.9,279.3 1365,231.1 1366,245.9 1367.1,221.8 1368.1,250.9 1369.2,243 1370.2,264 1371.3,256.9 1372.3,228.4 1373.4,198.6 1374.4,163.1 1375.5,230 1376.5,241.2 1377.6,119.8 1378.6,172.8 1379.7,95 1380.7,170.7 1381.8,166.9 1382.8,175.1 1383.9,176.2 1384.9,191.8 1386,273.9 1387,243.8 1388,219.1 1389.1,214.4 1390.1,212.1 1391.2,208.8 1392.2,211.1 1393.3,246.6 1394.3,277 1395.4,312 1396.4,195.5 1397.5,272.9 1398.5,201.6 1399.6,190.3 1400.6,224.5 1401.7,276.3 1402.7,276.9 1403.8,227.1 1404.8,145.8 1405.9,237.9 1406.9,238.5 1408,277.6 1409,238.6 1410.1,190.4 1411.1,303.1 1412.2,334 1413.2,188.7 1414.3,210.1 1415.3,266.3 1416.4,155.5 1417.4,165 1418.5,300.2 1419.5,226.3 1420.6,175 1421.6,241.6 1422.7,230.8 1423.7,150.5 1424.8,231.6 1425.8,258.1 1426.9,252.8 1427.9,252.2 1429,216.3 1430,262.1 1431.1,201.6 1432.1,289.6 1433.2,232.9 1434.2,289.5 1435.3,234.4 1436.3,176.7 1437.4,157.3 1438.4,169.3 1439.5,215.1 1440.5,219.1 1441.6,199 1442.6,190.1 1443.7,222.5 1444.7,186.5 1445.8,185.6 1446.8,177.1 1447.9,189 1448.9,200.2 1450,235.4 1451,249.2 1452.1,145 1453.1,241.5 1454.2,199.6 1455.2,206.1 1456.3,243.2 1457.3,118.2 1458.4,300 1459.4,165 1460.5,335 1461.5,505" fill="none" stroke="#ff7f0e" stroke-width="2.08" stroke-linejoin="round"/><rect x="140.3" y="587.3" width="569.5" height="467" fill="#e8e8e8" stroke="#dcdcdc" stroke-width="1"/><g clip-path="url(#c2)"><path d="M116.5 740.4V795.7M116.5 802.4V894.7M117.7 744.2V807.7M117.7 815.1V877M118.2 672.6V816.4M118.2 824V907.9M119.5 724.2V832.6M119.5 837V876.4M120.2 844.2V878.2M121.3 774.9V858.6M121.3 862.5V890.1M122 827.1V870M122 877.4V914.2M123.2 798.7V879.6M124.5 781V900.7M124.5 903.9V916.6M125.5 816.8V898.3M126.5 827.7V903.3M127.3 904.2V913.4M128.4 877.9V915.2M129.5 854.4V910.9M130.1 879.5V899.5M130.7 831.6V889M131.6 860.2V873.7M131.6 880.3V896.3M132.6 764.8V858.9M132.6 861.1V927.1M133.6 753.3V838.6M133.6 843.9V902.3M134.4 790.5V814.1M134.4 815.6V896.7M135.3 765.3V797.4M135.3 804V885.7M136.4 723V783.8M136.4 785.2V926.6M137.2 766.7V776M137.2 780.4V881.1M138.4 683.9V766.1M138.4 770.2V883.9M139 701.5V754.7M139 759.9V917.4M139.8 704.5V737M139.8 741.6V874M140.8 699.9V723.7M140.8 728.1V906M141.8 680.2V721.9M141.8 726.7V907.2M142.7 711.2V717.6M142.7 722.7V891.4M143.5 705.3V883.7M144.6 677V690M144.6 697.1V878.1M145.4 675.9V871.3M146.2 672.9V871.3M147.4 656.7V674.8M147.4 679.7V879.6M148.1 673.6V683.7M148.1 690.5V877.1M149.3 691.7V880.1M149.9 675.9V687.7M149.9 692.3V892.1M151.1 665.3V689.7M151.1 696.9V882.9M151.7 670.2V689M151.7 693.1V879.2M152.7 680V696.9M152.7 702.5V874.7M153.6 704V870.1M154.7 671.1V700.3M154.7 704V867.5M155.2 655.7V694.8M155.2 699.2V870.5M156.4 684.3V866.1M157.2 647.7V673.5M157.2 678.3V864.9M158.1 664.4V676.3M158.1 678.4V876.7M159.1 692.8V873.9M160 654.5V700.7M160 705.6V875.8M161 638.3V710.3M161 715.1V887.6M161.7 673.3V715.5M161.7 717.4V882M162.6 698.3V720.4M162.6 727.2V884.8M163.5 690.2V724.8M163.5 728.6V887M164.5 692.1V724.3M164.5 729.1V900.4M165.2 666.8V735.1M165.2 738.3V874.9M166.3 735.9V890.6M166.7 713.2V734.2M166.7 736.1V876.8M167.7 675.5V720.6M167.7 726.6V897.1M168.8 708.4V894.5M169.6 683.1V703.8M169.6 708.3V880.1M170.5 668V697.9M170.5 702.5V875.2M171.4 704.1V892.1M172.6 709.7V880.5M173.5 703.9V713.9M173.5 721.8V884.3M174 688.2V709M174 713.7V889.4M174.9 652.6V703.6M174.9 711.1V887M175.8 711.8V899.5M177.1 699.9V714.9M177.1 720.2V882.5M177.9 717.4V876.7M178.5 721.1V888M179.9 729V902.6M180.7 713.3V727.8M180.7 732.4V897.3M181.4 690.3V731M181.4 736.6V902.2M182.2 745.6V882.2M183.1 714.8V753.3M183.1 759.3V893.4M184.1 755.8V882.2M184.7 710.5V753M184.7 756.1V909.1M186.1 750.1V895.7M186.6 728.8V745.8M186.6 748.1V891M187.6 726.7V746.2M187.6 753.3V895.4M188.7 717V738.2M188.7 740.5V896.7M189.7 688.7V734.1M189.7 737.8V888.7M190.7 671.5V728.9M190.7 733.7V899.6M191.2 677.6V737.2M191.2 739V903.1M192 730.2V739.1M192 739.9V903.3M192.9 704.7V747.2M192.9 753.6V902.8M194 730.5V748M194 751.6V912.5M195.2 700.1V752.6M195.2 755V912.8M196 670.4V756.1M196 761.7V887.8M196.4 684.8V753.5M196.4 759.9V914M197.6 696.7V755.2M197.6 762V891.2M198.6 666V752.9M198.6 758.9V902.5M199.7 745.8V906.7M200.5 688.5V745.7M200.5 750.3V898M201.4 684.3V743.6M201.4 747.2V903.4M201.8 729.1V749.4M201.8 757.6V901.9M203.2 690.4V752.8M203.2 756.1V905.5M203.9 681.6V757.9M203.9 765.3V894.7M205 766.7V895.4M205.8 767.8V879.8M206.4 719.8V759.7M206.4 766V901.5M207.4 704.6V752.2M207.4 754.1V904M208.1 693.1V741.4M208.1 749.1V878.7M209.4 731.9V875.3M210.2 693.9V726.3M210.2 731.6V893.1M211 655.8V721.4M211 726.1V895.8M212.3 677.1V713.3M212.3 719.3V888.8M213.2 645.9V703.4M213.2 707.3V881.4M213.7 640.4V691.8M213.7 693.2V873.6M214.4 666.7V680.2M214.4 682.1V868.5M215.8 672.3V868.2M216.2 672.8V679.5M216.2 687.1V869.2M217.6 649.9V674.7M217.6 679.5V870.6M218 668.3V871.2M219 661.8V675.2M219 679.8V871.7M220.1 662.7V673.4M220.1 678V873.2M220.7 669.6V677.1M220.7 680.8V875.8M222.2 683.1V691.9M222.2 695V879.7M223 692.5V703.2M223 708.7V890.5M223.5 711.8V889.2M224.3 714.7V732.8M224.3 736.7V894.5M225.4 725.5V737.4M225.4 740.4V891.3M226.1 735.2V898.7M227.1 692.1V724.3M227.1 729.8V878.7M228.4 649.3V720.8M228.4 728.2V898.1M229 717.6V900.2M229.9 648.5V721.2M229.9 724.6V885M230.9 641V713.3M230.9 715.6V894.8M231.8 644.4V700.8M231.8 707.2V887.7M232.9 661.5V674.4M232.9 679.9V878.7M233.7 650.5V671.7M233.7 676.1V873.1M234.7 671V679.6M234.7 682.7V872.4M235.4 707.1V878.3M236 681.3V721.6M236 724.4V899.8M237.3 670.9V726.2M237.3 729.6V892.4M238.1 712.7V721M238.1 725.4V895.9M239.1 687.8V722.2M239.1 726.6V878.5M240.1 650.1V711.6M240.1 714.7V881.7M240.7 669.9V713.6M240.7 718.8V887.9M241.5 687.5V715.5M241.5 720.3V895.7M242.8 642.3V708.7M242.8 714.7V892.3M243.4 686.3V702.6M243.4 709.4V888.2M244.6 658.9V688.5M244.6 691.8V873.7M245 662.2V684.5M245 690.7V863.7M246.1 675.2V854M247 663.8V669.5M247 674.5V844.6M248 653.3V663.8M248 667.9V837.8M248.7 649.2V665.3M248.7 668.4V832M249.8 645.8V659.5M249.8 661.8V827.3M250.7 643.2V813.5M251.7 640.4V808.8M252.7 636.3V779.5M253.5 631.5V758.8M254.5 634.1V745.9M255 638.4V746.7M256.3 648.8V746.2M257.1 642.8V654.7M257.1 657.4V755.2M258 651.1V658.4M258 662V765.9M258.5 641.6V663M258.5 667.1V762.8M259.9 667.4V672.3M259.9 676.8V760M260.8 664.4V675.9M260.8 681.3V762.2M261.4 637.8V671.7M261.4 674V766M262.6 638.5V673.6M262.6 679.6V769.4M263.2 643.9V667.9M263.2 671.4V752.8M264.4 656.4V753.3M265.3 636V645M265.3 649.7V744.4M265.8 631V743.4M266.8 623.2V738.2M267.6 617V749.8M268.7 619.8V751M269.5 619.6V754.8M270.7 628.8V761.9M271.4 628.4V768.7M272 632.4V777.5M273.1 645.7V794.6M274.3 649.1V798.9M275.1 658.5V812.7M275.6 663V820.4M276.8 666.5V673.9M276.8 679V813.5M277.9 674.4V817.1M278.5 674.4V829.1M279.5 686.8V828.3M280.2 637.6V699.7M280.2 706.4V846.2M281.1 651.6V701.7M281.1 702.8V864.7M282.2 664.2V699.6M282.2 704.7V882.8M283 688.9V706.1M283 714V889.9M283.9 699V711.1M283.9 712.8V896.4M285.1 688.2V718.6M285.1 722.6V897M285.8 683.4V730.4M285.8 735.8V883.2M286.5 729.4V882.1M287.6 745.7V879.9M288.5 746.6V876.8M289.7 740.7V752.8M289.7 755.9V879.9M290.2 752V883.6M291.1 709.3V765M291.1 771.7V874.4M292.3 712.9V766.6M292.3 773V899.4M292.9 741.7V767.6M292.9 769.5V896.9M293.7 754.3V770.6M293.7 775.2V896.8M294.6 730.7V769.2M294.6 772.7V900.6M295.8 748.6V772.9M295.8 777.5V894.8M296.7 696.5V770.6M296.7 777.5V875.4M297.6 767.9V889.8M298.6 772.3V899.3M299.4 726.3V773.7M299.4 776.5V901.8M300.2 692.7V777.1M300.2 780.7V873.7M301 774.5V890.1M301.8 759.4V780.5M301.8 783.5V909.9M302.8 712.5V777.1M302.8 778.7V902M303.8 674.8V770.9M303.8 778.2V904.7M304.9 749.8V771.8M304.9 775.3V909.5M305.6 684.4V773.8M305.6 781.6V911.3M306.5 707V779.5M306.5 788.3V896.6M307.4 699.5V781.6M307.4 786.1V914.3M308.4 736.8V782.1M308.4 786.4V918.5M309.4 687.2V787.3M309.4 790.5V887.8M310.3 766V786.7M310.3 792.7V885.3M311.2 758.8V786.1M311.2 792.5V889.1M311.8 772.5V787.7M311.8 791.4V891M312.8 739.4V782.1M312.8 784.9V880.4M314 743.2V775.1M314 777.7V907.5M314.8 732.9V754M314.8 761.2V899.9M315.5 701.1V740M315.5 747V901.3M316.4 730.9V891.8M317.2 716.2V889M318.2 659.9V712.9M318.2 719V886.6M319.4 688.1V699M319.4 701.6V883.6M320 670.7V686.3M320 688.5V879.9M321.1 661.4V672.2M321.1 678.8V882.3M322.1 644.5V660.8M322.1 665.2V873.2M322.6 651.4V871.4M323.7 643.6V869.9M324.5 637.4V868.9M325.2 628.7V868.3M326.4 627.7V868M327.5 623.3V875.6M328.1 622.4V876.9M329.1 625.2V874.9M329.8 623.4V630.4M329.8 637.2V864M330.8 622.1V632.8M330.8 637.6V861.2M331.5 625.2V857.6M332.8 621.8V853.2M333.6 625.3V848.8M334.3 628.5V850.8M335.4 626.1V844.6M336.2 628.6V851.7M337.4 626.5V857.5M337.8 627.4V865.9M339.1 628.7V874.9M339.7 628.7V880.8M340.9 628.9V883M341.6 642.6V873.9M342.3 627.3V638M342.3 644.4V862.8M343.4 627.8V857.5M344.3 623.1V839.4M345.3 614.7V831.8M346.1 613.1V819.4M347 614V799M348.1 613.4V783.2M349 614.1V777.9M349.7 610.6V765M350.9 611.6V761.5M351.5 612.7V759.7M352.4 615.7V769.9M353.4 613.2V783M354.5 615.3V796.3M355.2 617.1V809.6M356.1 618.1V824.4M356.7 627.5V847.3M358.1 636.2V884.6M358.7 637.5V887.5M359.8 651.5V676.3M359.8 677.5V904.8M360.6 659.7V712.1M360.6 718.3V892.3M361.4 658.7V751.8M361.4 756.2V884.6M362.5 663.1V796.5M362.5 803.8V929M363 718.6V834.8M363 843.6V911.3M364.3 831.3V885.3M364.3 888.7V907.6M365.2 895.2V922.7M366.1 933.7V943.4M368 950.1V959.4M368.4 937.7V962.6M369.8 934.5V967.5M370.4 930.9V964.1M371.6 937.2V965.2M372.1 931.7V970.1M374.6 949.1V968M377.6 945.3V964.9M378.5 942V971M379.3 955.1V971.6M381.8 952.5V974.4M383.2 952.2V977.2M385.1 945.4V975.7M385.9 953.9V976.1M389.5 971.5V984.7M391.2 970.9V987.9M392.1 976V988.6M394.8 967.4V987.4M396.7 964.1V992.9M397.4 962.6V989.9M399.5 976.2V989.8M400.2 975.2V993M401.2 969.8V993.6M402 970.7V994.4M403.1 988.6V996.1M409.3 980.7V1000.1M409.8 994.9V1002.5M410.8 998.2V1002.5M412 991.4V1007.1M412.6 994.2V1004.9M416.5 990.4V1007.7M418.1 994.6V1007.1M419.7 995.1V1008.2" stroke="#1f77b4" stroke-width="4.9" stroke-linecap="round" stroke-dasharray="0 5.7" fill="none"/><path d="M794.5 849.6V865.2M796.3 769.9V860M796.9 723.7V834.8M797.6 691.9V825.5M798.7 662.6V813.6M799.4 633.9V813.1M803.4 612.4V816.1M804 617.6V870.5M805.1 616.6V838.1M805.8 613.7V830.5M807 615.2V838.1M808 616.4V860.1M808.9 609.7V847.5M809.4 611.1V817.6M810.3 613.6V845.6M811.5 614.4V853.9M812.2 613.6V870.2M813.4 611.9V867.2M814.1 620V855.5M815.1 630.4V834.9M815.6 630.8V850.1M817 624.9V853.7M817.9 617.8V843.9M818.7 618.7V868.7M820.6 619.4V841.4M821.2 617.5V835.2M822.2 619V822.7M824.1 618.5V866.6M824.7 622.2V854.4M827 639.4V837.4M828.6 741.9V823.6M829.4 765.6V833.8M830.5 790V814M831 822.6V850M832.1 834.4V868.7M833 837.3V841.6M834 857V860.4M835.4 824.7V829.8M838.3 793.5V820.6M840.3 746.8V845M841.1 727.5V820.5M842 708.2V862.2M843.2 696.7V835.3M845.5 685.8V830.3M846.8 678.3V816.8M848.1 668.9V849.3M849.3 673.8V822.3M851.2 678.7V813.4M852.8 703.6V826.1M853.9 706.2V846.1M854.3 717V814.1M855.5 737.3V827.8M856.6 762.4V833.1M857.4 790.3V857.2M858.4 806.9V861M859 820.3V832M860.1 818.1V838.1M863.6 772.1V819.6M864.5 758.1V848M865.6 749.1V833.4M867.2 716.3V868.8M869.1 636.7V868M870.8 621V836M871.5 620.2V817.1M872.7 616.9V861.2M874.1 618.5V845.2M875.2 623.7V857.5M876.3 620.5V859.7M877.1 624.4V818.3M878.1 624.6V846.3M880 626.2V868M880.6 624.4V830.4M881.3 621.6V823M883.2 621.8V834.1M884.4 623.2V849.4M885.1 618.2V843.7M886 617.2V852.6M887.1 615.8V837.8M887.8 613.9V863.6M889 616.6V827.3M889.6 619.7V848.5M890.8 620.1V825.9M891.4 621.2V846.2M892.3 638.5V860.6M893 647.9V838.6M894.1 649.2V841.9M895.1 640.8V836.7M896.3 643.6V820.6M897.8 649.8V870.5M898.5 645.9V838.9M899.7 640.4V872.8M901.3 682.8V867.1M902.4 721.3V845.9M903.4 743.9V872.6M904.4 761.8V818.3M905.3 761.6V817.5M905.7 771.1V840.1M906.6 768.6V867.9M907.5 785.5V868.4M909.2 795.1V851.5M911.1 786V863.1M912.3 795V828.9M912.8 788.1V854.9M915.9 800.8V833.1M916.5 794.1V832.9M917.8 800.9V867M918.4 810.2V865.2M919.4 828V850.1M920.5 835.1V855.5M921.2 844V860.6M922 847V863.6M923.7 840.6V865.4M924.5 821.7V824.8M925.6 800V818.1M926.9 773.1V872.7M927.4 752.4V838.7M929.5 748.7V839.5M930.5 756V844.3M933.2 826.1V849.1M942.8 833.7V844.5M944.7 791.4V839.1M945.3 785.1V816M946.4 775.9V845.7M947.3 765.3V821.1M949.1 764.2V870.6M949.8 757.2V834.9M950.8 762.6V847.2M951.8 770.5V863.7M952.9 772.1V854.7M953.7 778.1V859.3M954.4 770.6V816M955.7 774.1V858.8M956.1 774V871.6M958 804.5V829.7M958.9 816.8V864.4M959.8 828.2V860.3M975.2 867.5V869.4M978.2 863.4V870M996 857.3V866.9M997.5 822.8V859M998.5 801.7V826.8M1000.3 770.4V848.5M1001 761.8V837.6M1002.2 750.9V865.3M1003.1 748.4V813.7M1004.8 769.7V866.1M1006 774.4V817.6M1006.9 780.1V842.8M1007.3 804.5V840.5M1011.4 849V853.4M1012.4 838V845.8M1012.8 812.5V862.4M1014.2 794.2V824M1015.4 765.7V865M1016.6 753.3V831.9M1017.3 737.5V867.2M1018.1 733.4V851.7M1019.6 744V822.7M1020 753.9V841M1021.3 775.4V836.2M1022.1 801.5V831.2M1027.4 827.7V843.8M1028.1 826.8V839.7M1029.3 808.4V838.6M1030.4 781.7V851.7M1031.3 756.8V872.5M1031.6 743.4V824.7M1034 723V857.3M1034.4 718.1V850M1035.3 716.8V824.1M1036.7 725.6V827.9M1038.1 730.9V867.6M1039.2 739.3V817.2M1039.8 737.3V866.1M1042 731.6V829.3M1042.5 720.2V848.7M1043.6 715.2V851.1M1044.5 712.2V814.2M1045.2 740.8V819.3M1046.3 759.7V840.1M1047.4 783.8V830.5M1048.1 801.6V850.4M1050.2 840.2V845.2M1050.7 845.2V866.4M1052.4 831.4V834.4M1054.2 830.1V849.4M1055.6 817.8V859.4M1055.9 818.4V853.5M1057.2 807.6V821.1M1057.7 805.6V835.7M1059 819.6V856.7M1060.5 825.9V845.9M1061.4 818.6V869.6M1063.4 819.3V872.7M1064.2 832.4V859.2M1066.8 854.3V856.5M1075.9 812.7V846.8M1076.7 802.1V871.2M1077.7 792.6V843M1078.8 800.6V838.5M1079.7 799.9V815.2M1080.3 794.3V846.9M1082.1 817.7V830.3M1113 826.6V845.6M1113.6 809V814.7M1114.8 793.3V863.2M1115.7 786.5V870.9M1116.5 776.2V826.1M1118.6 778.7V817M1118.9 790.3V846.8M1187.4 824.6V827.3M1188.6 772.5V846.8M1190.6 701.6V831.9M1191.4 656.4V825.2M1192.1 643.1V821.4M1193 635.9V829.3M1193.7 644.9V844.2M1194.5 674.3V835M1195.9 710.7V825.1M1196.9 742.8V867.2M1197.2 779.2V845.5M1198.4 803.3V823M1199.2 831.9V857.9M1200.3 857V864.1M1221.5 814.9V864.4M1222.5 775.9V870.2M1225.7 657V866.1M1226.4 621.2V868.5M1226.9 622.2V866.7M1228.1 641.9V818.2M1228.9 655.9V814.2M1230.9 675.6V871M1231.5 685.4V821.3M1233.6 738.3V825.8M1235.4 777V820.9M1236.3 766.8V865.7M1237.3 756.8V868.2M1237.9 783.3V872M1238.8 790.7V828.8M1239.7 797.1V863.9M1240.6 792.1V872M1241.8 777.4V849.9M1242.7 764.7V838.3M1243.3 751.5V825.4M1244.4 752.5V825.6M1245.4 764.6V824.9M1246.2 765.3V871.3M1246.9 770.8V832.7M1248.5 812.2V862.3M1249.6 816.1V850.1M1250.6 836V860M1252.3 835V848.4M1292.9 819.2V826.2M1293.6 837.9V857.7M1294.6 840.4V855.6M1298 855.1V861.2M1333.5 783V850.5M1334.3 742.3V859.5M1335.2 685.1V841M1336 633.3V823.5M1336.8 629.8V850.9M1337.9 630.6V872.1M1338.9 629.9V819.6M1340 626.1V824.9M1340.5 625.1V833.2M1341.5 626V849.5M1342.2 623.2V844.8M1343.4 622.6V861.2M1343.9 622.7V863.2M1344.9 625.5V866.3M1345.9 664.8V867.5M1346.8 690V839.7M1347.8 737V832M1348.6 774.4V854.7M1349.3 777.8V832.8M1350.7 762V837.8M1352.3 701.2V849.9M1353.2 688.2V871M1354.4 694.9V860.2M1355 701.1V824.2M1356.1 708.4V865.2M1357 717.1V871.7M1357.5 725.5V843.2M1358.7 731.4V824.8M1359.5 743.3V859.6M1360.2 768.7V819.7M1361.4 794V817M1362.3 804.5V850.9M1363.3 798.8V846.1M1364.2 788.9V847.1M1366 789.7V823.4M1367 793.8V834.2M1367.4 817V848.3M1368.5 816.1V829.8M1369.7 810.3V813.5M1370.2 794V827.9M1372.8 792.9V863.5M1374.2 779.2V825.6M1375 790.7V850M1375.7 783.4V858M1376.5 777V836.8M1377.3 782.2V852.8M1379 783.2V872.1M1380.9 817.8V871M1384.8 860.6V868.7M1386.2 824.7V840.5M1387.6 820V859.6M1388.6 803.9V865.5M1389 807.4V829.1M1390.2 807.8V818.8M1392 841.7V856.5M1392.8 859.3V868.1M1403.9 849V868M1409.6 828.7V871.9M1410.7 804.6V830.4M1411.7 788.8V867.6M1412.6 771.2V848.4M1413.5 757.8V833M1414.4 749.5V860.9M1415.4 725.1V858.4M1416.1 716.3V819.8M1417.2 707V867M1417.8 716.9V866.7M1419.1 734.6V863M1419.7 745.4V850.2M1420.7 746.6V813M1421.8 717.3V865.9M1422.5 696.1V836M1423.3 676.3V854.9M1425.4 693.6V842M1426.3 695.4V854.2M1427.6 637.3V818.9M1429 622.6V847.4M1429.9 625.6V868.1M1430.8 627.2V850.4M1431.5 639.3V850.4M1434 634.7V839.5M1435.3 627.9V842.3M1435.8 627.7V828.9M1437.1 625.3V821.9M1437.8 622.1V861.6M1438.9 621.4V853.3M1439.5 619.1V869M1440.6 621.4V830.1M1441.6 616.1V868.6M1442.3 621.7V831M1443 619.3V861.8M1443.9 620.5V827M1446 621.5V845.3M1446.8 624.2V842.5M1447.4 636.3V822.2M1449.4 646.9V864.8M1451.3 671.3V819.7M1452 667.7V826.9M1453.3 655.2V851.5M1453.8 648.2V858.1M1455.2 663.1V853.2M1455.9 670.3V834.1M1456.5 671.3V847.8M1457.6 679.1V824.3M1458.4 693V836.5M1460.1 693.8V836.9M1461.3 713.1V842.8M1461.9 715.1V869.9" stroke="#1f77b4" stroke-width="4.9" stroke-linecap="round" stroke-dasharray="0 7.3" fill="none"/><path d="M139.8 919.3V973.6M140.8 914.3V964.5M142.7 895V916M143.5 888.7V926M145.4 875V929.7M146.2 872.4V935.5M148.1 879.9V900M149.3 880.5V900.9M151.1 886.4V920.7M151.7 885.1V917.2M152.7 876.8V923.4M153.6 873.2V905.9M154.7 868.3V902.6M156.4 868.5V911M157.2 869.1V929.9M160 881.2V927M161.7 882.8V899.2M162.6 887.5V918.6M163.5 887.5V907.6M165.2 898.8V922.9M166.3 899.3V922M166.7 899.3V914.3M167.7 901.9V921.9M168.8 899V914.7M169.6 901V937.4M170.5 894.6V935.4M171.4 893.8V940.2M172.6 893.1V910.9M173.5 896.8V947.3M174 894.4V947.3M174.9 888V919.3M177.1 892.9V935.5M180.7 902.3V934.7M186.1 899.8V939.1M186.6 896.4V923.8M187.6 896V913.3M188.7 900.1V944M189.7 903.4V913.5M190.7 905.6V922.8M191.2 907.9V923.3M192 910.2V959.3M195.2 917.7V948.8M196 913.8V925.9M198.6 907.4V942.1M203.9 894.7V925.8M205 895.9V917.7M205.8 902.5V918.8M206.4 905.1V949.2M207.4 907.9V921.7M208.1 911.3V951.3M210.2 906.9V932.7M211 897V922.2M212.3 893.9V923.1M213.2 883.5V912.7M213.7 875.8V909.7M214.4 873.7V901.5M215.8 870.5V912.4M216.2 872.4V886.2M217.6 870.6V922.3M218 875.5V892.6M219 875.9V901.7M220.1 875V920M220.7 879.1V922.1M222.2 880.6V924.2M223.5 894.4V903.4M224.3 894.7V914.9M226.1 903.5V956.9M227.1 902.6V910.5M228.4 898.4V913.2M229 905.9V945.1M229.9 900.9V913.5M230.9 898.1V912M231.8 889.4V926.6M232.9 879.2V898.2M233.7 878.1V895.2M234.7 876.5V891.8M235.4 882.5V939.4M237.3 895.8V928.3M238.1 895.9V954.8M240.1 905.6V939.8M240.7 902.4V955.2M244.6 878.7V916.9M245 867.9V895.7M246.1 859.1V904.7M247 848.1V856.9M248 842.5V859.7M248.7 833.9V848.8M250.7 814.2V833.3M252.7 782V824.2M253.5 763.2V794.5M256.3 748V762.9M259.9 762.4V793.1M260.8 764.1V790.4M263.2 757.5V767.2M266.8 739.2V756.9M269.5 759.2V794.5M270.7 766.9V778.6M271.4 771.4V786.6M272 782.2V794.1M274.3 800.1V817.4M276.8 813.6V858.9M277.9 821.6V830.3M279.5 831.4V877.5M281.1 867.5V884.8M282.2 883.1V922.6M283 894.3V944.9M283.9 898.5V923.5M285.1 898.5V912.2M285.8 892.9V930.6M286.5 890.8V931.3M287.6 882.8V905M288.5 881.9V894M289.7 880.1V894.9M290.2 884.5V897.3M291.1 890.7V901M293.7 901.9V930.1M295.8 900.3V925.4M296.7 904.2V940.3M297.6 902.5V922.7M298.6 904.9V932M302.8 902.4V932.5M303.8 910.2V944.7M305.6 915.8V927.5M307.4 921V960.4M308.4 926.7V946.4M311.2 926.5V937.4M311.8 925.5V950.3M312.8 919.2V949M314 909.1V929.8M314.8 903.5V949.4M316.4 896.6V913M317.2 891.7V942.3M318.2 889.7V945.2M319.4 887V926.5M320 883.8V946.7M322.1 876.1V937.6M322.6 876.7V916.5M323.7 872V895.4M324.5 871.4V893.3M325.2 872.9V915.6M326.4 869.7V953.8M329.8 868.8V900.2M330.8 862.8V931.5M331.5 861V934.7M332.8 857V875.5M333.6 854.3V909.4M335.4 850.5V889.9M336.2 852V885.4M337.4 861.1V885.4M339.7 882.4V908.8M340.9 883.8V911.7M341.6 877.7V910.4M342.3 867.3V921.1M344.3 840.2V852.9M347 802.5V830M348.1 788.5V859M349.7 769.8V808.5M350.9 763.4V830.8M351.5 762.2V802.9M352.4 772.9V796.1M353.4 788.9V805.6M354.5 796.7V830.8M355.2 815.3V823.1M356.1 829.1V900.9M356.7 848.1V905.1M358.7 888.2V923.6M360.6 917.8V980.8M362.5 946.8V995.1M364.3 972.9V1002.1M371.6 1005.7V1014.2M613.3 1008.2V1014.4M633.1 990.9V1001M634 991V1000.2M634.8 984.6V1006M635.7 988.5V1005.9M649.6 1006.6V1013.3M673.4 1003V1012.6M704.4 983.7V991.3M705.2 957.2V988.5M707.9 966.1V973.8M708.6 959.6V975M711.6 958.4V972.9M712.2 956.7V972M717.9 959.5V978.3M719.8 959.6V976.7M722.2 965.1V979M723.2 968.7V979.8M724.9 956.8V980.3M727.1 960.2V986.3M727.8 980.7V991M730.3 991.2V1000.1M779.1 943V950.6M780.8 913.5V941M782.7 922.5V938.7M784.3 917.1V945M795.3 784.2V803.2M796.3 730.1V762.8M797.6 646.5V687.6M827 628.5V638.7M828.6 646.9V738M830.5 671.3V780.9M831 706.6V813.8M834 841.7V848.3M834.9 710.8V838M835.4 708.1V820.4M836.6 672.4V804.7M837.5 675.1V790.9M838.3 739.4V784.6M839.4 757.6V764.9M840.3 718.4V741M841.1 707.3V722.6M842 629.9V701.9M843.2 682.2V691.9M844 638.3V689.6M844.5 620V695.2M845.5 634.5V682.3M846.8 662.7V674.1M849.3 654.1V665.6M849.9 657.6V667M851.2 654.8V668.8M852.8 672.8V694M853.9 698V703.5M854.3 702.9V711.4M855.5 699.2V730.6M856.6 715.9V758.8M857.4 743.8V786.9M858.4 719.9V798.4M859 801.2V814.5M861 814.3V822M862.1 750.2V806.7M862.8 743.9V788.3M863.6 729.8V770M866.3 629.5V737.7M867.2 657.2V709.2M897.8 629.6V647.1M898.5 628.3V642.8M902.4 694.7V720.9M903.4 703V743.5M904.4 746.8V758.8M907.5 746V778.5M908.5 705.5V791.4M910.3 749.7V789.7M912.3 718.3V785.1M912.8 749V784.1M913.8 715.3V788.8M915 765.2V793.7M915.9 773.3V794.2M916.5 780.8V789.1M917.8 775.7V792.8M918.4 762.5V803.6M919.4 745.9V821.7M920.5 753.4V827.3M921.2 773V839.6M922.8 760.9V844.5M923.7 781.7V839.3M924.5 723V817.2M925.6 785V792.3M926.9 689V769.7M927.4 724.3V748M928.4 671.8V738.8M929.5 698.3V741.5M930.5 720.9V748.4M932.1 722.7V784.2M933.2 766.6V819.3M934 847V859.8M934.5 881.3V891.2M935.8 778.2V909M936.7 865.9V919.2M937.6 880.2V915M938.5 761.1V897.8M939.3 872.8V887.3M940.2 820.3V865.2M940.9 841.6V850.3M941.6 826V840.8M942.8 798.9V826M943.7 786.2V811.8M944.7 769.6V785.7M945.3 711.9V779.5M946.4 732.3V771.1M949.1 677.6V760.2M949.8 733.9V753.7M950.8 713.7V753.8M951.8 728.3V763.5M955.7 726.2V766.8M956.1 742.7V771.1M957.4 738.5V784.9M958 704.4V800.4M958.9 740.4V811.4M959.8 750.1V826.5M960.7 747.2V840.8M961.4 767.6V865.5M962.9 777.9V883.5M963.2 868V903.4M964.6 875.1V909.7M965.3 875.8V912M966.3 897.7V917.2M966.9 869.3V914.2M968.9 890V904.8M969.6 885.7V894.2M971 832.8V880.8M971.7 772.5V871.5M972.7 864V871M975.2 834.9V859.3M975.9 702V863.1M978.2 732.4V859.5M978.8 818.2V867.7M979.8 804.1V873.2M980.6 822V883.2M982.5 864.8V875.6M985.3 880.4V888.8M987.1 882V906.3M987.7 797.6V907.2M988.4 905.2V911.5M989.5 810.3V911.5M990.6 903.7V913.9M991.6 813.1V909.9M992.2 808.4V896.7M993.2 846.7V884.9M994.1 828.2V880.9M994.8 842.5V869.6M996.8 826.1V836.7M997.5 773.6V816.6M998.5 757.8V797.6M999.2 766.9V784.6M1000.3 717.1V770.1M1001 735V753.9M1002.2 741.4V746.3M1003.1 718.9V747.4M1003.7 732.4V755.5M1004.8 722.6V763.5M1006 746.1V772.6M1007.3 697.6V803.8M1009.3 764.4V848.8M1010.1 743.4V855.7M1011.4 761.1V847M1012.4 753.2V830.6M1012.8 775.8V809M1016.6 726.6V747.5M1017.3 702.8V735.1M1019.6 703.8V737.7M1021.3 702.2V773.9M1022.1 787.6V796.7M1022.8 734.3V814.1M1023.8 804.3V825.9M1024.8 803.1V835.2M1025.5 776V843.8M1026.8 832V841.3M1028.1 759.2V820.8M1029.3 762.6V802.6M1030.4 728.8V776.5M1031.3 740.9V755.1M1031.6 714.2V739.4M1032.6 698.4V724.5M1034 683.3V718.3M1034.4 690.1V716.8M1037.2 695V726.6M1038.1 701.8V725M1039.2 680.2V732.4M1039.8 670.5V729.1M1041 679V728M1042 625.2V722.1M1042.5 707.8V713.5M1045.2 660.4V731M1046.3 722.2V752.9M1047.4 755.2V774.5M1048.1 747.4V795.9M1050.2 808.3V833.2M1051.8 828.9V841.7M1053.3 812.8V829.9M1054.2 784.9V826M1055.9 706.6V813.6M1057.2 749.3V805M1059 687V817.2M1059.8 802V827.9M1061.4 799.8V814.8M1063.4 695.2V811.7M1064.2 741.2V823.2M1065.2 767.9V834.8M1066.8 792.5V848.9M1068.1 853.7V860.1M1069.6 825.7V896.6M1070.4 847.9V901M1071.5 833.8V903.4M1072.5 774.3V902.8M1073.3 814.6V894.2M1074.4 800.9V869M1075.3 828.2V835.5M1075.9 758.4V805.1M1076.7 717.5V792.1M1078.8 766.6V794.8M1079.7 697.7V795.3M1080.3 646.1V786.3M1081.6 692V792.8M1082.1 802.9V811.7M1083.4 822.5V845.5M1084 825.5V884.3M1086.1 881.4V905.3M1086.5 859.7V912.5M1087.6 902.3V911.2M1088.9 899.2V914.9M1089.6 895.7V915.8M1090.3 902.1V918.6M1091.2 846.7V913.2M1092.2 814.9V892.5M1093.2 748.4V854.1M1095.1 644.6V831.9M1095.6 813V835.9M1096.8 738.7V841.8M1097.7 803.3V843M1098.6 746.4V842.9M1099.7 637.5V843.3M1101.4 867.6V896.1M1102.3 879.9V917.5M1103.2 908.2V924.1M1104.1 813.8V918M1105 812.5V913.6M1105.6 823.4V907.4M1106.9 876.9V900.7M1107.5 845.7V893.4M1108.6 807.2V887.9M1110 839.5V872.5M1111.1 791V867.6M1112.1 823.1V849.3M1113 723.5V821.8M1113.6 760.9V802.7M1114.8 768.9V789.4M1115.7 767.4V780.7M1116.5 680.8V771.2M1118.6 662.5V772.7M1118.9 657.6V787.9M1119.9 728.7V804.1M1121 788V825.5M1122.6 791.4V870.3M1123.8 769.8V886.8M1125.4 801V916.6M1126.1 889V914.4M1127.4 859.5V914.3M1128.1 799.7V926.1M1129 837.7V931.7M1129.8 879.1V935.5M1130.9 889.2V936M1131.6 904.6V934.4M1132.4 839.2V934.1M1135.5 873.1V928.7M1136.2 865.8V925.4M1137.4 881.2V926.7M1137.9 878.5V934.8M1139.2 921.4V938.9M1140.1 892.7V942M1142 932.7V954.1M1142.7 927.1V959M1143.5 927.5V966M1144.7 929.4V968.3M1145.2 937.8V967.9M1147.1 951.4V966.1M1148.2 942.4V961.9M1149.7 919.4V959.1M1151.8 916.1V952.7M1152.5 894.4V948.6M1153.3 927.5V943.8M1155.4 897.6V940.4M1155.9 893.7V947.1M1157.8 912.2V944.5M1159.8 934.2V946.4M1161.5 922.1V951.8M1162.1 946.9V953.4M1164.2 947.8V954.2M1165.3 932.7V951.7M1166 945.2V953.8M1167.9 928.1V953.4M1168.5 892.8V955.8M1171.1 924.5V945.7M1174.3 916.6V938.6M1175.7 905.6V934.7M1178.5 915.8V935.5M1179.3 921.6V947.6M1181.4 934.2V957.4M1183.2 946.1V966.1M1184.1 937.4V956.3M1186.6 823.9V864M1187.4 760.4V815.7M1188.6 746.3V766.3M1189.6 638.3V724.1M1190.6 685.7V694.8M1195.9 676.2V705.2M1196.9 724.9V741.1M1197.2 760.6V773.9M1198.4 785.8V799.3M1199.2 803.7V829.2M1200.3 845.5V852.4M1201 833.6V865.8M1202.8 878.8V894.5M1203.5 893.7V904.4M1205.4 878.4V919.4M1206.8 910.5V916.4M1207.1 856.2V920.2M1208.3 909V920.1M1209.4 906V924.6M1210.4 862.6V932M1210.8 916.2V933.5M1212.8 930.9V948.7M1214.6 909.9V952.5M1215.7 937.8V956.5M1216.3 949.6V957.1M1218 931.5V943.3M1223.5 698.1V728.6M1225.7 625.9V649.9M1228.1 630.7V636.8M1232.7 683.8V707.9M1234.2 706.7V760.8M1235.4 749.5V774.4M1236.3 735V761.5M1237.9 761.3V776M1239.7 765.6V794.2M1240.6 707.7V784.5M1241.8 690.9V771.9M1242.7 744.8V755.6M1243.3 739.5V747.9M1245.4 722.7V758.8M1246.2 732.3V761.7M1246.9 725.9V767.9M1248.5 707.1V803.8M1250.6 740.8V831.9M1251.6 734.7V839.7M1253.4 728.5V850.2M1254 849.3V856.6M1255.1 831.2V875.1M1256.1 776V882.3M1256.7 822.2V892.6M1257.7 886.2V896M1259 884.5V906M1260.8 880.1V912.3M1261.2 886.1V914.8M1264.3 901.4V909.6M1265.3 864.4V916.1M1265.9 885.4V920.4M1267.1 899.6V927.2M1267.7 901V927M1268.7 889.7V924M1269.5 922.9V932.8M1270.2 904.4V938M1271.1 920.2V943.3M1275.1 882V939.2M1276.9 914.7V943.5M1279.5 918.1V924.2M1281.4 917.4V924.4M1282.2 891.1V919.9M1283.1 902.4V916.2M1283.6 906V916M1285.9 908.6V916.7M1287.7 874.7V898M1288.3 815.3V879.4M1290.1 830V858.6M1293.6 821.9V830.7M1294.6 780V837.3M1295.4 781.5V845.9M1296.3 842.9V854M1297.6 800.4V850.5M1298 802.9V847.5M1299.4 845V849.9M1300.2 806.8V856.2M1301.3 774.9V861.6M1302.1 771.6V859.7M1302.9 814.3V859M1305.5 864.2V883.3M1307.3 886.1V901.2M1308.3 897.3V909.6M1309.3 902.9V915.4M1310.2 803.3V915.1M1312.1 820.9V915.8M1312.4 880.3V914.5M1313.6 890.1V916.9M1314.3 892V916.8M1315.4 893.6V914M1316.4 815.5V912.1M1317.2 837.8V911.3M1318 895.1V908.3M1318.8 899.8V913.2M1320.1 860.6V905.3M1320.8 771.2V898M1321.7 866.1V892.7M1322.6 887.1V901.3M1323.4 886.8V902.2M1325.1 720.7V901.5M1326.4 780.8V903.1M1327.1 869.3V901.9M1328.2 837.7V906.4M1329.2 869.4V915M1329.6 800.7V909.2M1331 884V890.6M1332.7 730.2V830.8M1334.3 697V736.4M1335.2 659.2V679.5M1345.9 625.4V655.9M1346.8 663.8V686.1M1347.8 727V731.9M1348.6 709.2V766.4M1349.3 694V773.1M1350.7 717.4V757.5M1351.3 712.6V724M1352.3 646.6V695.4M1353.2 634.4V684M1354.4 631.3V688.6M1356.1 656.8V702.8M1357 661.2V712.6M1357.5 703.8V718.7M1358.7 709.4V725M1359.5 659.5V738.6M1360.2 734.3V764.7M1361.4 769.1V787.5M1362.3 788.5V801.8M1363.3 758.3V793.2M1364.2 746.6V787.3M1365.1 691.5V779.5M1366 656.9V779.1M1370.9 697.5V805.3M1375 714.8V780.2M1375.7 662.8V773.9M1376.5 705.2V774.1M1377.3 731.5V777.2M1378.6 692.9V790.2M1380.3 654.1V792.6M1380.9 723.5V815.7M1382.1 705V849.7M1384 841.8V864.4M1384.8 690.4V854.9M1385.7 817.1V840.1M1387.6 769.6V813.1M1388.6 746.2V800.6M1389 781.5V799.7M1390.2 741.7V800.7M1392 759.7V837.5M1392.8 785.6V854.9M1394.4 779.5V887.8M1395.8 850.1V899.2M1396.7 763.7V904.6M1397.5 767.6V912.1M1398.5 790.7V911.1M1399.3 867.2V894.2M1400.2 851.7V880.9M1400.7 853.6V863.2M1401.7 796.3V857M1402.9 830.5V851.3M1403.9 778.9V847.7M1404.7 782V839.5M1405.3 781.7V835.7M1406 764.7V838.8M1407.4 828.9V837.5M1407.8 772.8V844.7M1408.8 815.8V841.5M1411.7 772.9V782.7M1412.6 717.9V768.4M1413.5 694.3V756.6M1414.4 701.1V744.1M1417.8 700.8V709.1M1419.1 653.7V724.8M1419.7 704.6V737.7M1420.7 730.6V737.9M1422.5 673.2V685.7M1424.4 636.1V684.3M1425.4 677.4V687.4M1426.3 664V689M1427.6 621.4V635.8M1433.6 632.5V650.1M1448.6 638.9V645.6M1451.3 646.2V663.1M1452 650V660.1M1453.3 639.8V650.2M1455.2 641.4V655.7M1455.9 650.1V663.7M1456.5 646.5V667.9M1459.7 686.1V699.1M1461.3 689.7V708.8M1461.9 681V707.5" stroke="#1f77b4" stroke-width="4.9" stroke-linecap="round" stroke-dasharray="0 8.6" fill="none"/><path d="M116.5 896.9V965.3M117.7 880.3V964M118.2 909.1V985.9M119.5 877.7V970.4M120.2 881.1V993.7M121.3 891.3V993M122 915.9V993M123.2 882.3V986.2M124.1 884.9V998M124.5 920.2V992M125.5 901.1V994.1M126.5 903.6V1003M127.3 916.1V1003.2M128.4 917.3V988.2M129.5 913.6V994.4M130.1 899.6V1004.3M130.7 891.1V1007.7M131.6 896.9V977.7M132.6 930V1004.2M133.6 904.4V998.8M134.4 899.3V987.1M135.3 888.9V952.5M136.4 928.6V976.1M137.2 882.6V961M138.4 886.1V973.7M139 920.5V922.4M139.8 874.8V915.7M140.8 909V910.8M144.6 880.4V881.8M161 891.5V890.1M165.2 876.4V893.1M166.3 893.5V897.2M166.7 879.5V898.2M168.8 896.9V896.2M169.6 880.9V895.4M170.5 877.3V893.5M172.6 883.3V892.6M173.5 888.1V892.2M177.1 884.2V890.4M177.9 879.8V897.1M178.5 889.9V903.6M182.2 883.1V904.2M183.1 896.4V906.9M184.1 883.2V912.3M186.6 892.7V893.9M189.7 889.6V898M192 904.3V906.8M192.9 904.2V918.1M194 915.1V924.8M196 890.8V910.7M197.6 892.1V913.5M199.7 907.2V906.8M205.8 883.6V898.2M208.1 879.1V906.4M209.4 878V912.7M210.2 893.6V902.3M225.4 892.5V907.5M227.1 879.6V897.6M229.9 887.4V900.1M235.4 882.1V879.7M239.1 879.5V903M240.1 885.1V901.8M240.7 888.1V901.8M241.5 897V905.6M285.8 885.9V891.8M286.5 882.7V886.1M291.1 876.5V887.6M295.8 895.3V898.2M296.7 877V898.4M297.6 893.3V898.8M300.2 874.3V903.4M301 891.3V903.6M306.5 898.2V917.6M307.4 917.1V919M308.4 919.9V921.4M309.4 890.1V925.2M310.3 886.9V929.5M311.2 889.9V924.5M311.8 891.6V920.4M312.8 883V914.9M314 907.5V908M327.5 878.2V877.5M360.6 895.7V916.8M361.4 888.4V939.9M362.5 931.3V944.8M363 914.6V962.8M364.3 908.7V970.9M365.2 925.5V986.9M366.1 945.7V994.1M366.7 946.2V998.9M368 961.4V1000.3M368.4 964.9V1002.8M369.8 970.1V1003.3M370.4 966.6V1002.6M371.6 967.2V999.8M372.1 972.2V1005.3M373.1 960.5V1013.1M374.1 965.1V1009.3M374.6 968.1V1011.9M375.5 954.4V1008.1M376.9 960.2V1005.5M377.6 965.6V1015M378.5 974.7V1010.4M379.3 972.8V1013M380.2 965.1V1005.6M381.1 962.5V1009.9M381.8 976.2V1016.5M383.2 979.2V1017M383.8 971.8V1011.8M385.1 979.6V1021M385.9 976.9V1013.7M386.6 972.8V1017.9M387.6 974.8V1017.9M388.7 978V1021.6M389.5 988.3V1018.2M390.3 982.2V1017.7M391.2 989.8V1015M392.1 992.2V1019.4M393 983.1V1020.7M393.8 986.5V1019.2M394.8 990.7V1016.6M395.5 979.5V1015.6M396.7 993.8V1018.6M397.4 992.2V1018.3M398.3 978.4V1024.2M399.5 993.2V1018.5M400.2 993.9V1015.2M401.2 995.5V1018.6M402 995.6V1016.7M403.1 997.5V1022.3M403.5 991.4V1020.9M404.8 995.6V1020.6M405.4 995.5V1018.5M406.5 998.1V1019.9M407.5 996.6V1021.1M408.3 997.3V1021.3M409.3 1000.5V1022M409.8 1006V1023.4M410.8 1005.5V1020.4M412 1009.7V1026.2M412.6 1005.3V1025.6M413.9 1002V1024.9M414.4 1004.9V1025.1M415.2 1001.3V1023.8M416.5 1010.4V1026.9M417.2 1005V1022.3M418.1 1009.7V1027M419.2 1007.2V1026.5M419.7 1010.9V1026.7M420.6 1001.2V1027.1M421.8 998.9V1028M422.9 1004.1V1028.5M423.3 1003.2V1027.8M424.1 1001.3V1028.2M425.1 1005.3V1028.3M426.1 1006.8V1028.8M427.1 1008.8V1028.7M428.2 1007V1028.8M429.2 1005.8V1029.5M429.9 1011.3V1029.8M430.9 1009.6V1030M431.8 1012.7V1030.6M432.4 1010.8V1030.5M433.2 1012V1030.2M434.6 1014.6V1030.9M435.3 1013.6V1030.9M436.2 1016.2V1030.8M437.1 1017.9V1031.6M438 1019.5V1031.6M438.9 1019.5V1031.7M439.5 1020.3V1031.8M440.4 1020.5V1031.8M441.7 1020.2V1032.2M442.7 1020.5V1031.9M443.5 1021.4V1032.1M443.9 1021.3V1032M445 1020.6V1032.5M446.2 1021.4V1032.2M447.2 1021.1V1032.5M447.6 1023.5V1032.2M448.6 1022.9V1032.2M449.3 1020V1032.2M450.4 1024.2V1032.1M451.7 1020.4V1032.2M452.3 1021.7V1032.6M453.2 1020V1032.7M454 1020.8V1032.3M455.2 1021.4V1032.2M455.7 1020.8V1032.7M457 1019.5V1032.8M457.7 1018.8V1032.2M458.9 1020.1V1032.4M459.6 1019.2V1032.6M460.4 1019.9V1032.5M461.4 1020V1032.1M462.3 1019.4V1032.2M463.3 1018V1032.7M463.9 1020.6V1032.5M465.1 1018.9V1032.2M465.8 1020.7V1032.3M466.5 1018.1V1032.3M467.3 1020.5V1032.3M468.3 1018.3V1032.3M469.3 1019.1V1032.8M470.6 1018.1V1032.2M471 1020.4V1032.2M471.8 1021.1V1032.5M472.8 1019.5V1032.1M473.8 1020.8V1032.1M475 1019.6V1032.8M475.4 1019.5V1032.3M476.4 1021.1V1032.4M477.4 1021.4V1032.2M478.4 1021.1V1032.4M479.3 1019.3V1032.8M480.1 1019.7V1032.4M480.9 1020.8V1032.6M482.2 1021.5V1032.9M482.9 1020.4V1032.9M483.5 1019.7V1032.2M484.4 1021.7V1032.3M485.6 1021.7V1032.3M486.6 1021.4V1032.7M487.6 1022.1V1032.4M488.5 1020.1V1032.8M489 1021.3V1032.9M490.2 1022.3V1032.2M491.3 1022V1032.5M492.2 1021.3V1032.7M492.9 1020.8V1032.8M493.7 1022.5V1032.4M494.6 1020.5V1032.5M495.6 1022V1033.2M496.5 1020.3V1032.5M497.3 1021.3V1032.8M498.2 1020.9V1032.6M499.1 1020.7V1033.2M500.1 1019.5V1033M500.9 1019.4V1032.8M501.6 1020.1V1032.8M502.5 1020.8V1032.8M503.9 1020.8V1032.9M504.8 1022.1V1033M505.5 1020.9V1033M506.3 1020.1V1033.3M507.4 1020.5V1033.2M508.4 1022.5V1033.7M508.7 1022.4V1033.6M510.2 1021.9V1033.1M511.1 1021.5V1033.7M511.4 1019.6V1033.3M512.5 1020.5V1033.5M513.8 1022.4V1034.1M514.2 1019.6V1033.6M515.5 1021.7V1033.9M516.4 1021.4V1033.7M517.3 1020.6V1033.7M517.7 1020.2V1033.4M518.8 1021.6V1033.5M520 1020.4V1033.9M520.5 1021.3V1033.5M521.7 1021.1V1033.3M522.6 1018.3V1034M523.5 1017.8V1033.7M524.3 1018.5V1033M525.2 1018.7V1033.4M525.9 1017.8V1032.5M527.2 1018.3V1033M527.7 1019.6V1032.4M528.9 1020V1032.1M530 1020.5V1032.2M530.7 1020.5V1031.7M531.5 1021.9V1031.9M532.3 1019.2V1031.4M533.1 1020.1V1031.1M534.2 1019.4V1030.9M535.2 1020.2V1030.6M536.1 1016.1V1030.4M536.7 1017.6V1030.5M537.8 1017.5V1029.9M538.7 1016.3V1030.1M539.5 1016.8V1029.8M540.7 1014.8V1030.4M541.4 1016.3V1030.3M542.2 1015.4V1029.8M543.3 1013.4V1029.9M544.2 1014V1030.3M545.1 1015.3V1029.7M545.6 1013.2V1030M546.9 1012.5V1029.7M547.9 1012.7V1030.2M548.4 1013.9V1030M549.6 1013.1V1030M550.7 1014.5V1029.6M551.1 1012.5V1029.6M552.4 1013.2V1029.6M553 1010.8V1029.9M554 1013.4V1030.4M554.8 1013.1V1029.9M555.8 1012.4V1029.6M557 1012.1V1029.8M557.7 1013.7V1029.7M558.4 1012.4V1029.8M559.5 1014.1V1029.8M560 1014.3V1029.7M561.3 1013.9V1030.1M562.1 1014.2V1030.5M562.7 1016.6V1029.8M563.6 1015.3V1030.3M564.9 1014.5V1029.8M565.7 1013.9V1029.7M566.8 1009.7V1029.7M567.8 1013.3V1030.5M568.6 1014.4V1029.9M569.4 1009V1029.8M569.9 1015.5V1030.4M571.3 1017.1V1030.3M571.7 1016V1030.2M572.7 1015.3V1029.9M573.5 1016V1029.9M574.6 1013.1V1030.3M575.5 1013.7V1029.9M576.7 1015.5V1029.8M577.4 1015.6V1030.1M578.5 1014.9V1029.8M579.2 1014.1V1030M579.9 1014.8V1029.8M581 1013.7V1029.8M581.9 1013.1V1030.5M583 1014.2V1029.8M583.7 1012.9V1029.9M584.4 1013.9V1030.1M585.4 1015.9V1029.8M586.4 1016.2V1030.4M587.3 1014.8V1030.1M588.4 1011.9V1029.8M589.1 1013.8V1029.9M590.1 1015.4V1030M590.7 1018.7V1030M592.1 1016.3V1029.9M592.5 1014.6V1030M593.5 1015.7V1030.4M594.2 1013.2V1030.1M595.2 1017V1030.5M596.2 1014.4V1030.1M597.5 1014.4V1030.1M598 1012.1V1030.5M598.9 1009.7V1029.8M599.6 1011.5V1030.1M600.8 1009.7V1030.1M601.7 1007V1029.5M602.9 1007V1029.5M603.2 1009V1030.3M604.6 1011.7V1029.5M605.6 1011.9V1030.2M606.3 1011.3V1029.8M606.9 1011.1V1030.2M608.2 1009.9V1029.7M609 1012V1029.8M610 1015.8V1030M610.5 1013.8V1030.1M611.4 1013V1030M612.5 1014.5V1030M613.3 1014.9V1030.1M614.3 1012.4V1030M615.2 1013.7V1030.4M616.2 1014.6V1030.4M617.3 1014.1V1030.1M618 1014V1029.8M619 1012.7V1029.8M619.6 1016.8V1030.5M620.7 1014.8V1030.2M621.4 1016.7V1029.8M622.7 1015.7V1029.9M623.5 1015.9V1029.9M624.3 1017.6V1030.1M624.9 1017.3V1029.9M625.7 1017V1030.4M626.6 1015.5V1030.3M627.5 1014.4V1030M628.7 1011V1029.7M629.5 1010.9V1029.7M630.3 1004.9V1029.7M631.4 998.3V1029.3M632.4 999.6V1029.9M633.1 1001.8V1029.5M634 1002.5V1029.9M634.8 1008.2V1029.5M635.7 1007V1029.2M636.8 1002.1V1029.7M637.6 1003.1V1029.7M638.7 1006.8V1030.1M639.8 1010.3V1030.3M640.2 1009.7V1029.8M641.2 1009.7V1030M642.1 1008.1V1029.8M642.8 1008.8V1030.5M644 1010.6V1030.3M644.7 1009.8V1030.4M646 1010.1V1030.2M646.8 1004.7V1029.8M647.4 1007.1V1030.5M648.7 1009.8V1030.3M649.6 1017.2V1030.1M650.2 1010V1030M651.3 1011.7V1030.3M652.2 1011.7V1030.7M652.9 1013.4V1030.3M654.1 1012.2V1030.2M655.1 1009.6V1030.5M655.8 1012V1030.4M656.4 1014.7V1031.1M657.7 1015.8V1030.7M658.2 1015V1030.4M659.5 1013.7V1030.5M660.4 1016.8V1030.5M661 1014.7V1030.8M662.2 1015.1V1030.6M663.2 1014.2V1030.9M663.7 1016.5V1030.6M664.6 1015V1031M665.8 1015.6V1031.2M666.6 1014.2V1030.6M667.3 1014.3V1031.1M668.1 1012V1031M669.4 1010.2V1030.8M670.1 1006.4V1030.7M670.9 1006.2V1030.8M671.8 1011V1030.6M672.6 1012.2V1031M673.4 1015.3V1030.7M674.3 1012.6V1030.7M675.6 1010.1V1031.1M676.5 1011.6V1031.2M677.3 1014.2V1031.5M677.9 1012.7V1031.7M679 1013.3V1031M679.8 1013.2V1031.7M680.7 1014.6V1031M681.7 1011.3V1031.6M682.7 1013.5V1031.3M683.8 1014.4V1031.8M684.7 1013.5V1031.2M685.4 1013.5V1031.5M686.4 1014.4V1031.3M687.1 1013.3V1030.8M688.3 1013.9V1031.3M688.9 1011.4V1030.9M690.1 1013.1V1030.4M691 1011.9V1030.3M691.5 1013.4V1031.1M692.9 1009.8V1030.5M693.6 1010.9V1030.4M694.3 1008.1V1030.4M695.2 1012.3V1030M696.2 1008.6V1029.9M697 1005.9V1029.8M698 1009.5V1029.8M698.8 1006.6V1029.4M699.6 1009.1V1029.8M701 1004.8V1029.8M701.5 1000.5V1029.7M702.7 994.4V1028.9M703.1 993.6V1028.2M704.4 993V1026.2M705.2 989.6V1026M705.8 975.9V1024.8M707.1 975.5V1026.1M707.9 974.1V1025.7M708.6 977V1024.9M709.9 972.9V1026.1M710.5 967.8V1024.2M711.6 975.4V1025.2M712.2 974.4V1025.7M713.3 972.7V1024.1M714.3 971.3V1026.1M715.4 972.3V1026.1M716.2 976.1V1024.9M716.6 970.3V1024.1M717.9 980.7V1024.1M718.6 969.5V1024.1M719.8 976.9V1024.7M720.7 970.7V1024.2M721.2 966.1V1024M722.2 979.1V1026.4M723.2 982.4V1024.5M723.8 976.9V1026.4M724.9 981.4V1025.7M725.9 982.9V1025.7M727.1 988.5V1026.4M727.8 993.7V1025.3M728.8 986.4V1027.1M729.6 993.4V1026.7M730.3 1003.1V1026.3M731.4 997.8V1026.5M732.4 1001.3V1028.2M733 1006V1028.2M734.2 1006.9V1029.1M734.8 1010.5V1028.9M736 1012.8V1030.3M736.6 1012.1V1030.3M737.4 1012.2V1030.6M738.6 1016V1031.2M739.4 1015.8V1032.2M740.6 1018.8V1031.8M741.3 1020.2V1032M742 1017.2V1032.3M742.8 1020.3V1032.6M744.1 1022.4V1033.3M744.7 1021.4V1033.6M745.9 1023.2V1033.3M746.6 1022.8V1033.6M747.8 1024.7V1033.7M748.6 1024.2V1034M749 1024.5V1033.9M750 1022.1V1033.8M751 1024.1V1033.9M752.2 1025.7V1034M752.6 1024.9V1034.3M753.7 1024V1034.3M754.8 1024.4V1034M755.6 1023.4V1034.1M756.4 1025.6V1034.2M757.7 1024.1V1034.3M758.2 1025.7V1034M759 1025V1033.8M760.2 1022.6V1034M761.2 1022.7V1033.9M761.8 1022.5V1033.9M762.7 1022.7V1034.1M764 1023.6V1034.2M764.3 1022.3V1034.3M765.8 1023.6V1033.8M766.7 1022.3V1033.3M767 1023.8V1033.4M768 1023.8V1032.9M768.8 1019.7V1032.4M770.2 1019.9V1032.1M770.8 1017.7V1031.8M771.6 1017.1V1031.5M772.6 1014.3V1031.6M773.4 1009.4V1031.2M774.4 1001V1030M775.2 991.9V1029.3M776.4 980.8V1028.4M777.1 970.6V1029M778 964.2V1026.4M779.1 953.7V1028.3M779.8 934.3V1025.7M780.8 942.1V1024.5M781.5 934.8V1025M782.7 941.9V1021M783.3 938.1V1024.2M784.3 948.3V1021.3M785.2 949.3V1021.5M786.4 955.3V1021.3M787.2 974.1V1020M788.1 976.2V1021.5M788.8 973.8V1019M789.7 969.2V1018.4M791 950V1017.3M791.4 933.3V1018.6M792.6 909.9V1015.2M793.3 881.4V1017M794.5 865.9V1009.7M795.3 868.2V1004M796.3 861V1002.3M796.9 836.5V991.8M797.6 826.1V985.9M798.7 815.2V968.7M799.4 815.2V971.1M800.7 825V962.6M801.6 861.2V974.7M802.2 850.7V957.9M803.4 817.2V976.3M804 871.6V957.7M805.1 842.1V965.7M805.8 832.1V975.6M807 838.6V962.3M808 860.9V985.6M808.9 850.2V985.9M809.4 820V979.3M810.3 845.8V972M811.5 856.5V992.4M812.2 871.3V977M813.4 867.7V990.2M814.1 858.7V976.8M815.1 838.2V981.1M815.6 852.7V984.4M817 855.5V995.6M817.9 845V990.4M818.7 872.2V978.6M819.5 832.3V1000.4M820.6 842V981.4M821.2 838.2V986M822.2 823.5V986.2M823.1 846.6V977.2M824.1 868.5V979.9M824.7 856.6V996.4M826 829.2V988.4M827 838.3V989.8M827.5 846.1V1000.6M828.6 826.7V1002.9M829.4 833.9V1002.8M830.5 817.2V1002.5M831 850.6V1002.8M832.1 870.3V1008.4M833 845.3V1002.7M834 863.2V1000.1M834.9 840.3V1003.8M835.4 832.4V1001.8M836.6 842.1V995M837.5 867.9V1000.1M838.3 820.7V993.3M839.4 869.2V990.4M840.3 846.4V985.1M841.1 822V986.4M842 862.4V980.8M843.2 838V980.7M844 852.6V981.6M844.5 848.1V995.4M845.5 833.7V987.1M846.8 818.6V984.4M847.6 869.6V984.2M848.1 851.3V999.2M849.3 822.3V987.4M849.9 849.3V998.6M851.2 815.5V986.9M851.8 858.9V993.1M852.8 828.3V996.4M853.9 849V990.6M854.3 817.4V998.1M855.5 827.8V1003.7M856.6 836.8V1001M857.4 857.9V1002.4M858.4 863.4V1006M859 832.3V1005.3M860.1 838.7V1009M861 850.9V1006.2M862.1 844.7V1003M862.8 861.1V1000M863.6 819.6V1003.3M864.5 851.6V1002.3M865.6 833.6V990.4M866.3 866.3V995.6M867.2 871.9V981.5M868 817.6V976M869.1 871.7V973.4M869.7 815.7V967.1M870.8 837.9V952.2M871.5 820.4V945.9M872.7 863.3V929.7M873.3 818.4V924.9M874.1 845.4V927.3M875.2 859.9V928.8M876.3 861.8V936M877.1 820.6V942M878.1 847.3V947.6M879.2 859.7V935.3M880 868.5V935.4M880.6 832.4V951.6M881.3 827V934.9M882.7 823V940.7M883.2 835V926.9M884.4 852.2V932.5M885.1 843.9V941.4M886 856.5V925.6M887.1 840.2V944.1M887.8 867.4V925M889 828.9V924.9M889.6 851.1V930.4M890.8 826.4V927.8M891.4 848.7V941.1M892.3 864.2V957.7M893 842.3V970.4M894.1 844.9V971.5M895.1 838.5V976.6M896.3 823.6V982.9M896.9 818.1V982.5M897.8 871.2V994.4M898.5 839.7V982.2M899.7 873V986.7M900.6 865.5V976.2M901.3 871.1V975.6M902.4 846.4V973.9M903.4 873V973.2M904.4 819.3V977.7M905.3 818.1V982.7M905.7 843.2V983.4M906.6 868.6V990.8M907.5 871.6V991M908.5 828.7V992.8M909.2 854V1000.8M910.3 843V1000.1M911.1 865.5V1006.3M912.3 830.6V1003M912.8 856.6V1005M913.8 829.4V1000.7M915 818.1V995M915.9 836.1V999.3M916.5 836.5V991.3M917.8 869.3V992.7M918.4 868.3V994.2M919.4 850.2V996.3M920.5 858.9V998.5M921.2 860.6V1002.9M922 864.9V1005.2M922.8 844.7V1005.9M923.7 868.6V1008.5M924.5 827.6V1013.6M925.6 819.2V1014.8M926.9 875.7V1013.2M927.4 842.2V1003.5M928.4 842V1009.9M929.5 842.9V1003.3M930.5 844.5V1013.5M931.1 870.3V1005.8M932.1 855.6V1007.6M933.2 852.6V1011.2M934 860.3V1017.7M934.5 891.8V1015.9M935.8 911.4V1017.7M936.7 923.2V1019.6M937.6 916.3V1020.8M938.5 899.2V1013.5M939.3 890.8V1012M940.2 867.1V1010.2M940.9 852.1V1012.1M941.6 842.7V1009.9M942.8 847.6V1005.7M943.7 857.9V1000M944.7 840V1001.8M945.3 816.4V993.2M946.4 849.3V991.1M947.3 824.1V991.9M948 818.9V989.9M949.1 871.6V994.6M949.8 835V988.6M950.8 849.5V987.3M951.8 867.1V992.6M952.9 858.5V986.2M953.7 862.5V984.2M954.4 816.4V987M955.7 860.2V993.4M956.1 873V1002.5M957.4 852.6V1007.9M958 833.1V1010.4M958.9 867.9V1017M959.8 861.5V1016.2M960.7 842.2V1014.1M961.4 866.7V1015.8M962.9 886.9V1019.2M963.2 905.7V1018.9M964.6 913.4V1018M965.3 914V1019.4M966.3 917.5V1020.8M966.9 917.3V1018.1M968.2 904.2V1015.8M968.9 905.8V1014.8M969.6 897.7V1013.8M971 884.3V1013.5M971.7 872V1013.3M972.7 874.9V1012.5M973.6 858.8V1015M974.5 858.1V1011.1M975.2 872.2V1012.1M975.9 865V1012.3M977.2 858.5V1010.5M978.2 872.2V1012.2M978.8 868.8V1010.7M979.8 875.8V1016.5M980.6 884.9V1011.9M981.4 881V1011.7M982.5 878V1014.1M983.1 876.5V1012.2M984 876.2V1012.9M985.3 892.3V1011.7M986 891.7V1011.5M987.1 907V1013.3M987.7 910.2V1011.4M988.4 914.8V1012.1M989.5 915.4V1015.3M990.6 916.5V1011.6M991.6 911.5V1010.1M992.2 900.5V1014.1M993.2 888.2V1011.4M994.1 883.9V1007.6M994.8 872.7V1006.9M996 868.1V1009.4M996.8 838.2V1004.3M997.5 862.5V1003M998.5 828.4V1001.3M999.2 853.1V1005.2M1000.3 852.5V1000.1M1001 838.2V997.9M1002.2 867.6V999.3M1003.1 815.4V1000.1M1003.7 853V1004.3M1004.8 867.4V1004.9M1006 818.4V1004.4M1006.9 843.4V1006.7M1007.3 843.6V1006.4M1008.3 822.2V1010.1M1009.3 849.8V1012M1010.1 858.8V1007.6M1011.4 856.2V1006.1M1012.4 846.6V1003.6M1012.8 864.3V1008.2M1014.2 824.5V998.4M1014.9 822.1V998.4M1015.4 868.9V1003.6M1016.6 833.9V994.6M1017.3 869V994M1018.1 853.4V992.3M1019.6 825.4V995.7M1020 845V997.2M1021.3 838V1003.3M1022.1 834.7V997.4M1022.8 828.4V997.5M1023.8 829.7V998.4M1024.8 836.2V1005.9M1025.5 845.9V1004.4M1026.8 841.8V1002.2M1027.4 847.3V1002.3M1028.1 843.2V1002.2M1029.3 842V1006.4M1030.4 854.8V1002.9M1031.3 876V999M1031.6 827V1001.6M1032.6 843.3V989.1M1034 858.5V988.1M1034.4 852.1V991.3M1035.3 825.3V985.5M1036.7 828.6V985.4M1037.2 823.8V990.2M1038.1 869.7V988M1039.2 818.4V993.4M1039.8 866.9V998.4M1041 829V991.8M1042 830V998.6M1042.5 849.7V998.3M1043.6 854.5V989.8M1044.5 816.4V991.6M1045.2 819.5V993M1046.3 842.2V993.8M1047.4 834.2V1001.8M1048.1 851.7V997.9M1048.7 834V999.6M1050.2 849V1001.2M1050.7 868.8V1002.9M1051.8 844.6V1007.9M1052.4 837.5V1004.9M1053.3 830.2V1008.6M1054.2 849.7V1005.5M1055.6 860.8V1005.1M1055.9 857.1V1009.3M1057.2 824.5V1002.7M1057.7 835.8V1003.4M1059 858.5V1004.6M1059.8 829.8V1009.4M1060.5 849.8V1004.1M1061.4 871.6V1003.9M1062.3 860.2V1003.7M1063.4 873V1004.8M1064.2 861.6V1009.5M1065.2 860.3V1008.6M1065.8 837.3V1013M1066.8 857.5V1013.6M1068.1 863.3V1009.1M1068.6 872.6V1015.3M1069.6 898.6V1012.5M1070.4 901.7V1013.5M1071.5 906.1V1017.7M1072.5 906V1019.5M1073.3 894.5V1020.6M1074.4 870V1016.6M1075.3 838.7V1019.2M1075.9 849.9V1009.3M1076.7 871.4V1012M1077.7 843V1009.1M1078.8 841.9V1009.6M1079.7 816.2V1008.1M1080.3 848.7V1013.5M1081.6 833.4V1006.4M1082.1 831.8V1012M1083.4 846.7V1017M1084 885.7V1014.2M1084.7 901.2V1016M1086.1 908.4V1015.4M1086.5 915.6V1014.4M1087.6 912.2V1013.4M1088.9 917.9V1017.3M1089.6 919.1V1014.9M1090.3 920.6V1016.3M1091.2 915V1016M1092.2 893.1V1012.1M1093.2 854.7V1011.1M1094 828V1016.2M1095.1 834.2V1011.4M1095.6 838.1V1009M1096.8 869.7V1010.5M1097.7 845.6V1011.3M1098.6 846.9V1009.1M1099.7 844.3V1009.6M1100.5 866.9V1010.9M1101.4 899.7V1016.9M1102.3 920.9V1013.5M1103.2 926.9V1013.7M1104.1 918.1V1013.3M1105 913.7V1013.1M1105.6 907.8V1013.5M1106.9 902.3V1012.6M1107.5 894.2V1013.1M1108.6 888.7V1018M1109.3 878V1017.3M1110 873.5V1010.6M1111.1 868.6V1013.9M1112.1 849.7V1014.2M1113 846.1V1011M1113.6 817.5V1003.3M1114.8 866.7V1002.2M1115.7 873.1V1001.1M1116.5 828.7V1001.6M1117.4 826.9V1007.4M1118.6 818.1V1000.9M1118.9 849.6V1006.2M1119.9 816.9V1008.9M1121 827V1010.7M1122.1 869.4V1014.8M1122.6 874.1V1014.9M1123.8 887V1015.6M1124.6 903.3V1016.6M1125.4 918.5V1019.5M1126.1 916.9V1017M1127.4 917V1017M1128.1 926.7V1021.5M1129 933.9V1018.1M1129.8 936V1020.2M1130.9 939.8V1019.1M1131.6 935.1V1021.8M1132.4 935.5V1022.5M1133.3 935V1021.1M1134.7 929.2V1023.7M1135.5 929.2V1025.9M1136.2 926.5V1024M1137.4 929.3V1027.2M1137.9 937.9V1027.3M1139.2 939.7V1025.6M1140.1 944.1V1028M1141.1 940.8V1027.3M1142 956.2V1025.4M1142.7 959.4V1025.2M1143.5 967.4V1025.1M1144.7 971.9V1025.1M1145.2 971.3V1026.7M1146.1 969.1V1027M1147.1 967V1024.4M1148.2 963.9V1023.9M1149 958.2V1026.4M1149.7 959.6V1024.8M1150.7 953V1024.8M1151.8 954.4V1023M1152.5 949.2V1025.7M1153.3 947.6V1022.3M1154.3 942.7V1023M1155.4 944V1022.6M1155.9 949.7V1022.7M1157.3 946.9V1023.2M1157.8 946V1023.1M1158.7 941.8V1022.4M1159.8 948.5V1023.3M1160.6 939.7V1024.9M1161.5 953.8V1023.3M1162.1 955.7V1025.8M1163.2 951.1V1024.1M1164.2 954.4V1025.2M1165.3 954.5V1026.7M1166 957.5V1024.6M1167.1 950.2V1024.7M1167.9 955.5V1027.3M1168.5 958.3V1027.5M1169.9 947.5V1024.3M1170.3 942.9V1025.3M1171.1 949.3V1023.2M1172.2 935.5V1025.7M1173.2 930.3V1022.1M1174.3 939.4V1022.6M1175.1 926V1022.3M1175.7 935.8V1024.3M1176.6 928.5V1020.8M1178 934.4V1020.2M1178.5 938.8V1020.7M1179.3 949.7V1025M1180.2 949.5V1023.1M1181.4 958.4V1022M1182.1 955.8V1022.4M1183.2 968.8V1025M1184.1 956.4V1024.9M1185.1 938.8V1021.8M1185.7 933V1021.7M1186.6 866.9V1018.6M1187.4 830.4V1022.1M1188.6 850.6V1011.6M1189.6 815.7V1006.5M1190.6 833.6V1003.6M1191.4 826.6V1001.8M1192.1 824.1V995.1M1193 831.7V1002M1193.7 847.7V993.8M1194.5 835.4V993.4M1195.9 826.2V995M1196.9 867.7V990.7M1197.2 847.5V1001.4M1198.4 824.5V1005M1199.2 858.7V1004.1M1200.3 866.1V1009.3M1201 867.1V1016.3M1202 879.6V1017.4M1202.8 895.5V1020.5M1203.5 907.9V1017.9M1204.7 900.8V1020.6M1205.4 921.2V1018.7M1206.8 919.8V1017.9M1207.1 922V1017.8M1208.3 920.6V1018.7M1209.4 926.3V1019.3M1210.4 932.8V1019.9M1210.8 935.2V1023.3M1211.7 934.9V1023.7M1212.8 952.2V1021.6M1214 948.9V1022.3M1214.6 954.6V1023M1215.7 960.5V1024.9M1216.3 959.5V1024.7M1217.3 950V1028.2M1218 944.9V1025M1219.4 920.1V1023.3M1219.9 909.3V1023.4M1220.7 877.7V1014.6M1221.5 867.9V1017.6M1222.5 873.6V1008.6M1223.5 849.3V1009.6M1224.3 826.8V996.3M1225.7 868.2V991.3M1226.4 871.2V986M1226.9 869.8V985.4M1228.1 818.3V993.9M1228.9 817.3V993.5M1229.7 845.4V999.8M1230.9 871.5V1004.3M1231.5 823.4V1005M1232.7 868.1V1019.3M1233.6 828.3V1008.2M1234.2 866.7V1013.4M1235.4 821.5V1007.7M1236.3 869.6V1006.9M1237.3 868.2V1006.6M1237.9 873.2V1010M1238.8 828.9V1015.2M1239.7 866V1006.3M1240.6 875.7V1009.3M1241.8 853.3V1006.4M1242.7 842V1003.8M1243.3 827.8V1006M1244.4 829.4V1014.4M1245.4 827.6V1008.5M1246.2 873.3V1010.9M1246.9 836.6V1009.5M1248 823.4V1007.9M1248.5 866.3V1008.1M1249.6 851.2V1017.4M1250.6 861.9V1011.8M1251.6 853V1019.2M1252.3 851.2V1012.7M1253.4 852.4V1012.9M1254 858.2V1014.8M1255.1 877.4V1019.2M1256.1 885.2V1016M1256.7 894.3V1016.2M1257.7 896.8V1021.2M1259 909.5V1017.5M1259.6 902V1020M1260.8 915.5V1017.3M1261.2 915.1V1018.2M1262.3 915.2V1018.3M1262.9 910V1017.1M1264.3 909.8V1017.7M1265.3 916.6V1018.2M1265.9 920.9V1020M1267.1 929.2V1019.1M1267.7 928.4V1020M1268.7 926.8V1019.6M1269.5 936.2V1021.5M1270.2 939.3V1021.8M1271.1 944.2V1021.3M1272.1 937.2V1021.8M1273.2 935.4V1021.4M1274 936.3V1021.2M1275.1 942.8V1020.5M1275.7 940.1V1020.4M1276.9 944.6V1019.8M1277.6 934.1V1021M1278.2 922.4V1018.2M1279.5 926.2V1017.9M1280.2 923.9V1018.1M1281.4 927V1017.9M1282.2 922.4V1018.5M1283.1 919.5V1016.7M1283.6 919.7V1017M1285 913.1V1017.8M1285.9 919.1V1019M1286.6 911.6V1017.1M1287.7 902V1017.3M1288.3 880.2V1021.3M1289.4 868.5V1017.4M1290.1 860.5V1014.2M1291.1 840.9V1019.7M1292 842.2V1015M1292.9 828V1014.9M1293.6 861.5V1019.9M1294.6 856V1011.3M1295.4 846.6V1017.1M1296.3 854.8V1011.5M1297.6 851V1011.3M1298 864.5V1011.9M1299.4 852.2V1020.1M1300.2 857.1V1018.1M1301.3 862.1V1013.3M1302.1 862.9V1020.8M1302.9 862.1V1018.4M1303.5 858.3V1015.2M1304.3 870.1V1015.7M1305.5 887.3V1021.5M1306.4 888.1V1017.1M1307.3 902V1021.4M1308.3 910V1017.7M1309.3 918.4V1015.7M1310.2 915.1V1016.9M1310.7 906.6V1014.1M1312.1 917.2V1014.5M1312.4 916.8V1013.7M1313.6 917V1012.4M1314.3 917V1016.3M1315.4 915.5V1012.8M1316.4 913.8V1016.9M1317.2 911.8V1013.7M1318 910.8V1015.8M1318.8 916.8V1015M1320.1 909.2V1016.5M1320.8 900.2V1015.4M1321.7 895.6V1016.9M1322.6 904.8V1016.9M1323.4 903.9V1016.8M1324.2 899.1V1017.3M1325.1 902.2V1019.9M1326.4 905.8V1021.5M1327.1 904.1V1017.9M1328.2 910.3V1021.3M1329.2 918.7V1017.3M1329.6 910.8V1020.3M1331 892.5V1016.8M1331.8 861.3V1018.5M1332.7 834.4V1015.8M1333.5 853.8V1013.8M1334.3 862.5V996.9M1335.2 843.9V985.3M1336 824.5V996.1M1336.8 852.8V980.9M1337.9 872.4V975.2M1338.9 820.7V973.1M1340 826.3V976.8M1340.5 836.4V970.4M1341.5 850.8V970.2M1342.2 848.2V993.3M1343.4 862.6V978.2M1343.9 865.8V993M1344.9 869.4V992.7M1345.9 870.1V987.1M1346.8 842.1V999.8M1347.8 835.5V993.6M1348.6 856.2V1003.5M1349.3 833.7V996.5M1350.7 839.9V993.3M1351.3 830.4V998.5M1352.3 852V1003.2M1353.2 874.9V997.3M1354.4 862.7V992M1355 824.4V989.2M1356.1 868.2V989.7M1357 871.8V999.4M1357.5 846.4V991.5M1358.7 827V997.7M1359.5 859.7V1003.8M1360.2 821.9V1005.2M1361.4 819.1V1007.3M1362.3 853V1008.4M1363.3 848.3V1000.6M1364.2 849.2V1006.7M1365.1 840V1003.3M1366 824.7V1001.9M1367 837.9V1003.7M1367.4 849.8V1005.2M1368.5 833.7V1007.1M1369.7 815.3V1005.8M1370.2 830.7V1006.8M1370.9 848.5V1009.3M1372.4 813.9V1011.9M1372.8 863.7V1008.9M1374.2 825.8V1006.5M1375 850.8V1006.9M1375.7 860.4V1007M1376.5 838.3V1013.6M1377.3 853.3V1008.5M1378.6 833.8V1010.3M1379 875.4V1018.8M1380.3 834.4V1014.1M1380.9 872.4V1020.7M1382.1 850.1V1022.5M1383.2 855.4V1020.5M1384 867V1022M1384.8 871.8V1011.7M1385.7 841.1V1012.5M1386.2 843.3V1010.8M1387.6 862.4V1008.1M1388.6 869V1004.8M1389 832.6V1000.9M1390.2 820.8V1002M1391.2 832.9V1004.1M1392 856.9V1007.9M1392.8 869.5V1010.2M1394 866.5V1013.8M1394.4 889.6V1017.1M1395.8 901.3V1018M1396.7 905.8V1017.3M1397.5 914V1019.4M1398.5 914.4V1015.9M1399.3 895.4V1014M1400.2 882.3V1013.8M1400.7 865.9V1010.7M1401.7 858.5V1010.9M1402.9 852.7V1016.9M1403.9 870.3V1014.3M1404.7 840.6V1019M1405.3 836.9V1013.9M1406 842.4V1022.7M1407.4 869V1015.3M1407.8 848.4V1021.6M1408.8 844.1V1013.7M1409.6 872.4V1010.7M1410.7 833.9V1013.5M1411.7 868.9V1001.7M1412.6 852V1003.9M1413.5 835.9V1008M1414.4 863.5V994.1M1415.4 859V991.9M1416.1 821.3V999.4M1417.2 869.7V989M1417.8 868.4V984.4M1419.1 866V993M1419.7 851.9V986.6M1420.7 815.1V988.7M1421.8 869.7V984M1422.5 839.2V981.5M1423.3 857.8V986.9M1424.4 857.5V987M1425.4 842.9V979.8M1426.3 854.2V987M1426.8 831.7V981.9M1427.6 821.7V984.1M1429 850.5V981.7M1429.9 872V991.8M1430.8 851.3V978.9M1431.5 853.9V983M1432.1 834.3V986.8M1433.6 867.6V983.3M1434 840.9V977.7M1435.3 842.6V992.8M1435.8 828.9V976.1M1437.1 825.1V970.4M1437.8 862.2V967.5M1438.9 856.8V971.7M1439.5 871.9V950.2M1440.6 832.8V948.4M1441.6 871.2V959.8M1442.3 832.1V942.1M1443 863.1V960.9M1443.9 829.3V966.6M1444.7 853.4V949.6M1446 846.9V956.1M1446.8 846V972.2M1447.4 825.7V964.6M1448.6 828.1V969.7M1449.4 868.3V974.4M1450.5 864.5V980.4M1451.3 820.9V981.3M1452 829.4V976.4M1453.3 854.1V977M1453.8 859V977.1M1455.2 854.3V986.3M1455.9 836.4V996.4M1456.5 851.5V988.8M1457.6 825.9V999.6M1458.4 837.8V983.1M1459.7 828.7V979M1460.1 837V979.1M1461.3 845.7V971.9M1461.9 872.7V969" stroke="#1f77b4" stroke-width="4.9" stroke-linecap="round" stroke-dasharray="0 4.3" fill="none"/><path d="M116.6 722h0M116.6 690.8h0M116.6 660.6h0M116.6 657.7h0M117.5 740.2h0M118.4 656.6h0M118.4 660.7h0M118.4 664.8h0M119.3 691.6h0M119.3 661.1h0M120.2 685.7h0M120.2 794.9h0M122 809.5h0M122 784.8h0M122.9 780.3h0M122.9 781.9h0M122.9 771.4h0M123.8 870.1h0M123.8 850.9h0M123.8 857.8h0M123.8 781h0M125.6 767.4h0M125.6 761.7h0M125.6 766h0M126.5 767.9h0M126.5 820.9h0M127.4 878.6h0M127.4 778.2h0M128.3 786.3h0M129.2 832.8h0M129.2 770.5h0M131.9 723.1h0M131.9 850.9h0M131.9 705.6h0M133.7 724.4h0M133.7 729.8h0M134.6 724.6h0M134.6 781.9h0M136.4 699h0M136.4 706.9h0M136.4 705.2h0M136.4 703h0M137.3 708.6h0M138.2 668.6h0M138.2 677.6h0M139.1 659.6h0M139.1 662.6h0M139.1 677.5h0M140 696.4h0M140 692h0M140 661.4h0M140.9 677.6h0M140.9 673.7h0M140.9 687.2h0M140.9 680.1h0M141.8 657.4h0M144.5 664.6h0M145.4 666.9h0M145.4 656.8h0M149.9 663.6h0M153.5 668.3h0M153.5 696.1h0M153.5 670h0M153.5 681.3h0M154.4 657.8h0M154.4 663.1h0M154.4 660.1h0M158 651.5h0M158 642h0M158 651.8h0M158 637.8h0M159.8 635.7h0M159.8 642.9h0M159.8 640h0M160.7 628.5h0M162.5 675.3h0M162.5 679.4h0M162.5 669h0M162.5 666.7h0M163.4 668.3h0M163.4 674.4h0M163.4 664h0M163.4 678.1h0M167 698.9h0M168.8 693.3h0M168.8 668.4h0M168.8 667h0M168.8 670.9h0M169.7 660.8h0M171.5 666.7h0M171.5 684.5h0M171.5 685.7h0M171.5 689.6h0M173.3 695.5h0M173.3 677.5h0M176 685.8h0M176 689.1h0M179.6 703.2h0M180.5 696.9h0M180.5 677.1h0M180.5 690.8h0M182.3 689.2h0M182.3 708.6h0M182.3 727.8h0M182.3 694.6h0M183.2 689.1h0M183.2 684.6h0M183.2 696.4h0M183.2 695h0M184.1 734.2h0M184.1 717.7h0M184.1 704.7h0M184.1 725.6h0M187.7 680.3h0M188.6 674.9h0M188.6 674.6h0M191.3 664.4h0M191.3 673.3h0M191.3 670.3h0M191.3 668.2h0M193.1 697.1h0M193.1 692.9h0M193.1 679.2h0M193.1 695h0M194.9 689.2h0M194.9 683h0M196.7 669.2h0M196.7 676.2h0M196.7 675.2h0M196.7 670.1h0M197.6 673.8h0M197.6 692.4h0M197.6 689.9h0M197.6 681.8h0M199.4 734.6h0M199.4 682.9h0M199.4 671.8h0M199.4 694h0M200.3 667.9h0M200.3 668.1h0M200.3 674.3h0M200.3 660.8h0M202.1 680.3h0M202.1 719.8h0M202.1 718.2h0M203 685.6h0M203 675.4h0M207.5 694.1h0M208.4 684.2h0M208.4 685.6h0M208.4 681.7h0M208.4 682.4h0M209.3 685.8h0M209.3 682.1h0M212 651.9h0M212 645.4h0M212 671.8h0M217.4 639.3h0M217.4 644.5h0M217.4 639.4h0M220.1 653.8h0M220.1 630.4h0M221 647.3h0M221 638.2h0M221 643.3h0M221.9 673.2h0M221.9 666.2h0M221.9 647.3h0M222.8 651.9h0M222.8 682.1h0M223.7 653.6h0M223.7 678.5h0M223.7 678h0M223.7 699.4h0M225.5 692.6h0M225.5 689.1h0M225.5 711.2h0M228.2 641.1h0M228.2 637.9h0M234.5 661.1h0M234.5 660.7h0M234.5 659.6h0M234.5 645.8h0M235.4 646.6h0M236.3 669.2h0M237.2 664h0M237.2 656.9h0M237.2 640.7h0M238.1 690.8h0M238.1 682.7h0M238.1 660.6h0M240.8 663.1h0M240.8 660.8h0M240.8 652h0M240.8 654.2h0M245.3 646.4h0M245.3 647.4h0M245.3 640h0M246.2 633.3h0M246.2 666.5h0M247.1 637.8h0M247.1 644.1h0M247.1 645.3h0M247.1 638.5h0M255.2 621.7h0M255.2 622.1h0M256.1 639.1h0M256.1 634.4h0M256.1 622.8h0M257.9 635h0M257.9 644.7h0M257.9 646.2h0M258.8 633.3h0M259.7 652h0M263.3 634.5h0M263.3 637.2h0M265.1 631.6h0M265.1 625.8h0M273.2 629.1h0M273.2 637.8h0M273.2 632.1h0M275.9 656.5h0M275.9 641.7h0M275.9 640.1h0M277.7 647.1h0M277.7 668.1h0M279.5 627.2h0M279.5 668.3h0M281.3 643.4h0M281.3 637.1h0M283.1 648.7h0M283.1 648h0M284.9 659h0M284.9 662.8h0M284.9 659.6h0M284.9 673.6h0M285.8 674.5h0M285.8 670.1h0M286.7 713.9h0M286.7 684h0M286.7 720.8h0M289.4 722h0M291.2 692.4h0M291.2 693.7h0M292.1 709.3h0M293.9 742.6h0M294.8 692h0M294.8 705.1h0M294.8 691.6h0M295.7 683.4h0M295.7 720.7h0M297.5 717.8h0M297.5 760.8h0M297.5 733.7h0M297.5 742.4h0M298.4 763.1h0M298.4 717.3h0M298.4 759.8h0M301.1 704.3h0M302 745.8h0M302 714.1h0M305.6 675.4h0M306.5 697.3h0M306.5 665.9h0M306.5 680.1h0M307.4 668.2h0M307.4 673.4h0M307.4 671.6h0M307.4 690.3h0M308.3 675.4h0M308.3 673.5h0M308.3 704h0M308.3 704.6h0M310.1 706.7h0M310.1 697.2h0M310.1 718.1h0M310.1 694.2h0M311 712.1h0M311 742.1h0M311 733.7h0M311 747.9h0M311.9 717.4h0M312.8 721.1h0M312.8 722.9h0M312.8 716.8h0M312.8 706.5h0M313.7 711.5h0M313.7 708h0M316.4 703.5h0M319.1 654.7h0M320 642.8h0M320 646.6h0M320 646.5h0M320.9 643h0M343.4 621.8h0M359.6 635.5h0M360.5 645.6h0M360.5 652.6h0M360.5 643.9h0M360.5 646.7h0M361.4 641.6h0M361.4 637.6h0M364.1 733.5h0M364.1 735.8h0M364.1 690.7h0M364.1 758.7h0M368.6 926.6h0M368.6 926.6h0M369.5 926.4h0M369.5 926.1h0M371.3 931.3h0M371.3 929.2h0M371.3 930.4h0M371.3 930.6h0M373.1 945.2h0M373.1 955.6h0M374 948.7h0M374 927.9h0M374 947.7h0M374.9 930.3h0M375.8 938.3h0M375.8 933.3h0M375.8 939.4h0M376.7 936.2h0M380.3 956.8h0M380.3 954.6h0M381.2 948.3h0M381.2 949.9h0M381.2 944.3h0M383 944.4h0M386.6 954.6h0M386.6 954.7h0M386.6 959.8h0M392 966.5h0M392 965.4h0M392 968.3h0M392 971.8h0M395.6 972.7h0M395.6 964.7h0M395.6 969.1h0M395.6 964.3h0M397.4 957.4h0M399.2 968.4h0M399.2 967.2h0M399.2 964.8h0M402.8 970.6h0M402.8 970.6h0M405.5 984.5h0M406.4 986.3h0M407.3 992.5h0M410 982.5h0M410 978.4h0M410 984.8h0M410.9 988.7h0M412.7 983.3h0M412.7 982.7h0M412.7 982.1h0M413.6 993h0M415.4 996.5h0M415.4 989h0M415.4 990.3h0M415.4 991.4h0M566.6 1000h0M566.6 997.5h0M566.6 1003.1h0M567.5 1002h0M567.5 1006.7h0M567.5 1010.6h0M567.5 1001.7h0M568.4 1009h0M568.4 1000.9h0M615.2 1009.1h0M615.2 1007.8h0M615.2 1008.6h0M615.2 1003.5h0M634.1 984.9h0M634.1 987.4h0M634.1 984.4h0M634.1 983.5h0M636.8 994.3h0M636.8 993.5h0M640.4 1004.6h0M640.4 1007h0M648.5 1004.3h0M648.5 1004.5h0M648.5 1004.2h0M648.5 1002.3h0M672.8 1007.4h0M672.8 1005.2h0M672.8 1005.3h0M674.6 1007.1h0M674.6 1008.3h0M674.6 1009.1h0M674.6 1006.4h0M702.5 986.3h0M702.5 978.1h0M702.5 991.3h0M702.5 984.8h0M703.4 985h0M704.3 967.8h0M704.3 970.3h0M706.1 971.3h0M707.9 958.1h0M707.9 950.7h0M707.9 956.4h0M708.8 954.1h0M708.8 947.6h0M709.7 963.9h0M709.7 953.9h0M709.7 961.9h0M709.7 950.6h0M714.2 962.6h0M714.2 964.9h0M714.2 960h0M714.2 948.6h0M716 958.3h0M716 958.4h0M716 963.2h0M716 950.7h0M716.9 951.7h0M718.7 961.8h0M720.5 960.7h0M720.5 959.6h0M720.5 966.9h0M720.5 963h0M724.1 965.9h0M724.1 961.1h0M724.1 969.7h0M727.7 974.8h0M727.7 968.8h0M729.5 982.3h0M779.9 929.5h0M780.8 900.5h0M780.8 899.9h0M782.6 916.5h0M782.6 906.8h0M782.6 908h0M782.6 909.8h0M783.5 934.4h0M784.4 909.3h0M785.3 944.4h0M786.2 944.4h0M796.1 684.6h0M797 681.6h0M797 684.4h0M797 690.9h0M828.5 637.4h0M828.5 640.6h0M832.1 800.7h0M832.1 746.7h0M832.1 713.3h0M833 796h0M833 738.9h0M833.9 746.7h0M833.9 816.9h0M840.2 682.5h0M840.2 697.5h0M846.5 653.7h0M848.3 656.6h0M852.8 652.6h0M852.8 665.3h0M852.8 660.4h0M852.8 665.1h0M853.7 686.9h0M853.7 677.9h0M853.7 673.9h0M853.7 676h0M854.6 689.1h0M854.6 677.9h0M855.5 685.3h0M856.4 709.4h0M856.4 702h0M856.4 697.9h0M857.3 719.8h0M857.3 709.3h0M857.3 735.7h0M857.3 706.8h0M859.1 722h0M860.9 788.4h0M860.9 809.1h0M861.8 737.8h0M862.7 730.6h0M865.4 730.4h0M896.9 627.6h0M896.9 625.4h0M901.4 677.2h0M901.4 675.3h0M901.4 676.8h0M901.4 674.3h0M902.3 679.1h0M902.3 681.9h0M902.3 678.9h0M902.3 686.5h0M903.2 686.9h0M903.2 685h0M903.2 682.6h0M905 722.7h0M905 718.1h0M905 713.8h0M906.8 727.1h0M907.7 735.8h0M907.7 714.8h0M908.6 698.2h0M908.6 695.7h0M908.6 680.2h0M910.4 695.4h0M910.4 704.2h0M910.4 730h0M911.3 720h0M911.3 752.3h0M911.3 726.6h0M911.3 731.4h0M913.1 729.6h0M913.1 716.8h0M913.1 726.3h0M914.9 727.2h0M914.9 713.8h0M914.9 744.8h0M914.9 747.4h0M915.8 724h0M915.8 760.4h0M915.8 707.1h0M915.8 727.7h0M917.6 716.5h0M917.6 762.6h0M918.5 748.1h0M921.2 750.7h0M922.1 804.6h0M922.1 788.4h0M922.1 820.9h0M922.1 830.2h0M923.9 762.3h0M923.9 776.6h0M925.7 715.8h0M925.7 757h0M926.6 677.6h0M926.6 681.8h0M927.5 706.3h0M930.2 712.9h0M932.9 714.1h0M933.8 835.6h0M934.7 778.9h0M934.7 835.1h0M934.7 760.2h0M934.7 779h0M935.6 763.4h0M935.6 766.2h0M935.6 768.5h0M936.5 846.9h0M936.5 801.7h0M937.4 770.4h0M937.4 818.8h0M937.4 742.9h0M938.3 729.6h0M938.3 750h0M938.3 743h0M939.2 803.3h0M941 780.7h0M941 804.7h0M941 747.6h0M941 723.6h0M942.8 771.8h0M942.8 723.5h0M942.8 718.6h0M944.6 721.8h0M944.6 732.9h0M947.3 738.9h0M947.3 694.4h0M947.3 680.1h0M948.2 666.4h0M950 698.5h0M950 699.8h0M950 701.1h0M950 710.4h0M952.7 730.5h0M954.5 726.5h0M954.5 755.3h0M955.4 718.1h0M955.4 706.6h0M955.4 710.7h0M955.4 712.5h0M957.2 735.5h0M957.2 688.7h0M957.2 726.4h0M958.1 668.4h0M958.1 699.1h0M958.1 671.5h0M958.1 673.7h0M959 700.6h0M959 735.3h0M959 679.6h0M960.8 729.1h0M960.8 727.7h0M960.8 732.5h0M960.8 737.9h0M963.5 782.5h0M963.5 790.4h0M963.5 826h0M964.4 780.4h0M965.3 850.5h0M966.2 885.9h0M966.2 885.1h0M966.2 802.5h0M966.2 782.6h0M968 896.2h0M968 874.2h0M968 877.8h0M968 789.7h0M969.8 775.8h0M969.8 856.4h0M969.8 858.2h0M969.8 785.9h0M972.5 760.8h0M973.4 781.2h0M973.4 853.8h0M977 851.7h0M977 847.3h0M977 799.5h0M977 744.3h0M978.8 787.2h0M978.8 808.6h0M978.8 786.6h0M979.7 795.7h0M979.7 792.7h0M979.7 781.1h0M981.5 847.2h0M981.5 878.2h0M983.3 800.3h0M983.3 864.4h0M983.3 846h0M983.3 867.6h0M987.8 784.8h0M987.8 788h0M989.6 794.4h0M990.5 811.1h0M990.5 866.7h0M990.5 853h0M990.5 889.6h0M991.4 801.9h0M991.4 802h0M991.4 806.1h0M991.4 803.3h0M995 813.9h0M995 833.6h0M995 825.4h0M995.9 837.9h0M996.8 801.2h0M997.7 766.9h0M997.7 766.8h0M1000.4 700h0M1000.4 706.5h0M1000.4 702.8h0M1001.3 697.7h0M1003.1 696.4h0M1003.1 712h0M1004 724.6h0M1004 709.5h0M1004 716.2h0M1004 661.2h0M1004.9 701.1h0M1004.9 708.2h0M1004.9 674.4h0M1004.9 697.3h0M1005.8 720.8h0M1005.8 710.3h0M1006.7 768.4h0M1006.7 765.9h0M1007.6 685h0M1007.6 689.9h0M1008.5 809.6h0M1008.5 786.6h0M1009.4 750.2h0M1009.4 753h0M1011.2 756.6h0M1011.2 754.5h0M1011.2 698.4h0M1012.1 707.8h0M1012.1 679.2h0M1012.1 744h0M1013 679.8h0M1014.8 767.6h0M1014.8 735.5h0M1014.8 700.3h0M1015.7 655.3h0M1016.6 670.3h0M1016.6 686.5h0M1017.5 655h0M1018.4 694.3h0M1018.4 695h0M1018.4 678.1h0M1018.4 662h0M1022 744.9h0M1022 748h0M1022 716.9h0M1023.8 756.4h0M1023.8 797.3h0M1023.8 764.7h0M1023.8 777.5h0M1026.5 818.9h0M1027.4 816.9h0M1027.4 816.6h0M1027.4 793.5h0M1028.3 734.3h0M1030.1 711h0M1030.1 670.9h0M1030.1 721.9h0M1030.1 716.2h0M1032.8 682.9h0M1033.7 668.8h0M1033.7 648.9h0M1036.4 665.6h0M1040 638.4h0M1040.9 664.8h0M1040.9 668.2h0M1040.9 669.8h0M1042.7 624h0M1043.6 632.6h0M1043.6 629.6h0M1043.6 672.1h0M1044.5 666.6h0M1044.5 674.5h0M1045.4 650.1h0M1046.3 680.3h0M1046.3 690.8h0M1046.3 716.7h0M1046.3 713.7h0M1047.2 705.7h0M1047.2 710.9h0M1047.2 687.1h0M1050.8 810.6h0M1051.7 793.8h0M1051.7 794.1h0M1051.7 815.5h0M1058 756.4h0M1058.9 678.6h0M1058.9 676.8h0M1059.8 758.4h0M1059.8 758.3h0M1059.8 694.7h0M1059.8 729.7h0M1062.5 776.5h0M1062.5 742h0M1065.2 745.1h0M1065.2 706.9h0M1066.1 758.7h0M1066.1 749.2h0M1066.1 763.6h0M1070.6 834.7h0M1070.6 806.2h0M1070.6 840.6h0M1071.5 784h0M1074.2 792.1h0M1074.2 779.1h0M1074.2 782.8h0M1075.1 799h0M1075.1 802.3h0M1075.1 788.6h0M1075.1 816.9h0M1078.7 674.9h0M1078.7 664.8h0M1078.7 691.7h0M1082.3 763.7h0M1086.8 808.3h0M1091.3 797.4h0M1093.1 734.5h0M1094 791.4h0M1094 795.3h0M1094 797.1h0M1094 766.1h0M1095.8 707.5h0M1095.8 769.6h0M1095.8 731.1h0M1095.8 695.6h0M1097.6 652.5h0M1100.3 816.7h0M1100.3 798.8h0M1101.2 814.7h0M1101.2 834.2h0M1102.1 826.4h0M1102.1 821.4h0M1102.1 860.9h0M1102.1 875.2h0M1103 815.4h0M1103 826.1h0M1103 830.2h0M1103 868.2h0M1105.7 812.2h0M1106.6 811.4h0M1106.6 827.6h0M1106.6 833h0M1107.5 818.4h0M1111.1 778.8h0M1111.1 782.5h0M1111.1 777h0M1111.1 775.7h0M1112 761.2h0M1113.8 744.3h0M1114.7 693.3h0M1114.7 704h0M1115.6 699.2h0M1115.6 649.2h0M1115.6 735.8h0M1115.6 733.7h0M1117.4 638.2h0M1119.2 627.5h0M1119.2 637.4h0M1119.2 648.6h0M1121.9 714.4h0M1124.6 871.2h0M1124.6 863.7h0M1124.6 882h0M1124.6 815h0M1125.5 793.8h0M1125.5 796.5h0M1125.5 792.2h0M1125.5 796.9h0M1127.3 791.4h0M1127.3 785.2h0M1127.3 811.6h0M1129.1 792h0M1129.1 810.2h0M1129.1 793.5h0M1129.1 807.9h0M1130 817.8h0M1130.9 833.6h0M1134.5 906.3h0M1135.4 868.6h0M1136.3 842.4h0M1136.3 858.2h0M1136.3 849.9h0M1137.2 859.3h0M1137.2 874.4h0M1137.2 860.4h0M1138.1 866.6h0M1138.1 864h0M1141.7 920.4h0M1141.7 925.4h0M1145.3 920.9h0M1145.3 932.5h0M1148.9 928.6h0M1148.9 931.8h0M1149.8 908.5h0M1149.8 908h0M1154.3 929.7h0M1154.3 899.4h0M1154.3 929.3h0M1155.2 885.3h0M1157 933.7h0M1162.4 933h0M1162.4 920.4h0M1162.4 937.6h0M1164.2 931.1h0M1166 924h0M1166 938.6h0M1167.8 895.4h0M1167.8 894.2h0M1169.6 921.8h0M1169.6 885.5h0M1170.5 880.1h0M1170.5 887h0M1171.4 891.4h0M1171.4 883.5h0M1171.4 883.8h0M1172.3 911.5h0M1173.2 923.8h0M1173.2 904.6h0M1173.2 907.4h0M1174.1 898.5h0M1174.1 905h0M1176.8 914.8h0M1176.8 907.5h0M1177.7 920.1h0M1177.7 917.4h0M1177.7 913.2h0M1177.7 913.5h0M1182.2 934.7h0M1182.2 939.6h0M1182.2 948h0M1182.2 952.6h0M1188.5 707.6h0M1190.3 676h0M1190.3 663.6h0M1190.3 648.8h0M1193.9 638h0M1193.9 637.7h0M1193.9 637.1h0M1193.9 633.1h0M1194.8 659.8h0M1194.8 637.7h0M1194.8 661.7h0M1195.7 664.8h0M1196.6 691.4h0M1197.5 726h0M1197.5 744.4h0M1197.5 735.7h0M1197.5 736h0M1198.4 764.5h0M1198.4 774.1h0M1198.4 770.8h0M1198.4 771h0M1199.3 782.3h0M1200.2 823.1h0M1200.2 807.8h0M1201.1 786.5h0M1205.6 810.8h0M1205.6 852.1h0M1205.6 841.3h0M1206.5 843.9h0M1206.5 819.5h0M1206.5 811.6h0M1207.4 836.4h0M1207.4 819.8h0M1209.2 830.5h0M1211 881.5h0M1212.8 896.1h0M1213.7 930.9h0M1215.5 926.5h0M1215.5 917.7h0M1215.5 920.1h0M1215.5 919.5h0M1216.4 942.6h0M1216.4 943.8h0M1218.2 925.6h0M1236.2 687.8h0M1236.2 709.3h0M1236.2 693.9h0M1237.1 708.3h0M1238 750.9h0M1238 739h0M1238 726.8h0M1238 732.7h0M1238.9 710.1h0M1243.4 681.4h0M1243.4 706.3h0M1245.2 710.9h0M1245.2 699.4h0M1245.2 706h0M1247 692.1h0M1248.8 692.2h0M1249.7 695.3h0M1249.7 782.5h0M1250.6 716.7h0M1251.5 699.7h0M1252.4 718.6h0M1252.4 713h0M1252.4 777.4h0M1252.4 806.6h0M1254.2 805h0M1254.2 771.5h0M1255.1 805.1h0M1255.1 755.4h0M1255.1 760.4h0M1255.1 753.9h0M1256 749.2h0M1256 770.8h0M1256.9 793.5h0M1256.9 809.5h0M1256.9 799.2h0M1256.9 767.3h0M1257.8 865.2h0M1257.8 762.1h0M1257.8 819.1h0M1257.8 820h0M1262.3 865.7h0M1262.3 855.4h0M1263.2 895.3h0M1263.2 879.5h0M1264.1 880.9h0M1264.1 881.5h0M1264.1 893.6h0M1265.9 868.5h0M1269.5 852h0M1269.5 893.4h0M1272.2 878.8h0M1272.2 907.3h0M1272.2 876.2h0M1272.2 859.2h0M1273.1 874.4h0M1273.1 888.7h0M1273.1 858.3h0M1273.1 926.2h0M1274 892.5h0M1274 863.7h0M1275.8 932.3h0M1275.8 924.4h0M1275.8 932.7h0M1277.6 928.9h0M1277.6 926.6h0M1278.5 911.3h0M1278.5 908.3h0M1278.5 914.1h0M1278.5 917.6h0M1280.3 892.2h0M1280.3 895.4h0M1282.1 886.8h0M1282.1 884.5h0M1282.1 886.9h0M1282.1 888.4h0M1283 892.3h0M1285.7 873.9h0M1285.7 890.3h0M1285.7 888.7h0M1285.7 901.1h0M1286.6 848h0M1286.6 885.4h0M1286.6 904.4h0M1287.5 847h0M1287.5 867.6h0M1288.4 795.1h0M1288.4 799.4h0M1289.3 850.1h0M1289.3 841.3h0M1290.2 824.7h0M1290.2 780.5h0M1290.2 817.6h0M1291.1 785.2h0M1291.1 786.3h0M1291.1 810.3h0M1292 767.8h0M1292 778.9h0M1293.8 760.9h0M1294.7 767.9h0M1294.7 766.9h0M1294.7 769.9h0M1294.7 773.7h0M1297.4 771.9h0M1298.3 780.1h0M1298.3 783.1h0M1298.3 785.7h0M1301.9 728.3h0M1301.9 748.2h0M1301.9 747.6h0M1302.8 792h0M1302.8 739.2h0M1302.8 721.3h0M1302.8 798.2h0M1305.5 852.1h0M1307.3 840.7h0M1307.3 811.6h0M1307.3 879.4h0M1307.3 834h0M1308.2 848.8h0M1308.2 840.7h0M1308.2 879.4h0M1308.2 855.3h0M1314.5 855.1h0M1314.5 883.7h0M1315.4 830.8h0M1315.4 819.4h0M1315.4 827h0M1315.4 837.6h0M1316.3 808.9h0M1316.3 811.2h0M1316.3 806.2h0M1316.3 805.8h0M1319 819.5h0M1319 881.9h0M1319 894.8h0M1319 797.5h0M1319.9 818.8h0M1319.9 805.4h0M1319.9 796h0M1319.9 836.6h0M1320.8 760.3h0M1320.8 761.3h0M1321.7 802.4h0M1322.6 738.1h0M1322.6 860.9h0M1322.6 728.9h0M1328.9 847.6h0M1328.9 727.6h0M1330.7 845.2h0M1330.7 783.1h0M1330.7 752.8h0M1330.7 797.3h0M1332.5 706.2h0M1332.5 717.5h0M1332.5 725.6h0M1332.5 711.4h0M1333.4 727.7h0M1333.4 739.2h0M1333.4 773.5h0M1334.3 685.5h0M1334.3 679.3h0M1334.3 668.6h0M1346.9 630h0M1348.7 687.6h0M1348.7 695.4h0M1348.7 692.5h0M1349.6 668.5h0M1351.4 662.3h0M1351.4 667h0M1351.4 694h0M1351.4 660.7h0M1355 652.2h0M1356.8 651.7h0M1356.8 655.4h0M1358.6 632.6h0M1358.6 659.3h0M1358.6 633.9h0M1358.6 643.1h0M1359.5 638h0M1359.5 641.7h0M1362.2 710h0M1362.2 705.1h0M1364 728h0M1364 715.3h0M1369.4 744.3h0M1370.3 782.6h0M1370.3 776h0M1371.2 685.8h0M1371.2 691.4h0M1371.2 690.8h0M1372.1 768.1h0M1372.1 760.3h0M1373.9 685.7h0M1373.9 686.5h0M1375.7 655h0M1375.7 646.7h0M1376.6 654.4h0M1376.6 643.8h0M1376.6 682.3h0M1377.5 644.5h0M1377.5 678.9h0M1378.4 642.9h0M1378.4 685.8h0M1378.4 688.3h0M1378.4 660h0M1381.1 717.2h0M1382.9 823h0M1382.9 831.8h0M1382.9 844.3h0M1383.8 834.2h0M1383.8 735.8h0M1383.8 820.2h0M1385.6 741.7h0M1385.6 710.5h0M1385.6 768.7h0M1386.5 813.3h0M1386.5 736.4h0M1386.5 722.2h0M1386.5 697h0M1387.4 748.7h0M1387.4 733.9h0M1387.4 703.7h0M1390.1 716.4h0M1390.1 725.7h0M1390.1 711.2h0M1390.1 692.8h0M1393.7 829.4h0M1393.7 784.1h0M1393.7 809h0M1399.1 847h0M1399.1 842.8h0M1399.1 802.6h0M1400 809.3h0M1400 842.7h0M1400 802.9h0M1400 814.4h0M1400.9 777.8h0M1400.9 776.5h0M1401.8 763.2h0M1401.8 771.6h0M1401.8 770.2h0M1403.6 758h0M1403.6 753.4h0M1403.6 754h0M1404.5 765.3h0M1404.5 764.4h0M1405.4 773.6h0M1405.4 753.6h0M1407.2 808.3h0M1407.2 808.2h0M1407.2 784h0M1407.2 818.3h0M1409 787.1h0M1409 784.6h0M1409 791.3h0M1409 787.4h0M1410.8 783.2h0M1410.8 754.1h0M1410.8 788h0M1411.7 735.8h0M1412.6 706.6h0M1412.6 702.8h0M1412.6 707.6h0M1414.4 692.5h0M1414.4 693.6h0M1414.4 692h0M1414.4 688h0M1417.1 689.7h0M1417.1 678.1h0M1417.1 686.1h0M1418.9 641.8h0M1418.9 639.8h0M1418.9 646h0M1418.9 639h0M1419.8 697.8h0M1421.6 665.5h0M1421.6 681.1h0M1421.6 708.5h0M1421.6 674.5h0M1422.5 641h0M1422.5 634.8h0M1422.5 627.1h0M1423.4 666.2h0M1426.1 622h0M1426.1 634.7h0M1427 628.3h0M1427 623.3h0M1427 656.8h0M1450.4 636.4h0M1453.1 635.2h0M1453.1 626.3h0M1453.1 635.4h0M1454.9 624.7h0M1454.9 623.7h0M1454.9 633.5h0M1454.9 634.3h0M1457.6 638.8h0M1457.6 640.4h0M1457.6 668.8h0M1457.6 647.8h0M1459.4 662.5h0M1459.4 657.2h0M1459.4 662.5h0M1459.4 681.1h0M1460.3 687.3h0M1460.3 669h0M1460.3 686.8h0M1461.2 652h0M1461.2 671.2h0M1461.2 642.1h0M1461.2 675.1h0M1462.1 665.4h0M1462.1 663.1h0M1462.1 676h0M1462.1 674.6h0" stroke="#1f77b4" stroke-width="4.9" stroke-linecap="round" fill="none"/></g><g stroke="#b0b0b0" stroke-width="1.1" stroke-dasharray="1.1 1.83" fill="none"><path d="M284.6 587.3V1054.3"/><path d="M452.8 587.3V1054.3"/><path d="M621.1 587.3V1054.3"/><path d="M789.3 587.3V1054.3"/><path d="M957.6 587.3V1054.3"/><path d="M1125.9 587.3V1054.3"/><path d="M1294.1 587.3V1054.3"/><path d="M116.3 1035.2H1462.4"/><path d="M116.3 933.9H1462.4"/><path d="M116.3 832.7H1462.4"/><path d="M116.3 731.4H1462.4"/><path d="M116.3 630.1H1462.4"/></g><polyline clip-path="url(#c2)" points="116.3,848.7 116.8,848.7 119.2,887.6 121.3,918.3 123.3,926.5 124.7,944.9 126.4,932.6 128,955.2 129.5,931.6 131.1,975.6 132.5,922.4 134.2,846.6 135.6,869.1 137.6,793.9 140.3,875.3 142.4,765.2 143.8,775.4 145.8,745.8 147.9,759.1 149.9,763.2 152,834.3 154,738.6 156.7,773.4 158.1,755 159.8,771.3 160.8,748.8 162.8,838.4 164.3,820.5 166.1,791.8 168,773.4 169.8,840.5 171.8,745.8 173.9,781.6 175.1,783.6 176.6,836.4 178.6,777.5 180.6,798 182.1,800 184.1,837.8 186.2,858.9 188.8,759.1 190.9,802.1 192.5,810.3 195,869.1 197,802.1 198.5,810.3 200.5,793.9 202.6,836.4 204.2,802.1 206.2,830.2 209.3,834.3 212.4,763.2 214.4,773.4 217.5,743.7 220.6,779.5 222.6,755 225.7,814.4 228.4,872.2 230.8,696.6 232.9,820.5 234.7,763.9 236.6,720.2 239.4,887.6 241.8,805.7 244.1,713 245.9,754.2 247.6,798 249.5,749.8 251.3,687.4 253.3,685.3 255.4,653.6 257.8,707.9 260.5,740.6 263.2,695.6 265.6,691.5 268.7,643.4 271.8,695.6 273.8,748.8 275.5,703.8 277.5,748.8 278.9,738.6 281,740.6 283.7,828.2 286.1,816.4 288.6,771.3 291.2,820.5 294.3,865.1 296.8,792.8 299.4,820.5 302.1,870.2 304.1,828.1 306.2,787.7 308.2,837.7 310.3,904 312,861.9 313.8,805.1 315.4,810.3 317.2,791.8 319.3,789.8 320.9,769.3 322.7,737.8 324.4,712 326,736.5 328.7,742.7 331.6,719.1 334.2,737.6 336.7,688.4 339.4,761.1 341,714 342.8,806.2 345.5,687.4 348.2,634.1 350.6,633.1 353.1,620.8 354.7,666.9 356.8,712 358.4,722.2 359.8,691.5 361.5,850.7 362.9,932.6 364.9,971.5 367,979.5 369,984.8 371.1,983.1 373.1,976.7 375.2,983.8 377.2,977.7 378.9,980.2 380.6,985.7 382.4,987.9 385.4,994.1 387.5,987.9 389.5,994.4 391.6,1002.4 393.6,1008.4 395.4,1000.3 397.1,990 399.8,1002.3 401.5,1002.9 403.2,1005.7 404.9,1006.3 406.6,1008.3 408.2,1007.8 409.9,1008.1 411.6,1010.1 413.2,1011.3 414.9,1011.2 416.6,1011.4 418.3,1013.7 419.9,1013.5 421.6,1014.9 423.3,1016.7 424.9,1016.1 426.6,1017.9 428.3,1018 430,1020 431.6,1020.4 433.3,1021.7 435,1021.7 436.7,1023.6 438.3,1023.2 440,1024.9 441.8,1025.6 443.7,1024.7 445.5,1026.7 447.3,1026.7 449,1027.7 450.6,1027.4 452.2,1027.4 453.9,1026.3 455.5,1026.3 457.1,1024.2 459,1025 460.8,1025.6 462.6,1025.1 464.5,1024.9 466.1,1025.7 467.7,1025.7 469.3,1024 471,1025.2 472.6,1024.9 474.2,1023.7 475.9,1023.5 477.5,1023.5 479.1,1024.6 480.8,1025.7 482.4,1024.1 484,1025.4 485.7,1025.7 487.3,1024.9 488.9,1025.6 490.5,1023.5 492.2,1024.8 493.8,1024.2 495.6,1024 497.5,1025.2 499.3,1024.1 501.1,1025.4 502.9,1026.5 504.6,1026.3 506.4,1024.9 508.1,1025 509.9,1026.1 511.6,1025.6 513.4,1024.9 515.1,1024.8 516.8,1023.7 518.5,1024 520.2,1024.7 521.9,1024.2 525.1,1019.3 527.6,1021 530,1025.9 532,1026.4 533.9,1024.3 535.9,1025 537.8,1024.2 539.5,1023.1 541.1,1023.4 542.7,1021.8 544.3,1020.6 546,1020.2 547.6,1021.7 549.2,1020 550.9,1021.6 552.5,1020.5 554.1,1021.7 555.8,1021.3 557.4,1021 559,1022.9 560.7,1023 562.3,1023.5 564.1,1022.4 566,1019.3 568.4,1023 570.1,1023.8 571.8,1021.5 573.5,1021.4 575.2,1021.1 577,1022 578.6,1022.7 580.2,1023.5 581.8,1023.4 583.5,1021.8 585.1,1024 586.7,1023 588.8,1024.3 590.8,1022.9 592.9,1024.2 594.5,1022.8 596.1,1021.6 597.7,1021.8 599.8,1020.3 601.9,1017.6 604.1,1020 606.3,1020.5 607.9,1020.7 609.6,1023.2 611.2,1023 612.8,1022.4 614.5,1022.9 616.1,1022 618.1,1022.8 620.2,1022.2 622.2,1023 624,1024.6 625.9,1024.2 628.1,1021.3 630.3,1019.3 632.7,1013.2 634.4,1007.1 636.1,1018.1 638.6,1021 640.5,1015.7 643,1022 644.8,1022.4 646.7,1021 649.1,1015.7 651.5,1021.8 653.6,1021.8 655.6,1022.1 657.7,1023 659.3,1022.1 660.9,1022.8 662.6,1023.1 664.2,1022.8 665.8,1023.8 667.4,1023 669.3,1021.4 671.1,1017.6 673.6,1021.8 675.4,1020.8 677.2,1021.7 679.1,1020.2 680.9,1021 682.7,1022.9 684.6,1023 686.2,1021.6 687.8,1021.5 689.5,1021 692.4,1018.1 695.6,1023 698.8,1018.6 700.7,1022.5 702.2,1015.2 705.4,999.8 707.1,1005.9 709,990.7 712,998.5 714.4,1001.5 717.6,995.6 719.4,999.2 721.2,1003.9 723.1,1001 724.9,999 728.1,1008.3 731,1013.2 732.9,1017.1 734.7,1019.3 736.5,1020.7 738.4,1023 740.4,1023.7 742.4,1026.4 744.5,1026.9 746.3,1027.3 748.2,1028.2 750,1028.5 751.8,1028.4 753.9,1027.2 755.9,1028.6 757.9,1027.9 759.6,1026.4 761.2,1027.6 762.8,1026.9 764.9,1027 766.9,1026.2 768.9,1025.4 770.6,1024 772.2,1022.8 773.8,1020.5 776.3,1013.2 778.7,991.2 780.7,969.2 782.4,953.3 784.1,979 785.3,996.1 786.8,1003.9 788.5,996.1 790.2,988.8 792.2,976.5 793.6,957 795.1,925.2 796.6,881.4 797.6,830.2 798.7,769.3 800.3,759.1 802.4,795.9 803.8,687.4 805.2,620.8 806.9,652.6 808.5,691.5 810.1,622.9 812,718.1 813.4,798 814.6,761.1 816.7,795.9 818.1,812.3 819.6,728.3 821.2,636.2 822.2,615.7 823.7,666.9 825.3,897.8 826.9,732.4 828.4,825 830.4,957.2 831.8,926.5 833.5,972.6 835.9,875.3 837.6,914.2 839.6,840.5 841.7,918.3 843.7,765.2 845.8,810.3 847.8,875.3 849.9,842.5 852.3,746.8 854.4,852.8 856,934.7 858.1,879.4 860.1,918.3 861.7,887.6 863.8,972.6 866.2,767.3 868.3,869.1 870.8,798 873.4,693.5 875.5,705.8 876.9,683.3 879.6,779.5 881,681.2 882.6,728.3 884.7,646.4 887.1,654.6 888.8,687.4 890.8,810.3 892.9,840.5 894.9,887.6 897.4,670 899,810.3 901.1,885.5 903.1,824.1 905.2,895.8 908.2,904 910.3,868.1 912.3,920.3 914.4,871.2 915.8,901.9 917.4,885.5 920.5,910.1 923.6,957.2 926.7,901.9 929.3,774.4 931.8,881.4 933.2,961.3 935.9,985.9 938.9,971.5 941,908.1 943.7,891.7 945.7,932.6 948.2,825.1 950.2,887.6 952.3,867.1 955.3,914.2 958,837.4 960.4,934.7 963.5,983.8 965.6,961.3 967.6,952.1 970.7,969.5 972.7,940.7 974.8,897.8 976.8,940.8 978.9,961.3 981.9,917.3 984,971.5 986,926.5 988.1,982.8 990.8,960.3 992.8,979.7 995.3,908.1 997.3,930.6 999.4,893.8 1001.4,863 1004.5,827.2 1007.1,938.8 1009.2,908.1 1011.6,957.2 1014.1,922.4 1016.8,800 1018.8,854.8 1021.9,901.9 1024.9,931.6 1028,935.7 1031.1,869.1 1034.2,808.2 1037.2,879.4 1039.9,884.5 1041.9,820.5 1044.4,856.9 1046,830.2 1047.8,889.8 1049.5,940.8 1052.6,959.2 1055.7,842.5 1058.3,936.7 1060.4,908.1 1062.4,956.2 1064.9,810.3 1066.6,942.9 1068.2,968.9 1069.8,988.9 1072.3,942.9 1074.3,930.6 1076.4,976.7 1078,840.5 1079.5,772.4 1081.1,940.8 1082.9,936.7 1085.6,963.3 1088.3,981.8 1090.7,949 1092.8,961.3 1094.8,972.6 1096.5,781.6 1097.9,881.4 1099.5,995.1 1101,967.4 1102.6,979.7 1105.5,950 1107.5,961.3 1109.6,943.9 1112.2,930.6 1114.9,912.2 1116.9,799 1118.8,918.3 1120.4,867.1 1122.5,979.7 1124.5,939.8 1127,996.1 1129.6,944.9 1131.7,994.1 1133.7,975.6 1135.8,990 1137.8,941.8 1140.3,983.8 1142.5,1007.4 1145,996.1 1147,982.8 1149.1,1001.2 1151.7,981.8 1153.8,983.8 1156.2,970.5 1159.3,995.1 1161.8,976.7 1164,990 1165.5,977.7 1167.1,1007.4 1169.1,969.5 1171.6,996.1 1173.7,974.6 1176.3,961.3 1178.8,987.9 1180.8,977.7 1183.5,1008.4 1184.9,981.8 1186.6,1018.6 1188,922.4 1189.4,810.3 1192.5,732.4 1194.1,840.5 1195.6,834.3 1198.2,908.1 1200.3,928.5 1202.7,976.7 1204.4,954.1 1206.4,975.6 1207.8,958.2 1210.5,977.7 1212.6,978.7 1214.6,991 1217.7,996.1 1219.7,979.7 1221.8,942.9 1223.8,861 1225.5,746.8 1227.5,765.2 1229.6,767.3 1231.6,961.3 1233,830.2 1235.1,810.3 1238.2,963.3 1240.2,871.2 1241.8,914.2 1243.9,812.3 1245.3,844.6 1248.4,926.5 1250.4,906 1252.5,930.6 1255.6,925.5 1258.6,983.8 1260.7,963.3 1263.8,956.2 1266.8,967.4 1269.3,993 1271.3,956.2 1274,995.1 1276,977.7 1277.5,988.9 1279.1,969.5 1281.6,948 1283.6,983.8 1285.3,961.3 1286.9,979.7 1289.4,942.9 1292,891.7 1294.1,920.3 1295.9,906 1298.6,973.6 1301.2,892.7 1303.3,928.5 1305.7,961.3 1307.4,967.4 1309.8,952.1 1312.3,981.8 1314.9,954.1 1317,967.4 1318.4,943.9 1320.1,972.6 1322.5,972.6 1324.2,895.8 1326.2,986.9 1328.7,967.4 1331.3,961.3 1333.4,922.4 1335.4,840.5 1336.9,748.8 1338.9,673.1 1341.6,737.6 1343.6,677.2 1345.7,789.8 1347.3,957.2 1349.8,873.2 1351.8,918.3 1354.3,720.2 1356.3,810.3 1358.3,942.9 1360,947 1362.4,742.7 1364.5,994.1 1366.5,922.4 1368.2,901.9 1369.6,800 1371.7,955.2 1373.7,899.9 1375.1,980.8 1377.4,737.6 1379.2,906 1381.9,970.5 1385,934.7 1388,877.3 1390.1,887.6 1392.1,897.8 1394.8,988.9 1397.3,973.6 1399.7,940.8 1401.8,942.9 1404,885.5 1406.1,947 1408.1,908.1 1410.2,944.9 1412.6,893.7 1415.3,793.9 1417.7,899.9 1419.8,820.5 1422.9,912.2 1425.9,728.3 1427.6,840.5 1429.6,887.6 1431.7,705.8 1434.1,810.3 1436.6,901.9 1439.2,683.3 1441.3,644.4 1443.3,728.3 1445.4,744.7 1447.4,789.8 1449.5,891.7 1451.2,827.6 1453,765.2 1455,806.2 1456.6,793.9 1458.3,924.4 1460.7,798 1462.2,840.5" fill="none" stroke="#ff7f0e" stroke-width="2.08" stroke-linejoin="round"/><g stroke="#000" stroke-width="1.11" fill="none"><rect x="116.3" y="59.6" width="1346.1" height="466.8"/><path d="M116.3 526.4v4.9"/><path d="M284.6 526.4v4.9"/><path d="M452.8 526.4v4.9"/><path d="M621.1 526.4v4.9"/><path d="M789.3 526.4v4.9"/><path d="M957.6 526.4v4.9"/><path d="M1125.9 526.4v4.9"/><path d="M1294.1 526.4v4.9"/><rect x="116.3" y="587.3" width="1346.1" height="467"/><path d="M116.3 1054.3v4.9"/><path d="M284.6 1054.3v4.9"/><path d="M452.8 1054.3v4.9"/><path d="M621.1 1054.3v4.9"/><path d="M789.3 1054.3v4.9"/><path d="M957.6 1054.3v4.9"/><path d="M1125.9 1054.3v4.9"/><path d="M1294.1 1054.3v4.9"/><path d="M116.3 136.1h-4.9"/><path d="M116.3 232.7h-4.9"/><path d="M116.3 329.2h-4.9"/><path d="M116.3 425.8h-4.9"/><path d="M116.3 522.3h-4.9"/><path d="M116.3 1035.2h-4.9"/><path d="M116.3 933.9h-4.9"/><path d="M116.3 832.7h-4.9"/><path d="M116.3 731.4h-4.9"/><path d="M116.3 630.1h-4.9"/></g><rect x="1047.5" y="68.3" width="406.3" height="80.8" rx="2.8" ry="2.8" fill="#fff" fill-opacity="0.8" stroke="#ccc" stroke-opacity="0.8" stroke-width="1.1"/><circle cx="1073.3" cy="83.4" r="2.7" fill="#1f77b4"/><path d="M1053.2 121.9H1092" stroke="#ff7f0e" stroke-width="2.1" fill="none"/><text x="1106.3" y="88.9" font-size="17" text-anchor="start" textLength="99.5" lengthAdjust="spacingAndGlyphs">Raw Data</text><text x="1106.3" y="115.8" font-size="17" text-anchor="start" textLength="270" lengthAdjust="spacingAndGlyphs">Butterworth Filtered Data</text><text x="1106.3" y="136.3" font-size="17" text-anchor="start" textLength="339.5" lengthAdjust="spacingAndGlyphs">(N=6, Tc=3.3333 min, Type: low)</text><rect x="1047.5" y="596.5" width="406.3" height="80.8" rx="2.8" ry="2.8" fill="#fff" fill-opacity="0.8" stroke="#ccc" stroke-opacity="0.8" stroke-width="1.1"/><circle cx="1073.3" cy="611.6" r="2.7" fill="#1f77b4"/><path d="M1053.2 650.1H1092" stroke="#ff7f0e" stroke-width="2.1" fill="none"/><text x="1106.3" y="617.1" font-size="17" text-anchor="start" textLength="99.5" lengthAdjust="spacingAndGlyphs">Raw Data</text><text x="1106.3" y="644" font-size="17" text-anchor="start" textLength="270" lengthAdjust="spacingAndGlyphs">Butterworth Filtered Data</text><text x="1106.3" y="664.5" font-size="17" text-anchor="start" textLength="339.5" lengthAdjust="spacingAndGlyphs">(N=6, Tc=3.3333 min, Type: low)</text><text x="783.7" y="29.6" font-size="27" text-anchor="middle" textLength="281.5" lengthAdjust="spacingAndGlyphs">5.0 MHz N0000001</text><text x="116.4" y="29.7" font-size="27" text-anchor="start" textLength="41.5" lengthAdjust="spacingAndGlyphs">(a)</text><text x="116.4" y="578.5" font-size="27" text-anchor="start" textLength="42.5" lengthAdjust="spacingAndGlyphs">(b)</text><text x="116" y="53.5" font-size="21.4" text-anchor="start" textLength="64.5" lengthAdjust="spacingAndGlyphs">+5e6</text><text x="106.3" y="143.8" font-size="21.4" text-anchor="end" textLength="14.6" lengthAdjust="spacingAndGlyphs">2</text><text x="106.3" y="240.3" font-size="21.4" text-anchor="end" textLength="14.6" lengthAdjust="spacingAndGlyphs">0</text><text x="106.3" y="336.9" font-size="21.4" text-anchor="end" textLength="32.6" lengthAdjust="spacingAndGlyphs">−2</text><text x="106.3" y="433.4" font-size="21.4" text-anchor="end" textLength="32.6" lengthAdjust="spacingAndGlyphs">−4</text><text x="106.3" y="530" font-size="21.4" text-anchor="end" textLength="32.6" lengthAdjust="spacingAndGlyphs">−6</text><text x="105.5" y="1042.9" font-size="21.4" text-anchor="end" textLength="37.6" lengthAdjust="spacingAndGlyphs">0.0</text><text x="105.5" y="941.6" font-size="21.4" text-anchor="end" textLength="37.6" lengthAdjust="spacingAndGlyphs">0.1</text><text x="105.5" y="840.4" font-size="21.4" text-anchor="end" textLength="37.6" lengthAdjust="spacingAndGlyphs">0.2</text><text x="105.5" y="739.1" font-size="21.4" text-anchor="end" textLength="37.6" lengthAdjust="spacingAndGlyphs">0.3</text><text x="105.5" y="637.8" font-size="21.4" text-anchor="end" textLength="37.6" lengthAdjust="spacingAndGlyphs">0.4</text><text x="114.3" y="1076.9" font-size="21.4" text-anchor="end" textLength="114.5" lengthAdjust="spacingAndGlyphs" transform="rotate(-30 114.3 1076.9)">08-14 00</text><text x="282.6" y="1076.9" font-size="21.4" text-anchor="end" textLength="114.5" lengthAdjust="spacingAndGlyphs" transform="rotate(-30 282.6 1076.9)">08-14 03</text><text x="450.8" y="1076.9" font-size="21.4" text-anchor="end" textLength="114.5" lengthAdjust="spacingAndGlyphs" transform="rotate(-30 450.8 1076.9)">08-14 06</text><text x="619.1" y="1076.9" font-size="21.4" text-anchor="end" textLength="114.5" lengthAdjust="spacingAndGlyphs" transform="rotate(-30 619.1 1076.9)">08-14 09</text><text x="787.3" y="1076.9" font-size="21.4" text-anchor="end" textLength="114.5" lengthAdjust="spacingAndGlyphs" transform="rotate(-30 787.3 1076.9)">08-14 12</text><text x="955.6" y="1076.9" font-size="21.4" text-anchor="end" textLength="114.5" lengthAdjust="spacingAndGlyphs" transform="rotate(-30 955.6 1076.9)">08-14 15</text><text x="1123.9" y="1076.9" font-size="21.4" text-anchor="end" textLength="114.5" lengthAdjust="spacingAndGlyphs" transform="rotate(-30 1123.9 1076.9)">08-14 18</text><text x="1292.1" y="1076.9" font-size="21.4" text-anchor="end" textLength="114.5" lengthAdjust="spacingAndGlyphs" transform="rotate(-30 1292.1 1076.9)">08-14 21</text><text x="789.4" y="1158" font-size="21.4" text-anchor="middle" textLength="50" lengthAdjust="spacingAndGlyphs">UTC</text><text x="59.9" y="292.6" font-size="21.4" text-anchor="middle" textLength="226.5" lengthAdjust="spacingAndGlyphs" transform="rotate(-90 59.9 292.6)">Doppler Shift [Hz]</text><text x="55.6" y="821.8" font-size="21.4" text-anchor="middle" textLength="209.5" lengthAdjust="spacingAndGlyphs" transform="rotate(-90 55.6 821.8)">Peak Voltage [V]</text></svg></body></html>
